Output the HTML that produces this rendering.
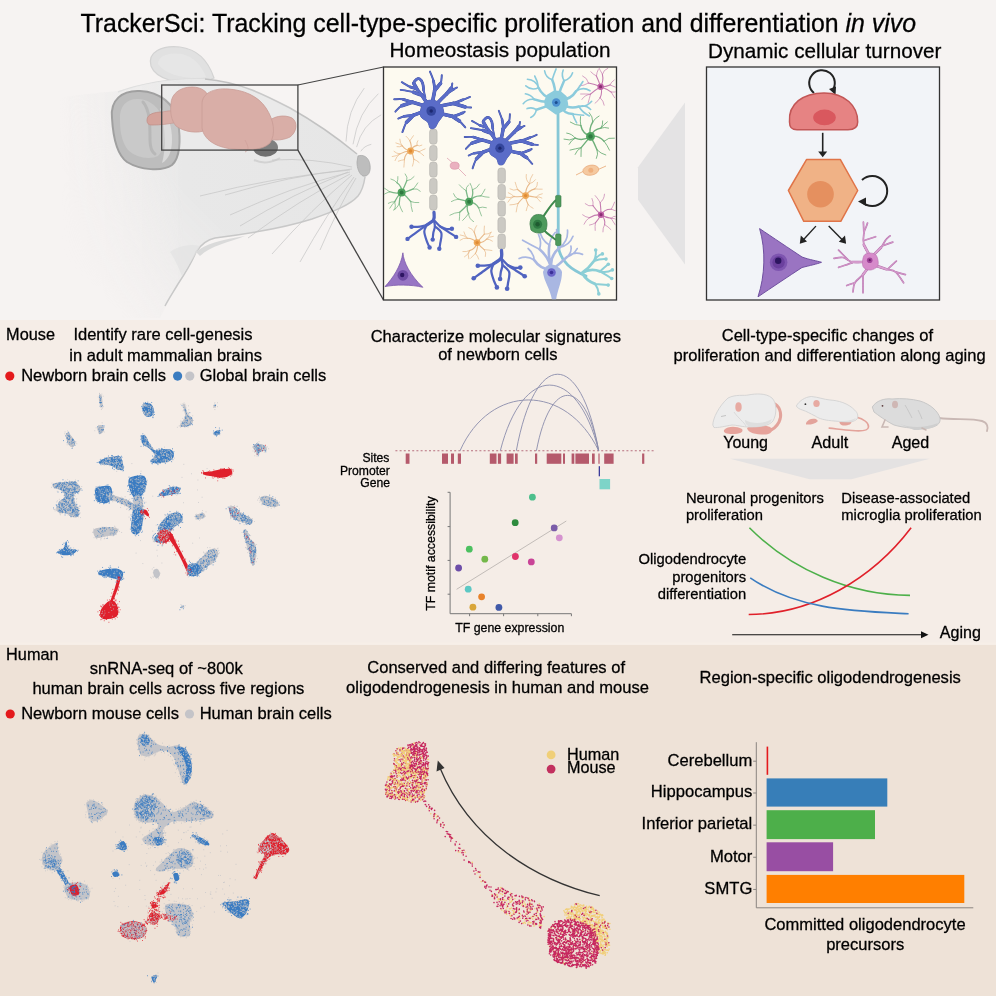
<!DOCTYPE html>
<html><head><meta charset="utf-8"><title>TrackerSci graphical abstract</title>
<style>
html,body{margin:0;padding:0;background:#f6f3f2;}
body{width:996px;height:996px;overflow:hidden;}
svg{display:block;font-family:'Liberation Sans', Arial, Helvetica, sans-serif;}
text{stroke:#000;stroke-width:0.28px;}
</style></head><body>
<svg width="996" height="996" viewBox="0 0 996 996">
<rect x="0" y="0" width="996" height="320" fill="#f6f3f2"/>
<rect x="0" y="320" width="996" height="325" fill="#f5ede7"/>
<rect x="0" y="645" width="996" height="351" fill="#eee2d7"/>
<rect x="0" y="642.5" width="996" height="2" fill="#f7efe8"/>
<defs>
<linearGradient id="hg" x1="0" y1="0" x2="1" y2="0" gradientUnits="objectBoundingBox">
 <stop offset="0" stop-color="#e9e9e9" stop-opacity="0"/>
 <stop offset="0.22" stop-color="#e9e9e9" stop-opacity="0.55"/>
 <stop offset="0.4" stop-color="#e8e8e8" stop-opacity="1"/>
 <stop offset="1" stop-color="#e6e6e6" stop-opacity="1"/>
</linearGradient>
<linearGradient id="mg" gradientUnits="userSpaceOnUse" x1="105" y1="300" x2="200" y2="205">
 <stop offset="0" stop-color="#fff" stop-opacity="0"/>
 <stop offset="0.55" stop-color="#fff" stop-opacity="0.6"/>
 <stop offset="1" stop-color="#fff" stop-opacity="1"/>
</linearGradient>
<mask id="hm" maskUnits="userSpaceOnUse" x="0" y="0" width="400" height="330"><rect x="0" y="0" width="400" height="330" fill="url(#mg)"/></mask>
</defs>
<path d="M151,66 C147,52 162,45 180,47 C196,49 208,60 214,78 L200,84 C180,84 156,80 151,66 Z" fill="#e1e1e1" stroke="#d3d3d3" stroke-width="1.2"/>
<path d="M158,64 C158,55 170,52 182,54 C194,57 202,66 206,77 C190,80 166,76 158,64 Z" fill="#e6e6e6"/>
<g mask="url(#hm)">
<path d="M118,92 C140,84 170,78 205,79" fill="none" stroke="#dcdcdc" stroke-width="1.4"/>
<path d="M60,98 C85,94 105,92 120,91 C140,84 170,78 205,79 C240,82 265,95 290,108 C315,122 340,140 357,154 C362,157 368,160 370,166 C371,171 368,176 365,177 C364,184 362,191 358,196 C350,205 335,211 312,219 C290,226 255,233 215,238 C205,240 200,246 196,252 C192,262 186,272 178,284 C172,294 166,305 160,318 L60,318 Z" fill="url(#hg)"/>
</g>
<path d="M205,79 C240,82 265,95 290,108 C315,122 340,140 357,154" fill="none" stroke="#c2c2c2" stroke-width="1.5"/>
<path d="M365,177 C364,184 362,191 358,196 C350,205 335,211 312,219 C290,226 255,233 215,238 C205,240 200,246 196,252 C192,262 186,272 178,284 C172,294 168,300 165,306" fill="none" stroke="#c8c8c8" stroke-width="1.5"/>
<path d="M196,252 C205,244 220,240 245,236 C230,242 210,246 200,256 Z" fill="#dadada"/>
<path d="M170,252 C180,245 192,244 200,246 C195,256 188,266 182,276 C178,266 174,258 170,252 Z" fill="#e2e2e2" opacity="0.7"/>
<path d="M358,156 C363,154 369,157 370,165 C371,172 368,177 363,176 C359,174 357,168 357,162 Z" fill="#bdbdbd" stroke="#aaa" stroke-width="0.8"/>
<ellipse cx="265.5" cy="147.5" rx="12.5" ry="9.3" fill="#6f6f6f"/>
<path d="M254,160 C262,164 272,163 280,158" fill="none" stroke="#d2d2d2" stroke-width="2"/>
<path d="M112,118 C110,100 122,90 140,91 C160,92 175,104 178,122 C181,140 180,158 172,165 C162,172 140,170 127,162 C116,154 113,136 112,118 Z" fill="#bdbdbd" stroke="#a0a0a0" stroke-width="2"/>
<path d="M120,120 C119,106 127,98 139,99 C152,100 162,110 164,124 C166,138 164,150 158,156 C150,160 136,158 128,150 C122,142 120,132 120,120 Z" fill="#c9c9c9"/>
<path d="M160,108 C168,114 172,126 172,140 C172,152 168,160 162,163 C166,150 166,128 160,108 Z" fill="#d9d9d9"/>
<path d="M143,102 C150,110 150,125 150,140 C150,148 152,152 155,154" fill="none" stroke="#b8b8b8" stroke-width="3" stroke-linecap="round"/>
<path d="M352,167 Q312.0,157.5 272,160" fill="none" stroke="#c4c4c4" stroke-width="0.7"/>
<path d="M352,169 Q288.5,176.0 225,195" fill="none" stroke="#c4c4c4" stroke-width="0.7"/>
<path d="M350,172 Q290.0,187.5 230,215" fill="none" stroke="#c4c4c4" stroke-width="0.7"/>
<path d="M350,174 Q299.0,200.0 248,238" fill="none" stroke="#c4c4c4" stroke-width="0.7"/>
<path d="M352,175 Q312.0,208.5 272,254" fill="none" stroke="#c4c4c4" stroke-width="0.7"/>
<path d="M354,177 Q327.0,213.5 300,262" fill="none" stroke="#c4c4c4" stroke-width="0.7"/>
<path d="M356,178 Q338.0,208.0 320,250" fill="none" stroke="#c4c4c4" stroke-width="0.7"/>
<path d="M350,170 Q275.0,177.0 200,196" fill="none" stroke="#c4c4c4" stroke-width="0.7"/>
<path d="M348,172 Q294.0,193.0 240,226" fill="none" stroke="#c4c4c4" stroke-width="0.7"/>
<path d="M346,141.5 Q347,110 364.3,88.1" fill="none" stroke="#c4c4c4" stroke-width="0.7"/>
<path d="M353,144.3 Q358,112 378.4,93.7" fill="none" stroke="#c4c4c4" stroke-width="0.7"/>
<path d="M356.6,147.1 Q362,125 381.2,114.8" fill="none" stroke="#c4c4c4" stroke-width="0.7"/>
<path d="M360.8,151.3 Q364,146 371.3,144.3" fill="none" stroke="#c4c4c4" stroke-width="0.7"/>
<g fill="#d4a39b" stroke="#c18f88" stroke-width="0.8"><path d="M147,120 C147,114 155,112 162,112 C168,111 172,110 176,112 L178,122 C170,124 160,125 152,125 C148,125 147,123 147,120 Z"/><path d="M171,104 C171,94 180,87 192,87 C202,87 208,92 210,100 C212,112 212,124 206,130 C198,134 184,132 176,126 C171,120 170,112 171,104 Z"/><path d="M266,124 C272,116 284,114 292,118 C298,122 297,132 290,137 C282,141 270,141 264,137 Z"/><path d="M202,104 C202,93 214,88 228,89 C244,90 258,96 266,108 C274,120 276,134 270,143 C262,151 246,150 232,149 C216,147 204,140 202,128 Z"/></g>
<path d="M245,140 C248,146 250,150 245,152" fill="none" stroke="#c6918a" stroke-width="0.6"/>
<rect x="161.7" y="85" width="136.2" height="65.1" fill="#ffffff" fill-opacity="0.12" stroke="#444" stroke-width="1.3"/>
<line x1="297.9" y1="85" x2="383.5" y2="67" stroke="#444" stroke-width="1.1"/>
<line x1="297.9" y1="150.1" x2="383.5" y2="300" stroke="#444" stroke-width="1.3"/>
<rect x="383.5" y="67" width="233" height="233" fill="#fdfaf0" stroke="#333" stroke-width="1.3"/>
<rect x="706.5" y="67" width="233" height="233" fill="#f2f4f8" stroke="#333" stroke-width="1.3"/>
<polygon points="685,102.4 638,167.3 638,199.7 685,264.5" fill="#e4e3e4"/>
<defs><clipPath id="hbox"><rect x="384.2" y="67.7" width="231.6" height="231.6"/></clipPath></defs>
<g clip-path="url(#hbox)">
<g fill="none" stroke="#e8b98a" stroke-linecap="round" stroke-linejoin="round"><path stroke-width="1.1" d="M410.6,151.0 Q404.9,151.0 400.0,153.9 M410.6,151.0 Q405.6,150.1 402.4,146.0 M410.6,151.0 Q412.2,145.7 409.8,140.8 M410.6,151.0 Q412.4,146.5 417.1,145.4 M410.6,151.0 Q415.0,149.4 419.0,151.8 M410.6,151.0 Q413.3,154.7 413.8,159.2 M410.6,151.0 Q404.9,153.5 404.4,159.7"/><path stroke-width="0.7" d="M400.0,153.9 Q396.2,156.3 395.0,160.6 M400.0,153.9 Q396.4,156.3 392.2,156.6 M400.0,153.9 Q396.5,153.7 394.0,151.4 M402.4,146.0 Q399.8,147.3 397.0,146.7 M402.4,146.0 Q399.6,143.6 395.9,142.9 M402.4,146.0 Q399.8,143.1 399.8,139.2 M409.8,140.8 Q408.4,138.2 406.1,136.3 M409.8,140.8 Q411.7,138.3 413.4,135.7 M417.1,145.4 Q416.2,142.8 417.8,140.7 M417.1,145.4 Q419.5,146.7 421.9,145.2 M419.0,151.8 Q421.9,150.1 425.1,148.9 M419.0,151.8 Q421.5,153.7 423.8,155.7 M413.8,159.2 Q416.8,160.2 419.1,162.5 M413.8,159.2 Q413.7,162.7 412.5,166.1 M404.4,159.7 Q404.3,163.4 403.9,167.1 M404.4,159.7 Q401.3,160.0 398.3,161.2"/></g>
<circle cx="410.6" cy="151" r="3.4" fill="#eea858"/>
<circle cx="410.6" cy="151" r="1.7" fill="#e08c35"/>
<g fill="none" stroke="#e8b98a" stroke-linecap="round" stroke-linejoin="round"><path stroke-width="1.1" d="M525.6,195.6 Q519.9,197.4 514.0,196.5 M525.6,195.6 Q521.5,192.7 517.6,189.5 M525.6,195.6 Q525.2,188.9 529.5,183.7 M525.6,195.6 Q528.9,190.5 534.9,188.9 M525.6,195.6 Q530.8,196.3 536.1,197.2 M525.6,195.6 Q525.6,200.5 528.2,204.7 M525.6,195.6 Q521.4,199.1 518.0,203.5"/><path stroke-width="0.7" d="M514.0,196.5 Q509.8,198.0 507.9,202.1 M514.0,196.5 Q510.1,198.4 505.9,197.2 M514.0,196.5 Q511.6,194.0 508.3,192.7 M517.6,189.5 Q513.6,191.3 510.0,188.9 M517.6,189.5 Q516.2,185.9 515.2,182.3 M529.5,183.7 Q525.2,180.1 526.3,174.5 M529.5,183.7 Q529.7,178.6 532.7,174.5 M529.5,183.7 Q533.3,182.9 535.5,179.7 M534.9,188.9 Q537.9,186.4 537.5,182.4 M534.9,188.9 Q538.5,189.3 542.2,189.2 M536.1,197.2 Q538.5,194.1 542.3,193.7 M536.1,197.2 Q539.2,196.2 541.9,198.0 M536.1,197.2 Q538.4,199.2 540.3,201.6 M528.2,204.7 Q530.4,206.9 533.1,208.3 M528.2,204.7 Q526.8,207.6 526.2,210.7 M518.0,203.5 Q516.7,207.6 516.2,211.9 M518.0,203.5 Q514.1,204.8 509.9,204.9"/></g>
<circle cx="525.6" cy="195.6" r="3.4" fill="#eea858"/>
<circle cx="525.6" cy="195.6" r="1.7" fill="#e08c35"/>
<g fill="none" stroke="#e8b98a" stroke-linecap="round" stroke-linejoin="round"><path stroke-width="1.1" d="M477.1,242.6 Q478.4,248.4 475.4,253.5 M477.1,242.6 Q475.7,248.8 469.5,250.6 M477.1,242.6 Q473.1,238.5 467.4,238.3 M477.1,242.6 Q476.3,237.4 474.3,232.5 M477.1,242.6 Q480.5,238.2 484.3,234.2 M477.1,242.6 Q482.8,243.4 486.6,239.2 M477.1,242.6 Q480.3,246.5 484.2,249.6"/><path stroke-width="0.7" d="M475.4,253.5 Q478.0,255.8 478.7,259.1 M475.4,253.5 Q473.0,255.8 470.7,258.1 M469.5,250.6 Q467.1,254.5 468.8,258.8 M469.5,250.6 Q468.5,254.9 464.5,256.9 M469.5,250.6 Q466.4,252.1 462.9,251.6 M467.4,238.3 Q463.3,237.5 460.1,240.2 M467.4,238.3 Q464.5,235.1 460.2,234.9 M467.4,238.3 Q464.8,235.6 463.9,231.9 M474.3,232.5 Q472.8,228.5 468.8,227.6 M474.3,232.5 Q474.3,228.6 476.6,225.6 M484.3,234.2 Q483.8,230.2 484.4,226.1 M484.3,234.2 Q488.3,234.6 491.5,232.2 M486.6,239.2 Q489.7,236.5 490.7,232.6 M486.6,239.2 Q489.3,236.3 493.3,236.3 M486.6,239.2 Q489.9,239.1 492.4,241.1 M484.2,249.6 Q488.0,249.9 491.9,250.5 M484.2,249.6 Q486.8,252.7 485.4,256.5"/></g>
<circle cx="477.1" cy="242.6" r="3.4" fill="#eea858"/>
<circle cx="477.1" cy="242.6" r="1.7" fill="#e08c35"/>
<g fill="none" stroke="#7cb887" stroke-linecap="round" stroke-linejoin="round"><path stroke-width="1.3" d="M401.6,192.5 Q406.9,196.3 410.8,201.6 M401.6,192.5 Q399.1,198.0 399.2,204.1 M401.6,192.5 Q397.0,196.2 394.7,201.7 M401.6,192.5 Q395.4,193.9 389.5,191.7 M401.6,192.5 Q402.2,186.3 397.0,182.7 M401.6,192.5 Q404.4,186.8 406.8,180.8 M401.6,192.5 Q407.8,191.8 413.3,188.9"/><path stroke-width="0.8" d="M410.8,201.6 Q414.7,203.0 418.8,202.6 M410.8,201.6 Q410.9,206.6 412.4,211.5 M399.2,204.1 Q400.4,208.1 402.5,211.8 M399.2,204.1 Q397.3,208.1 393.4,210.2 M394.7,201.7 Q396.1,205.7 394.8,209.7 M394.7,201.7 Q391.9,204.7 389.8,208.2 M394.7,201.7 Q391.2,201.5 388.3,203.3 M389.5,191.7 Q384.8,193.4 380.9,196.5 M389.5,191.7 Q386.8,189.6 383.9,187.9 M397.0,182.7 Q394.6,179.8 390.9,179.0 M397.0,182.7 Q398.2,179.7 397.9,176.6 M406.8,180.8 Q408.0,176.9 405.2,173.9 M406.8,180.8 Q411.3,180.3 414.1,176.6 M413.3,188.9 Q415.7,186.1 417.8,182.9 M413.3,188.9 Q417.5,188.0 420.3,191.2"/></g>
<circle cx="401.6" cy="192.5" r="4" fill="#4da05c"/>
<circle cx="401.6" cy="192.5" r="2.0" fill="#2f7a40"/>
<g fill="none" stroke="#7cb887" stroke-linecap="round" stroke-linejoin="round"><path stroke-width="1.3" d="M469.1,201.8 Q473.3,195.5 480.9,195.8 M469.1,201.8 Q475.5,202.3 478.7,207.8 M469.1,201.8 Q465.6,207.6 468.6,213.6 M469.1,201.8 Q465.3,207.8 459.7,212.2 M469.1,201.8 Q463.7,200.3 458.3,199.2 M469.1,201.8 Q467.2,196.4 466.1,190.7 M469.1,201.8 Q473.9,196.7 472.5,189.9"/><path stroke-width="0.8" d="M480.9,195.8 Q483.4,192.8 485.0,189.2 M480.9,195.8 Q484.9,197.2 489.1,197.3 M478.7,207.8 Q482.5,206.4 486.4,207.7 M478.7,207.8 Q479.9,211.9 481.5,215.9 M468.6,213.6 Q468.8,219.1 473.6,221.6 M468.6,213.6 Q466.0,217.2 462.7,220.4 M459.7,212.2 Q459.7,216.3 459.3,220.3 M459.7,212.2 Q454.5,212.5 449.9,215.2 M458.3,199.2 Q454.6,199.7 451.4,201.5 M458.3,199.2 Q454.6,197.5 453.5,193.7 M466.1,190.7 Q462.2,188.4 459.3,184.8 M466.1,190.7 Q465.7,187.0 468.6,184.8 M472.5,189.9 Q471.8,186.4 470.1,183.3 M472.5,189.9 Q477.2,188.5 479.5,184.1"/></g>
<circle cx="469.1" cy="201.8" r="4" fill="#4da05c"/>
<circle cx="469.1" cy="201.8" r="2.0" fill="#2f7a40"/>
<g fill="none" stroke="#6fb07a" stroke-linecap="round" stroke-linejoin="round"><path stroke-width="1.4" d="M590.5,136.4 Q585.8,142.0 581.2,147.6 M590.5,136.4 Q583.3,141.4 575.2,138.2 M590.5,136.4 Q582.6,133.7 580.8,125.5 M590.5,136.4 Q588.6,128.6 592.8,121.8 M590.5,136.4 Q593.4,129.4 600.9,128.1 M590.5,136.4 Q598.6,135.1 604.1,141.2 M590.5,136.4 Q594.2,143.0 597.1,149.9"/><path stroke-width="0.9" d="M581.2,147.6 Q581.1,152.1 581.0,156.5 M581.2,147.6 Q576.8,149.8 575.1,154.4 M581.2,147.6 Q575.6,148.8 570.0,150.1 M575.2,138.2 Q571.1,140.2 569.1,144.3 M575.2,138.2 Q569.8,141.3 564.0,139.2 M575.2,138.2 Q572.2,133.7 566.7,133.1 M580.8,125.5 Q575.0,125.4 570.3,122.1 M580.8,125.5 Q579.9,121.1 580.5,116.6 M592.8,121.8 Q592.9,116.5 589.2,112.6 M592.8,121.8 Q595.1,118.0 599.1,116.0 M600.9,128.1 Q603.1,124.8 602.7,120.9 M600.9,128.1 Q603.7,124.6 607.3,121.9 M600.9,128.1 Q604.7,126.8 608.6,128.1 M604.1,141.2 Q608.4,136.9 614.4,138.1 M604.1,141.2 Q607.3,145.4 609.5,150.2 M597.1,149.9 Q600.7,153.7 605.8,155.0 M597.1,149.9 Q598.5,154.3 596.4,158.4"/></g>
<circle cx="590.5" cy="136.4" r="4.4" fill="#4da05c"/>
<circle cx="590.5" cy="136.4" r="2.2" fill="#2f7a40"/>
<g fill="none" stroke="#c57db0" stroke-linecap="round" stroke-linejoin="round"><path stroke-width="1.1" d="M600.6,86.7 Q594.8,84.2 588.5,83.0 M600.6,86.7 Q598.9,81.2 596.4,76.0 M600.6,86.7 Q603.9,80.8 602.4,74.3 M600.6,86.7 Q605.5,86.9 610.0,84.9 M600.6,86.7 Q606.3,88.6 611.2,92.1 M600.6,86.7 Q602.8,92.3 600.1,97.7 M600.6,86.7 Q595.1,89.9 590.5,94.2"/><path stroke-width="0.7" d="M588.5,83.0 Q584.2,85.6 579.2,86.1 M588.5,83.0 Q587.4,77.9 582.6,75.9 M596.4,76.0 Q593.2,74.4 590.8,71.8 M596.4,76.0 Q596.7,72.6 598.2,69.6 M602.4,74.3 Q600.4,70.5 598.3,66.8 M602.4,74.3 Q603.5,69.8 607.8,68.3 M610.0,84.9 Q611.3,81.8 614.2,80.0 M610.0,84.9 Q612.7,86.2 615.6,87.2 M611.2,92.1 Q614.7,92.4 618.0,91.3 M611.2,92.1 Q612.9,95.0 614.7,97.8 M600.1,97.7 Q603.6,100.6 604.2,105.2 M600.1,97.7 Q598.3,101.0 595.1,103.2 M590.5,94.2 Q589.4,98.6 588.1,103.0 M590.5,94.2 Q584.9,94.7 581.9,99.4 M590.5,94.2 Q585.6,93.9 580.6,94.0"/></g>
<circle cx="600.6" cy="86.7" r="3.2" fill="#c062a6"/>
<circle cx="600.6" cy="86.7" r="1.6" fill="#8a2f72"/>
<g fill="none" stroke="#c57db0" stroke-linecap="round" stroke-linejoin="round"><path stroke-width="1.1" d="M601.0,214.7 Q605.6,218.6 604.6,224.6 M601.0,214.7 Q598.6,219.1 595.4,222.9 M601.0,214.7 Q594.7,214.4 589.4,217.7 M601.0,214.7 Q596.4,210.7 593.0,205.7 M601.0,214.7 Q600.9,208.6 600.2,202.6 M601.0,214.7 Q604.5,208.9 611.3,209.2 M601.0,214.7 Q605.6,217.5 611.0,218.2"/><path stroke-width="0.7" d="M604.6,224.6 Q608.1,226.6 610.9,229.6 M604.6,224.6 Q602.6,228.0 602.9,231.9 M595.4,222.9 Q594.8,226.6 595.2,230.4 M595.4,222.9 Q592.7,224.6 589.5,225.1 M589.4,217.7 Q585.7,220.1 584.0,224.2 M589.4,217.7 Q585.6,217.3 582.6,214.8 M593.0,205.7 Q588.5,206.9 585.2,203.7 M593.0,205.7 Q593.7,202.0 592.0,198.5 M600.2,202.6 Q598.1,198.8 595.2,195.6 M600.2,202.6 Q604.3,199.4 604.5,194.2 M611.3,209.2 Q613.3,205.9 614.6,202.1 M611.3,209.2 Q614.7,211.5 618.8,210.6 M611.0,218.2 Q613.4,215.6 616.8,216.2 M611.0,218.2 Q614.7,218.0 617.6,220.2 M611.0,218.2 Q613.1,221.5 615.3,224.9"/></g>
<circle cx="601.0" cy="214.7" r="3.2" fill="#c062a6"/>
<circle cx="601.0" cy="214.7" r="1.6" fill="#8a2f72"/>
<path d="M447,158 L454,164 M458,168 L466,176" stroke="#e0a3b3" stroke-width="0.8"/>
<ellipse cx="454.7" cy="165.7" rx="4.5" ry="3.6" fill="#eab0bf" stroke="#d98ea3" stroke-width="0.6"/>
<path d="M576,175 L584,171 M597,170 L606,166" stroke="#edb88c" stroke-width="1"/>
<ellipse cx="590.8" cy="170.2" rx="8" ry="5" fill="#f5c9a0" stroke="#e8a878" stroke-width="0.7" transform="rotate(-10 590.8 170.2)"/>
<circle cx="590.8" cy="170.2" r="2.5" fill="#efb07e"/>
<rect x="429.6" y="129.0" width="7.5" height="15.2" rx="3" fill="#cbc9c3" stroke="#b4b2ac" stroke-width="0.6"/>
<rect x="429.6" y="145.5" width="7.5" height="15.2" rx="3" fill="#cbc9c3" stroke="#b4b2ac" stroke-width="0.6"/>
<rect x="429.6" y="162.0" width="7.5" height="15.2" rx="3" fill="#cbc9c3" stroke="#b4b2ac" stroke-width="0.6"/>
<rect x="429.6" y="178.5" width="7.5" height="15.2" rx="3" fill="#cbc9c3" stroke="#b4b2ac" stroke-width="0.6"/>
<rect x="429.6" y="195.0" width="7.5" height="15.2" rx="3" fill="#cbc9c3" stroke="#b4b2ac" stroke-width="0.6"/>
<g fill="none" stroke="#5063c0" stroke-linecap="round" stroke-linejoin="round"><path stroke-width="2.20" d="M434.0,212.4 C433.9,213.6 434.8,217.6 433.6,219.7 C432.4,221.8 429.4,223.0 426.7,225.0 C424.0,227.0 420.6,229.3 417.4,231.6 C414.2,233.9 409.2,237.7 407.5,238.9"/><path stroke-width="3.20" d="M434.0,212.4 C433.9,213.6 434.8,217.6 433.6,219.7 C432.4,221.8 427.9,224.1 426.7,225.0"/><path stroke-width="2.20" d="M426.7,225.0 C425.6,225.3 422.6,226.3 420.1,226.6 C417.5,226.9 412.9,226.8 411.5,226.8"/><path stroke-width="2.20" d="M426.7,225.0 C426.3,226.1 424.3,229.0 424.3,231.6 C424.3,234.3 425.8,238.2 426.7,240.9 C427.6,243.5 429.1,246.4 429.6,247.5"/><path stroke-width="2.20" d="M433.6,219.7 C433.8,220.8 435.0,224.1 434.9,226.3 C434.9,228.5 433.7,230.7 433.3,232.9 C433.0,235.1 432.8,238.5 432.7,239.6"/><path stroke-width="2.20" d="M434.9,226.3 C436.0,227.4 440.4,230.1 441.3,232.9 C442.2,235.8 440.6,240.9 440.2,243.5 C439.9,246.2 439.5,248.0 439.3,248.8"/><path stroke-width="2.20" d="M433.6,219.7 C434.7,220.8 437.6,224.3 440.0,226.3 C442.3,228.3 445.2,229.8 447.9,231.6 C450.6,233.4 454.8,236.0 456.1,236.9"/><path stroke-width="2.20" d="M440.0,226.3 C441.1,226.8 444.6,228.6 446.6,229.0 C448.6,229.4 451.0,228.7 451.9,228.7"/></g>
<circle cx="407.5" cy="238.9" r="2.2" fill="#5063c0"/><circle cx="411.5" cy="226.8" r="2.2" fill="#5063c0"/><circle cx="429.6" cy="247.5" r="2.2" fill="#5063c0"/><circle cx="432.7" cy="239.6" r="2.2" fill="#5063c0"/><circle cx="439.3" cy="248.8" r="2.2" fill="#5063c0"/><circle cx="456.1" cy="236.9" r="2.2" fill="#5063c0"/><circle cx="451.9" cy="228.7" r="2.2" fill="#5063c0"/>
<g fill="none" stroke="#4152a6" stroke-linecap="round" stroke-linejoin="round"><path stroke-width="1.95" d="M426.5,102.2 C425.7,101.0 423.4,97.3 421.8,95.1 C420.2,93.0 419.1,90.6 417.1,89.3 C415.1,87.9 412.6,88.1 410.1,86.9 C407.5,85.7 403.2,83.0 401.8,82.2"/><path stroke-width="2.78" d="M426.5,102.2 C425.7,101.0 423.4,97.3 421.8,95.1 C420.2,93.0 419.1,90.6 417.1,89.3 C415.1,87.9 411.2,87.3 410.1,86.9"/><path stroke-width="3.60" d="M426.5,102.2 C425.7,101.0 422.6,96.3 421.8,95.1"/><path stroke-width="1.95" d="M417.1,89.3 C416.6,88.3 414.0,85.0 413.8,83.4 C413.7,81.8 415.2,80.4 416.2,79.6 C417.1,78.9 418.6,78.3 419.7,78.9 C420.8,79.6 422.1,81.5 422.7,83.4 C423.4,85.3 423.3,88.1 423.7,90.4 C424.1,92.8 425.1,96.3 425.3,97.5"/><path stroke-width="2.78" d="M417.1,89.3 C416.6,88.3 414.0,85.0 413.8,83.4 C413.7,81.8 415.2,80.4 416.2,79.6 C417.1,78.9 418.6,78.3 419.7,78.9 C420.8,79.6 422.1,81.5 422.7,83.4 C423.4,85.3 423.5,89.3 423.7,90.4"/><path stroke-width="3.60" d="M417.1,89.3 C416.6,88.3 414.4,84.4 413.8,83.4"/><path stroke-width="1.95" d="M421.8,95.1 C420.4,94.7 417.1,93.1 413.6,92.2 C410.1,91.3 402.8,90.2 400.7,89.9"/><path stroke-width="2.78" d="M421.8,95.1 C420.4,94.7 415.0,92.7 413.6,92.2"/><path stroke-width="3.60" d="M421.8,95.1 C420.4,94.7 415.0,92.7 413.6,92.2"/><path stroke-width="1.95" d="M424.2,105.7 C422.2,105.1 415.9,103.3 412.4,102.2 C408.9,101.1 406.0,99.7 403.0,99.3 C400.0,98.8 395.7,99.3 394.2,99.3"/><path stroke-width="2.78" d="M424.2,105.7 C422.2,105.1 415.9,103.3 412.4,102.2 C408.9,101.1 404.6,99.7 403.0,99.3"/><path stroke-width="3.60" d="M424.2,105.7 C422.2,105.1 414.4,102.8 412.4,102.2"/><path stroke-width="1.95" d="M412.4,102.2 C410.6,102.8 404.7,104.1 401.8,105.7 C399.0,107.3 396.4,110.6 395.4,111.6"/><path stroke-width="2.78" d="M412.4,102.2 C410.6,102.8 403.6,105.1 401.8,105.7"/><path stroke-width="3.60" d="M412.4,102.2 C410.6,102.8 403.6,105.1 401.8,105.7"/><path stroke-width="1.95" d="M423.0,111.6 C421.4,112.2 416.7,114.3 413.6,115.1 C410.4,115.9 406.7,115.7 404.2,116.3 C401.6,116.9 399.3,118.2 398.3,118.6"/><path stroke-width="2.78" d="M423.0,111.6 C421.4,112.2 416.7,114.3 413.6,115.1 C410.4,115.9 405.7,116.1 404.2,116.3"/><path stroke-width="3.60" d="M423.0,111.6 C421.4,112.2 415.1,114.5 413.6,115.1"/><path stroke-width="1.95" d="M413.6,115.1 C412.4,116.3 408.4,119.3 406.5,122.2 C404.7,125.0 403.1,130.5 402.4,132.1"/><path stroke-width="2.78" d="M413.6,115.1 C412.4,116.3 407.7,121.0 406.5,122.2"/><path stroke-width="3.60" d="M413.6,115.1 C412.4,116.3 407.7,121.0 406.5,122.2"/><path stroke-width="1.95" d="M432.4,102.2 C432.8,100.2 434.5,94.0 434.7,90.4 C434.9,86.9 434.3,84.2 433.5,81.0 C432.8,77.9 430.6,73.2 430.0,71.6"/><path stroke-width="2.78" d="M432.4,102.2 C432.8,100.2 434.5,94.0 434.7,90.4 C434.9,86.9 433.7,82.6 433.5,81.0"/><path stroke-width="3.60" d="M432.4,102.2 C432.8,100.2 434.3,92.4 434.7,90.4"/><path stroke-width="1.95" d="M434.7,90.4 C435.7,89.3 439.4,85.9 440.6,83.4 C441.8,80.9 441.6,76.5 441.8,75.2"/><path stroke-width="2.78" d="M434.7,90.4 C435.7,89.3 439.6,84.6 440.6,83.4"/><path stroke-width="3.60" d="M434.7,90.4 C435.7,89.3 439.6,84.6 440.6,83.4"/><path stroke-width="1.95" d="M438.2,102.2 C439.6,100.8 443.9,96.1 446.5,94.0 C449.0,91.8 451.8,90.3 453.5,89.3 C455.3,88.2 456.5,87.8 457.0,87.5"/><path stroke-width="2.78" d="M438.2,102.2 C439.6,100.8 443.9,96.1 446.5,94.0 C449.0,91.8 452.3,90.1 453.5,89.3"/><path stroke-width="3.60" d="M438.2,102.2 C439.6,100.8 445.1,95.3 446.5,94.0"/><path stroke-width="1.95" d="M446.5,94.0 C447.3,93.0 450.2,89.9 451.2,88.1 C452.1,86.3 452.1,84.2 452.3,83.4"/><path stroke-width="2.78" d="M446.5,94.0 C447.3,93.0 450.4,89.1 451.2,88.1"/><path stroke-width="3.60" d="M446.5,94.0 C447.3,93.0 450.4,89.1 451.2,88.1"/><path stroke-width="1.95" d="M441.8,105.7 C443.7,105.3 450.0,104.3 453.5,103.4 C457.0,102.4 460.2,100.9 462.9,99.8 C465.7,98.8 468.8,97.4 470.0,96.9"/><path stroke-width="2.78" d="M441.8,105.7 C443.7,105.3 450.0,104.3 453.5,103.4 C457.0,102.4 461.3,100.4 462.9,99.8"/><path stroke-width="3.60" d="M441.8,105.7 C443.7,105.3 451.6,103.8 453.5,103.4"/><path stroke-width="1.95" d="M453.5,103.4 C455.5,104.0 462.3,106.2 465.3,106.9 C468.2,107.6 470.2,107.4 471.1,107.5"/><path stroke-width="2.78" d="M453.5,103.4 C455.5,104.0 463.3,106.3 465.3,106.9"/><path stroke-width="3.60" d="M453.5,103.4 C455.5,104.0 463.3,106.3 465.3,106.9"/><path stroke-width="1.95" d="M441.8,113.9 C443.5,114.3 448.8,116.5 452.3,116.3 C455.9,116.1 460.9,113.5 462.9,112.8 C465.0,112.0 464.4,112.0 464.7,111.8"/><path stroke-width="2.78" d="M441.8,113.9 C443.5,114.3 448.8,116.5 452.3,116.3 C455.9,116.1 461.2,113.3 462.9,112.8"/><path stroke-width="3.60" d="M441.8,113.9 C443.5,114.3 450.6,115.9 452.3,116.3"/><path stroke-width="1.95" d="M452.3,116.3 C453.5,117.1 457.2,119.1 459.4,121.0 C461.5,122.8 464.3,126.4 465.3,127.4"/><path stroke-width="2.78" d="M452.3,116.3 C453.5,117.1 458.2,120.2 459.4,121.0"/><path stroke-width="3.60" d="M452.3,116.3 C453.5,117.1 458.2,120.2 459.4,121.0"/></g>
<path d="M421.8,105.7 C422.8,103.2 424.3,101.9 426.5,101.0 C428.7,100.1 432.2,99.6 434.7,100.4 C437.3,101.2 440.3,103.5 441.8,105.7 C443.2,108.0 444.1,111.2 443.5,113.9 C442.9,116.7 439.7,119.8 438.2,122.2 C436.8,124.5 436.1,127.1 434.7,128.0 C433.4,129.0 431.2,129.0 430.0,128.0 C428.9,127.1 429.2,124.1 427.7,122.2 C426.1,120.2 421.6,119.0 420.6,116.3 C419.6,113.5 420.8,108.3 421.8,105.7Z" fill="#4152a6" stroke="#4152a6" stroke-width="0.7"/>
<g fill="none" stroke="#5a6cc8" stroke-linecap="round" stroke-linejoin="round"><path stroke-width="1.25" d="M426.5,102.2 C425.7,101.0 423.4,97.3 421.8,95.1 C420.2,93.0 419.1,90.6 417.1,89.3 C415.1,87.9 412.6,88.1 410.1,86.9 C407.5,85.7 403.2,83.0 401.8,82.2"/><path stroke-width="2.08" d="M426.5,102.2 C425.7,101.0 423.4,97.3 421.8,95.1 C420.2,93.0 419.1,90.6 417.1,89.3 C415.1,87.9 411.2,87.3 410.1,86.9"/><path stroke-width="2.90" d="M426.5,102.2 C425.7,101.0 422.6,96.3 421.8,95.1"/><path stroke-width="1.25" d="M417.1,89.3 C416.6,88.3 414.0,85.0 413.8,83.4 C413.7,81.8 415.2,80.4 416.2,79.6 C417.1,78.9 418.6,78.3 419.7,78.9 C420.8,79.6 422.1,81.5 422.7,83.4 C423.4,85.3 423.3,88.1 423.7,90.4 C424.1,92.8 425.1,96.3 425.3,97.5"/><path stroke-width="2.08" d="M417.1,89.3 C416.6,88.3 414.0,85.0 413.8,83.4 C413.7,81.8 415.2,80.4 416.2,79.6 C417.1,78.9 418.6,78.3 419.7,78.9 C420.8,79.6 422.1,81.5 422.7,83.4 C423.4,85.3 423.5,89.3 423.7,90.4"/><path stroke-width="2.90" d="M417.1,89.3 C416.6,88.3 414.4,84.4 413.8,83.4"/><path stroke-width="1.25" d="M421.8,95.1 C420.4,94.7 417.1,93.1 413.6,92.2 C410.1,91.3 402.8,90.2 400.7,89.9"/><path stroke-width="2.08" d="M421.8,95.1 C420.4,94.7 415.0,92.7 413.6,92.2"/><path stroke-width="2.90" d="M421.8,95.1 C420.4,94.7 415.0,92.7 413.6,92.2"/><path stroke-width="1.25" d="M424.2,105.7 C422.2,105.1 415.9,103.3 412.4,102.2 C408.9,101.1 406.0,99.7 403.0,99.3 C400.0,98.8 395.7,99.3 394.2,99.3"/><path stroke-width="2.08" d="M424.2,105.7 C422.2,105.1 415.9,103.3 412.4,102.2 C408.9,101.1 404.6,99.7 403.0,99.3"/><path stroke-width="2.90" d="M424.2,105.7 C422.2,105.1 414.4,102.8 412.4,102.2"/><path stroke-width="1.25" d="M412.4,102.2 C410.6,102.8 404.7,104.1 401.8,105.7 C399.0,107.3 396.4,110.6 395.4,111.6"/><path stroke-width="2.08" d="M412.4,102.2 C410.6,102.8 403.6,105.1 401.8,105.7"/><path stroke-width="2.90" d="M412.4,102.2 C410.6,102.8 403.6,105.1 401.8,105.7"/><path stroke-width="1.25" d="M423.0,111.6 C421.4,112.2 416.7,114.3 413.6,115.1 C410.4,115.9 406.7,115.7 404.2,116.3 C401.6,116.9 399.3,118.2 398.3,118.6"/><path stroke-width="2.08" d="M423.0,111.6 C421.4,112.2 416.7,114.3 413.6,115.1 C410.4,115.9 405.7,116.1 404.2,116.3"/><path stroke-width="2.90" d="M423.0,111.6 C421.4,112.2 415.1,114.5 413.6,115.1"/><path stroke-width="1.25" d="M413.6,115.1 C412.4,116.3 408.4,119.3 406.5,122.2 C404.7,125.0 403.1,130.5 402.4,132.1"/><path stroke-width="2.08" d="M413.6,115.1 C412.4,116.3 407.7,121.0 406.5,122.2"/><path stroke-width="2.90" d="M413.6,115.1 C412.4,116.3 407.7,121.0 406.5,122.2"/><path stroke-width="1.25" d="M432.4,102.2 C432.8,100.2 434.5,94.0 434.7,90.4 C434.9,86.9 434.3,84.2 433.5,81.0 C432.8,77.9 430.6,73.2 430.0,71.6"/><path stroke-width="2.08" d="M432.4,102.2 C432.8,100.2 434.5,94.0 434.7,90.4 C434.9,86.9 433.7,82.6 433.5,81.0"/><path stroke-width="2.90" d="M432.4,102.2 C432.8,100.2 434.3,92.4 434.7,90.4"/><path stroke-width="1.25" d="M434.7,90.4 C435.7,89.3 439.4,85.9 440.6,83.4 C441.8,80.9 441.6,76.5 441.8,75.2"/><path stroke-width="2.08" d="M434.7,90.4 C435.7,89.3 439.6,84.6 440.6,83.4"/><path stroke-width="2.90" d="M434.7,90.4 C435.7,89.3 439.6,84.6 440.6,83.4"/><path stroke-width="1.25" d="M438.2,102.2 C439.6,100.8 443.9,96.1 446.5,94.0 C449.0,91.8 451.8,90.3 453.5,89.3 C455.3,88.2 456.5,87.8 457.0,87.5"/><path stroke-width="2.08" d="M438.2,102.2 C439.6,100.8 443.9,96.1 446.5,94.0 C449.0,91.8 452.3,90.1 453.5,89.3"/><path stroke-width="2.90" d="M438.2,102.2 C439.6,100.8 445.1,95.3 446.5,94.0"/><path stroke-width="1.25" d="M446.5,94.0 C447.3,93.0 450.2,89.9 451.2,88.1 C452.1,86.3 452.1,84.2 452.3,83.4"/><path stroke-width="2.08" d="M446.5,94.0 C447.3,93.0 450.4,89.1 451.2,88.1"/><path stroke-width="2.90" d="M446.5,94.0 C447.3,93.0 450.4,89.1 451.2,88.1"/><path stroke-width="1.25" d="M441.8,105.7 C443.7,105.3 450.0,104.3 453.5,103.4 C457.0,102.4 460.2,100.9 462.9,99.8 C465.7,98.8 468.8,97.4 470.0,96.9"/><path stroke-width="2.08" d="M441.8,105.7 C443.7,105.3 450.0,104.3 453.5,103.4 C457.0,102.4 461.3,100.4 462.9,99.8"/><path stroke-width="2.90" d="M441.8,105.7 C443.7,105.3 451.6,103.8 453.5,103.4"/><path stroke-width="1.25" d="M453.5,103.4 C455.5,104.0 462.3,106.2 465.3,106.9 C468.2,107.6 470.2,107.4 471.1,107.5"/><path stroke-width="2.08" d="M453.5,103.4 C455.5,104.0 463.3,106.3 465.3,106.9"/><path stroke-width="2.90" d="M453.5,103.4 C455.5,104.0 463.3,106.3 465.3,106.9"/><path stroke-width="1.25" d="M441.8,113.9 C443.5,114.3 448.8,116.5 452.3,116.3 C455.9,116.1 460.9,113.5 462.9,112.8 C465.0,112.0 464.4,112.0 464.7,111.8"/><path stroke-width="2.08" d="M441.8,113.9 C443.5,114.3 448.8,116.5 452.3,116.3 C455.9,116.1 461.2,113.3 462.9,112.8"/><path stroke-width="2.90" d="M441.8,113.9 C443.5,114.3 450.6,115.9 452.3,116.3"/><path stroke-width="1.25" d="M452.3,116.3 C453.5,117.1 457.2,119.1 459.4,121.0 C461.5,122.8 464.3,126.4 465.3,127.4"/><path stroke-width="2.08" d="M452.3,116.3 C453.5,117.1 458.2,120.2 459.4,121.0"/><path stroke-width="2.90" d="M452.3,116.3 C453.5,117.1 458.2,120.2 459.4,121.0"/></g>
<path d="M421.8,105.7 C422.8,103.2 424.3,101.9 426.5,101.0 C428.7,100.1 432.2,99.6 434.7,100.4 C437.3,101.2 440.3,103.5 441.8,105.7 C443.2,108.0 444.1,111.2 443.5,113.9 C442.9,116.7 439.7,119.8 438.2,122.2 C436.8,124.5 436.1,127.1 434.7,128.0 C433.4,129.0 431.2,129.0 430.0,128.0 C428.9,127.1 429.2,124.1 427.7,122.2 C426.1,120.2 421.6,119.0 420.6,116.3 C419.6,113.5 420.8,108.3 421.8,105.7Z" fill="#5a6cc8"/>
<circle cx="431.2" cy="111.0" r="4.8" fill="#34469c"/>
<circle cx="431.2" cy="111.0" r="1.7" fill="#1c2870"/>
<rect x="497.9" y="168.0" width="7.5" height="15.2" rx="3" fill="#cbc9c3" stroke="#b4b2ac" stroke-width="0.6"/>
<rect x="497.9" y="184.5" width="7.5" height="15.2" rx="3" fill="#cbc9c3" stroke="#b4b2ac" stroke-width="0.6"/>
<rect x="497.9" y="201.0" width="7.5" height="15.2" rx="3" fill="#cbc9c3" stroke="#b4b2ac" stroke-width="0.6"/>
<rect x="497.9" y="217.5" width="7.5" height="15.2" rx="3" fill="#cbc9c3" stroke="#b4b2ac" stroke-width="0.6"/>
<rect x="497.9" y="234.0" width="7.5" height="15.2" rx="3" fill="#cbc9c3" stroke="#b4b2ac" stroke-width="0.6"/>
<g fill="none" stroke="#5063c0" stroke-linecap="round" stroke-linejoin="round"><path stroke-width="2.31" d="M501.5,250.5 C501.4,251.8 502.4,255.9 501.1,258.2 C499.8,260.4 496.7,261.6 493.8,263.7 C491.0,265.8 487.5,268.2 484.1,270.7 C480.7,273.1 475.4,277.1 473.7,278.3"/><path stroke-width="3.36" d="M501.5,250.5 C501.4,251.8 502.4,255.9 501.1,258.2 C499.8,260.4 495.1,262.8 493.8,263.7"/><path stroke-width="2.31" d="M493.8,263.7 C492.7,264.0 489.6,265.1 486.9,265.4 C484.2,265.7 479.4,265.6 477.8,265.7"/><path stroke-width="2.31" d="M493.8,263.7 C493.4,264.9 491.3,267.9 491.3,270.7 C491.3,273.5 492.9,277.6 493.8,280.4 C494.8,283.2 496.4,286.2 496.9,287.4"/><path stroke-width="2.31" d="M501.1,258.2 C501.3,259.3 502.5,262.8 502.5,265.1 C502.4,267.4 501.2,269.7 500.8,272.1 C500.4,274.4 500.2,277.9 500.1,279.0"/><path stroke-width="2.31" d="M502.5,265.1 C503.6,266.3 508.2,269.1 509.2,272.1 C510.1,275.1 508.4,280.4 508.0,283.2 C507.7,286.0 507.2,287.8 507.1,288.8"/><path stroke-width="2.31" d="M501.1,258.2 C502.2,259.3 505.3,263.0 507.8,265.1 C510.3,267.2 513.3,268.8 516.1,270.7 C518.9,272.5 523.3,275.3 524.7,276.2"/><path stroke-width="2.31" d="M507.8,265.1 C508.9,265.6 512.6,267.5 514.7,267.9 C516.8,268.3 519.4,267.7 520.3,267.6"/></g>
<circle cx="473.7" cy="278.3" r="2.3" fill="#5063c0"/><circle cx="477.8" cy="265.7" r="2.3" fill="#5063c0"/><circle cx="496.9" cy="287.4" r="2.3" fill="#5063c0"/><circle cx="500.1" cy="279.0" r="2.3" fill="#5063c0"/><circle cx="507.1" cy="288.8" r="2.3" fill="#5063c0"/><circle cx="524.7" cy="276.2" r="2.3" fill="#5063c0"/><circle cx="520.3" cy="267.6" r="2.3" fill="#5063c0"/>
<g fill="none" stroke="#4152a6" stroke-linecap="round" stroke-linejoin="round"><path stroke-width="1.89" d="M495.4,139.8 C494.7,138.7 492.5,135.2 491.0,133.1 C489.5,131.1 488.4,128.9 486.5,127.6 C484.6,126.3 482.2,126.4 479.8,125.3 C477.4,124.2 473.3,121.6 472.0,120.9"/><path stroke-width="2.67" d="M495.4,139.8 C494.7,138.7 492.5,135.2 491.0,133.1 C489.5,131.1 488.4,128.9 486.5,127.6 C484.6,126.3 480.9,125.7 479.8,125.3"/><path stroke-width="3.46" d="M495.4,139.8 C494.7,138.7 491.7,134.3 491.0,133.1"/><path stroke-width="1.89" d="M486.5,127.6 C486.0,126.6 483.5,123.5 483.4,122.0 C483.2,120.5 484.7,119.1 485.6,118.4 C486.5,117.7 487.9,117.1 489.0,117.7 C490.0,118.3 491.2,120.2 491.9,122.0 C492.5,123.8 492.3,126.4 492.8,128.7 C493.2,130.9 494.1,134.3 494.3,135.4"/><path stroke-width="2.67" d="M486.5,127.6 C486.0,126.6 483.5,123.5 483.4,122.0 C483.2,120.5 484.7,119.1 485.6,118.4 C486.5,117.7 487.9,117.1 489.0,117.7 C490.0,118.3 491.2,120.2 491.9,122.0 C492.5,123.8 492.6,127.6 492.8,128.7"/><path stroke-width="3.46" d="M486.5,127.6 C486.0,126.6 483.9,122.9 483.4,122.0"/><path stroke-width="1.89" d="M491.0,133.1 C489.7,132.7 486.5,131.2 483.2,130.3 C479.8,129.5 472.9,128.5 470.9,128.1"/><path stroke-width="2.67" d="M491.0,133.1 C489.7,132.7 484.5,130.8 483.2,130.3"/><path stroke-width="3.46" d="M491.0,133.1 C489.7,132.7 484.5,130.8 483.2,130.3"/><path stroke-width="1.89" d="M493.2,143.2 C491.3,142.6 485.4,140.9 482.0,139.8 C478.7,138.8 476.0,137.5 473.1,137.0 C470.2,136.6 466.1,137.0 464.7,137.0"/><path stroke-width="2.67" d="M493.2,143.2 C491.3,142.6 485.4,140.9 482.0,139.8 C478.7,138.8 474.6,137.5 473.1,137.0"/><path stroke-width="3.46" d="M493.2,143.2 C491.3,142.6 483.9,140.4 482.0,139.8"/><path stroke-width="1.89" d="M482.0,139.8 C480.4,140.4 474.7,141.7 472.0,143.2 C469.3,144.7 466.9,147.8 465.9,148.8"/><path stroke-width="2.67" d="M482.0,139.8 C480.4,140.4 473.7,142.6 472.0,143.2"/><path stroke-width="3.46" d="M482.0,139.8 C480.4,140.4 473.7,142.6 472.0,143.2"/><path stroke-width="1.89" d="M492.1,148.8 C490.6,149.3 486.1,151.4 483.2,152.1 C480.2,152.8 476.7,152.7 474.2,153.2 C471.8,153.8 469.6,155.1 468.7,155.5"/><path stroke-width="2.67" d="M492.1,148.8 C490.6,149.3 486.1,151.4 483.2,152.1 C480.2,152.8 475.7,153.0 474.2,153.2"/><path stroke-width="3.46" d="M492.1,148.8 C490.6,149.3 484.6,151.5 483.2,152.1"/><path stroke-width="1.89" d="M483.2,152.1 C482.0,153.2 478.2,156.1 476.5,158.8 C474.7,161.5 473.2,166.7 472.6,168.3"/><path stroke-width="2.67" d="M483.2,152.1 C482.0,153.2 477.6,157.7 476.5,158.8"/><path stroke-width="3.46" d="M483.2,152.1 C482.0,153.2 477.6,157.7 476.5,158.8"/><path stroke-width="1.89" d="M501.0,139.8 C501.4,138.0 503.1,132.0 503.2,128.7 C503.4,125.3 502.9,122.7 502.1,119.7 C501.4,116.8 499.3,112.3 498.8,110.8"/><path stroke-width="2.67" d="M501.0,139.8 C501.4,138.0 503.1,132.0 503.2,128.7 C503.4,125.3 502.3,121.2 502.1,119.7"/><path stroke-width="3.46" d="M501.0,139.8 C501.4,138.0 502.9,130.5 503.2,128.7"/><path stroke-width="1.89" d="M503.2,128.7 C504.2,127.6 507.7,124.4 508.8,122.0 C509.9,119.6 509.8,115.5 509.9,114.2"/><path stroke-width="2.67" d="M503.2,128.7 C504.2,127.6 507.9,123.1 508.8,122.0"/><path stroke-width="3.46" d="M503.2,128.7 C504.2,127.6 507.9,123.1 508.8,122.0"/><path stroke-width="1.89" d="M506.6,139.8 C507.9,138.5 512.0,134.1 514.4,132.0 C516.8,130.0 519.4,128.6 521.1,127.6 C522.8,126.5 523.9,126.2 524.5,125.9"/><path stroke-width="2.67" d="M506.6,139.8 C507.9,138.5 512.0,134.1 514.4,132.0 C516.8,130.0 520.0,128.3 521.1,127.6"/><path stroke-width="3.46" d="M506.6,139.8 C507.9,138.5 513.1,133.3 514.4,132.0"/><path stroke-width="1.89" d="M514.4,132.0 C515.2,131.1 517.9,128.1 518.9,126.4 C519.8,124.8 519.8,122.7 520.0,122.0"/><path stroke-width="2.67" d="M514.4,132.0 C515.2,131.1 518.1,127.4 518.9,126.4"/><path stroke-width="3.46" d="M514.4,132.0 C515.2,131.1 518.1,127.4 518.9,126.4"/><path stroke-width="1.89" d="M509.9,143.2 C511.8,142.8 517.8,141.9 521.1,140.9 C524.5,140.0 527.4,138.6 530.0,137.6 C532.6,136.6 535.6,135.3 536.7,134.8"/><path stroke-width="2.67" d="M509.9,143.2 C511.8,142.8 517.8,141.9 521.1,140.9 C524.5,140.0 528.5,138.2 530.0,137.6"/><path stroke-width="3.46" d="M509.9,143.2 C511.8,142.8 519.2,141.3 521.1,140.9"/><path stroke-width="1.89" d="M521.1,140.9 C523.0,141.5 529.5,143.6 532.3,144.3 C535.1,144.9 536.9,144.8 537.8,144.9"/><path stroke-width="2.67" d="M521.1,140.9 C523.0,141.5 530.4,143.7 532.3,144.3"/><path stroke-width="3.46" d="M521.1,140.9 C523.0,141.5 530.4,143.7 532.3,144.3"/><path stroke-width="1.89" d="M509.9,151.0 C511.6,151.4 516.6,153.4 520.0,153.2 C523.3,153.0 528.1,150.6 530.0,149.9 C532.0,149.2 531.4,149.1 531.7,149.0"/><path stroke-width="2.67" d="M509.9,151.0 C511.6,151.4 516.6,153.4 520.0,153.2 C523.3,153.0 528.4,150.4 530.0,149.9"/><path stroke-width="3.46" d="M509.9,151.0 C511.6,151.4 518.3,152.8 520.0,153.2"/><path stroke-width="1.89" d="M520.0,153.2 C521.1,154.0 524.6,155.9 526.7,157.7 C528.7,159.5 531.3,162.8 532.3,163.8"/><path stroke-width="2.67" d="M520.0,153.2 C521.1,154.0 525.6,156.9 526.7,157.7"/><path stroke-width="3.46" d="M520.0,153.2 C521.1,154.0 525.6,156.9 526.7,157.7"/></g>
<path d="M491.0,143.2 C491.9,140.8 493.4,139.6 495.4,138.7 C497.5,137.9 500.8,137.4 503.2,138.2 C505.7,138.9 508.5,141.0 509.9,143.2 C511.3,145.3 512.2,148.4 511.6,151.0 C511.1,153.6 508.0,156.6 506.6,158.8 C505.2,161.0 504.5,163.5 503.2,164.4 C501.9,165.3 499.9,165.3 498.8,164.4 C497.7,163.5 498.0,160.7 496.6,158.8 C495.1,156.9 490.8,155.8 489.9,153.2 C488.9,150.6 490.0,145.6 491.0,143.2Z" fill="#4152a6" stroke="#4152a6" stroke-width="0.7"/>
<g fill="none" stroke="#5a6cc8" stroke-linecap="round" stroke-linejoin="round"><path stroke-width="1.19" d="M495.4,139.8 C494.7,138.7 492.5,135.2 491.0,133.1 C489.5,131.1 488.4,128.9 486.5,127.6 C484.6,126.3 482.2,126.4 479.8,125.3 C477.4,124.2 473.3,121.6 472.0,120.9"/><path stroke-width="1.97" d="M495.4,139.8 C494.7,138.7 492.5,135.2 491.0,133.1 C489.5,131.1 488.4,128.9 486.5,127.6 C484.6,126.3 480.9,125.7 479.8,125.3"/><path stroke-width="2.75" d="M495.4,139.8 C494.7,138.7 491.7,134.3 491.0,133.1"/><path stroke-width="1.19" d="M486.5,127.6 C486.0,126.6 483.5,123.5 483.4,122.0 C483.2,120.5 484.7,119.1 485.6,118.4 C486.5,117.7 487.9,117.1 489.0,117.7 C490.0,118.3 491.2,120.2 491.9,122.0 C492.5,123.8 492.3,126.4 492.8,128.7 C493.2,130.9 494.1,134.3 494.3,135.4"/><path stroke-width="1.97" d="M486.5,127.6 C486.0,126.6 483.5,123.5 483.4,122.0 C483.2,120.5 484.7,119.1 485.6,118.4 C486.5,117.7 487.9,117.1 489.0,117.7 C490.0,118.3 491.2,120.2 491.9,122.0 C492.5,123.8 492.6,127.6 492.8,128.7"/><path stroke-width="2.75" d="M486.5,127.6 C486.0,126.6 483.9,122.9 483.4,122.0"/><path stroke-width="1.19" d="M491.0,133.1 C489.7,132.7 486.5,131.2 483.2,130.3 C479.8,129.5 472.9,128.5 470.9,128.1"/><path stroke-width="1.97" d="M491.0,133.1 C489.7,132.7 484.5,130.8 483.2,130.3"/><path stroke-width="2.75" d="M491.0,133.1 C489.7,132.7 484.5,130.8 483.2,130.3"/><path stroke-width="1.19" d="M493.2,143.2 C491.3,142.6 485.4,140.9 482.0,139.8 C478.7,138.8 476.0,137.5 473.1,137.0 C470.2,136.6 466.1,137.0 464.7,137.0"/><path stroke-width="1.97" d="M493.2,143.2 C491.3,142.6 485.4,140.9 482.0,139.8 C478.7,138.8 474.6,137.5 473.1,137.0"/><path stroke-width="2.75" d="M493.2,143.2 C491.3,142.6 483.9,140.4 482.0,139.8"/><path stroke-width="1.19" d="M482.0,139.8 C480.4,140.4 474.7,141.7 472.0,143.2 C469.3,144.7 466.9,147.8 465.9,148.8"/><path stroke-width="1.97" d="M482.0,139.8 C480.4,140.4 473.7,142.6 472.0,143.2"/><path stroke-width="2.75" d="M482.0,139.8 C480.4,140.4 473.7,142.6 472.0,143.2"/><path stroke-width="1.19" d="M492.1,148.8 C490.6,149.3 486.1,151.4 483.2,152.1 C480.2,152.8 476.7,152.7 474.2,153.2 C471.8,153.8 469.6,155.1 468.7,155.5"/><path stroke-width="1.97" d="M492.1,148.8 C490.6,149.3 486.1,151.4 483.2,152.1 C480.2,152.8 475.7,153.0 474.2,153.2"/><path stroke-width="2.75" d="M492.1,148.8 C490.6,149.3 484.6,151.5 483.2,152.1"/><path stroke-width="1.19" d="M483.2,152.1 C482.0,153.2 478.2,156.1 476.5,158.8 C474.7,161.5 473.2,166.7 472.6,168.3"/><path stroke-width="1.97" d="M483.2,152.1 C482.0,153.2 477.6,157.7 476.5,158.8"/><path stroke-width="2.75" d="M483.2,152.1 C482.0,153.2 477.6,157.7 476.5,158.8"/><path stroke-width="1.19" d="M501.0,139.8 C501.4,138.0 503.1,132.0 503.2,128.7 C503.4,125.3 502.9,122.7 502.1,119.7 C501.4,116.8 499.3,112.3 498.8,110.8"/><path stroke-width="1.97" d="M501.0,139.8 C501.4,138.0 503.1,132.0 503.2,128.7 C503.4,125.3 502.3,121.2 502.1,119.7"/><path stroke-width="2.75" d="M501.0,139.8 C501.4,138.0 502.9,130.5 503.2,128.7"/><path stroke-width="1.19" d="M503.2,128.7 C504.2,127.6 507.7,124.4 508.8,122.0 C509.9,119.6 509.8,115.5 509.9,114.2"/><path stroke-width="1.97" d="M503.2,128.7 C504.2,127.6 507.9,123.1 508.8,122.0"/><path stroke-width="2.75" d="M503.2,128.7 C504.2,127.6 507.9,123.1 508.8,122.0"/><path stroke-width="1.19" d="M506.6,139.8 C507.9,138.5 512.0,134.1 514.4,132.0 C516.8,130.0 519.4,128.6 521.1,127.6 C522.8,126.5 523.9,126.2 524.5,125.9"/><path stroke-width="1.97" d="M506.6,139.8 C507.9,138.5 512.0,134.1 514.4,132.0 C516.8,130.0 520.0,128.3 521.1,127.6"/><path stroke-width="2.75" d="M506.6,139.8 C507.9,138.5 513.1,133.3 514.4,132.0"/><path stroke-width="1.19" d="M514.4,132.0 C515.2,131.1 517.9,128.1 518.9,126.4 C519.8,124.8 519.8,122.7 520.0,122.0"/><path stroke-width="1.97" d="M514.4,132.0 C515.2,131.1 518.1,127.4 518.9,126.4"/><path stroke-width="2.75" d="M514.4,132.0 C515.2,131.1 518.1,127.4 518.9,126.4"/><path stroke-width="1.19" d="M509.9,143.2 C511.8,142.8 517.8,141.9 521.1,140.9 C524.5,140.0 527.4,138.6 530.0,137.6 C532.6,136.6 535.6,135.3 536.7,134.8"/><path stroke-width="1.97" d="M509.9,143.2 C511.8,142.8 517.8,141.9 521.1,140.9 C524.5,140.0 528.5,138.2 530.0,137.6"/><path stroke-width="2.75" d="M509.9,143.2 C511.8,142.8 519.2,141.3 521.1,140.9"/><path stroke-width="1.19" d="M521.1,140.9 C523.0,141.5 529.5,143.6 532.3,144.3 C535.1,144.9 536.9,144.8 537.8,144.9"/><path stroke-width="1.97" d="M521.1,140.9 C523.0,141.5 530.4,143.7 532.3,144.3"/><path stroke-width="2.75" d="M521.1,140.9 C523.0,141.5 530.4,143.7 532.3,144.3"/><path stroke-width="1.19" d="M509.9,151.0 C511.6,151.4 516.6,153.4 520.0,153.2 C523.3,153.0 528.1,150.6 530.0,149.9 C532.0,149.2 531.4,149.1 531.7,149.0"/><path stroke-width="1.97" d="M509.9,151.0 C511.6,151.4 516.6,153.4 520.0,153.2 C523.3,153.0 528.4,150.4 530.0,149.9"/><path stroke-width="2.75" d="M509.9,151.0 C511.6,151.4 518.3,152.8 520.0,153.2"/><path stroke-width="1.19" d="M520.0,153.2 C521.1,154.0 524.6,155.9 526.7,157.7 C528.7,159.5 531.3,162.8 532.3,163.8"/><path stroke-width="1.97" d="M520.0,153.2 C521.1,154.0 525.6,156.9 526.7,157.7"/><path stroke-width="2.75" d="M520.0,153.2 C521.1,154.0 525.6,156.9 526.7,157.7"/></g>
<path d="M491.0,143.2 C491.9,140.8 493.4,139.6 495.4,138.7 C497.5,137.9 500.8,137.4 503.2,138.2 C505.7,138.9 508.5,141.0 509.9,143.2 C511.3,145.3 512.2,148.4 511.6,151.0 C511.1,153.6 508.0,156.6 506.6,158.8 C505.2,161.0 504.5,163.5 503.2,164.4 C501.9,165.3 499.9,165.3 498.8,164.4 C497.7,163.5 498.0,160.7 496.6,158.8 C495.1,156.9 490.8,155.8 489.9,153.2 C488.9,150.6 490.0,145.6 491.0,143.2Z" fill="#5a6cc8"/>
<circle cx="499.9" cy="148.2" r="4.6" fill="#34469c"/>
<circle cx="499.9" cy="148.2" r="1.6" fill="#1c2870"/>
<path d="M558,112 L558.3,246 C560,262 572,270 586,276" fill="none" stroke="#86c7d6" stroke-width="2.8" stroke-linecap="round"/>
<g fill="none" stroke="#8ccfd6" stroke-linecap="round" stroke-linejoin="round"><path stroke-width="2.8" d="M582.0,273.0 Q589.0,268.0 594.0,261.0 M582.0,273.0 Q590.6,267.8 599.9,271.4 M582.0,273.0 Q586.5,280.8 595.0,283.9"/><path stroke-width="2.0" d="M594.0,261.0 Q596.4,255.8 595.7,250.1 M594.0,261.0 Q596.8,255.8 602.4,253.9 M594.0,261.0 Q599.8,258.7 606.0,259.1 M599.9,271.4 Q603.9,267.6 608.3,264.2 M599.9,271.4 Q606.5,273.3 612.4,269.9 M599.9,271.4 Q605.9,274.7 611.7,278.5 M595.0,283.9 Q601.6,284.4 608.2,285.1 M595.0,283.9 Q598.4,288.4 598.8,293.9"/></g>
<circle cx="595.7" cy="250.1" r="1.8" fill="#8ccfd6"/>
<circle cx="602.4" cy="253.9" r="1.8" fill="#8ccfd6"/>
<circle cx="606.0" cy="259.1" r="1.8" fill="#8ccfd6"/>
<circle cx="608.3" cy="264.2" r="1.8" fill="#8ccfd6"/>
<circle cx="612.4" cy="269.9" r="1.8" fill="#8ccfd6"/>
<circle cx="611.7" cy="278.5" r="1.8" fill="#8ccfd6"/>
<circle cx="608.2" cy="285.1" r="1.8" fill="#8ccfd6"/>
<circle cx="598.8" cy="293.9" r="1.8" fill="#8ccfd6"/>
<g fill="none" stroke="#8bcbdc" stroke-linecap="round" stroke-linejoin="round"><path stroke-width="2.5" d="M552.3,99.2 Q542.8,96.5 538.5,87.7 M551.1,101.8 Q542.5,102.4 534.3,99.4 M551.4,104.2 Q544.1,107.6 536.4,109.7 M555.3,97.5 Q555.7,88.3 552.2,79.8 M557.9,97.7 Q560.3,89.0 564.1,80.8 M560.6,100.0 Q570.9,99.7 576.2,91.0 M561.2,103.4 Q569.3,109.4 578.9,106.5 M560.4,105.4 Q563.7,113.8 572.7,114.0"/><path stroke-width="1.6" d="M538.5,87.7 Q531.5,91.1 525.8,85.9 M538.5,87.7 Q535.8,79.7 527.4,79.2 M538.5,87.7 Q537.8,81.4 534.7,76.0 M534.3,99.4 Q527.5,98.4 523.2,103.7 M534.3,99.4 Q531.0,94.9 525.4,93.8 M536.4,109.7 Q535.6,115.1 530.7,117.5 M536.4,109.7 Q532.1,106.7 527.1,108.6 M552.2,79.8 Q545.7,77.7 544.6,70.9 M552.2,79.8 Q553.9,74.2 556.1,68.9 M564.1,80.8 Q561.1,75.6 563.2,70.0 M564.1,80.8 Q570.5,79.1 572.6,72.8 M576.2,91.0 Q579.9,86.5 582.9,81.5 M576.2,91.0 Q583.0,86.3 590.0,90.7 M578.9,106.5 Q586.7,107.2 591.7,101.3 M578.9,106.5 Q585.7,104.4 590.7,109.5 M578.9,106.5 Q582.7,112.9 589.4,115.9 M572.7,114.0 Q578.2,114.7 583.7,115.2 M572.7,114.0 Q574.2,118.7 576.7,122.9"/></g>
<path d="M545.7,101.0 548.1,95.7 554.4,92.0 559.8,92.5 565.4,97.2 566.7,104.3 564.9,108.6 556.2,113.1 546.2,106.1Z" fill="#8bcbdc" stroke="#8bcbdc" stroke-width="3" stroke-linejoin="round"/>
<circle cx="556.2" cy="102.5" r="8.5" fill="#8bcbdc"/>
<circle cx="556.2" cy="102.5" r="4.2" fill="#4b8fd0"/>
<circle cx="556.2" cy="102.5" r="1.5" fill="#1d4f90"/>
<g fill="none" stroke="#a9b7e2" stroke-linecap="round" stroke-linejoin="round"><path stroke-width="2.6" d="M551.5,270.0 Q540.3,269.4 534.2,260.0 M551.5,270.0 Q549.2,257.5 539.5,249.2 M551.5,270.0 Q547.8,257.8 549.3,245.1 M551.5,270.0 Q548.9,256.3 559.7,247.4 M551.5,270.0 Q559.6,264.1 566.8,257.1"/><path stroke-width="1.7" d="M534.2,260.0 Q527.0,255.1 519.1,258.5 M534.2,260.0 Q533.6,252.9 528.1,248.5 M539.5,249.2 Q531.0,244.9 522.6,240.2 M539.5,249.2 Q542.0,241.7 538.5,234.5 M549.3,245.1 Q540.6,239.2 539.3,228.8 M549.3,245.1 Q550.5,237.9 555.2,232.5 M559.7,247.4 Q557.2,238.7 556.6,229.6 M559.7,247.4 Q568.5,240.9 567.5,230.0 M559.7,247.4 Q569.4,245.5 573.0,236.3 M566.8,257.1 Q572.2,252.8 570.9,246.0 M566.8,257.1 Q573.7,254.9 577.2,248.6 M566.8,257.1 Q573.8,251.1 582.5,254.4"/></g>
<path d="M543,272 C544,282 550,288 552,300 L556,300 C558,288 562,282 562,272 C560,264 546,264 543,272 Z" fill="#a9b7e2"/>
<circle cx="551.5" cy="272.5" r="8" fill="#a9b7e2"/>
<circle cx="551.5" cy="272.5" r="4.3" fill="#6a64c8"/>
<circle cx="551.5" cy="272.5" r="1.8" fill="#3a2f98"/>
<path d="M537.8,224.3 C545,215 550,205 556,200 M537.8,224.3 C545,232 550,236 556,240" fill="none" stroke="#3f8a4e" stroke-width="2"/>
<rect x="555.6" y="195.4" width="5.4" height="11.7" rx="1.2" fill="#4e9a5c" stroke="#3a7a48" stroke-width="0.6"/>
<rect x="555.6" y="234" width="5.4" height="11.5" rx="1.2" fill="#4e9a5c" stroke="#3a7a48" stroke-width="0.6"/>
<path d="M530,224 C530,216 536,213 542,215 C547,217 548,224 546,230 C543,234 535,234 531,230 Z" fill="#4e9a5c" stroke="#3d7f4b" stroke-width="0.8"/>
<circle cx="537.6" cy="224.3" r="4.5" fill="#2f7a42"/>
<circle cx="537.6" cy="224.3" r="2.2" fill="#1f5a30"/>
<path d="M402.9,252.8 C403.5,262 410,275 422.8,287.3 C412,284.5 395,284.5 385,286.6 C393,278 401,266 402.9,252.8 Z" fill="#9775c4" stroke="#7b58ab" stroke-width="0.8"/>
<circle cx="402.9" cy="275.3" r="5.4" fill="#6e4ba3"/>
<circle cx="402.2" cy="275" r="2.2" fill="#2d1562"/>
</g>
<path d="M814,93 A12.8,12.8 0 1 1 832,91" fill="none" stroke="#222" stroke-width="2"/>
<path d="M829,89 L835.5,95 L836,86.5 Z" fill="#222"/>
<path d="M789.5,122 C788,104 803,92.9 824,92.9 C845,93 858,106 857.7,122 C857.7,128 854,129.8 848,129.8 L797,129.8 C791,129.8 789.5,127 789.5,122 Z" fill="#e68383" stroke="#c25656" stroke-width="1.5"/>
<ellipse cx="824.5" cy="117.4" rx="11.3" ry="7.8" fill="#d9585e"/>
<line x1="822.7" y1="132.8" x2="822.7" y2="152.5" stroke="#222" stroke-width="1.6"/>
<path d="M818.2,151.5 L827.2,151.5 L822.7,157.3 Z" fill="#222"/>
<path d="M806.5,159.6 L840.4,159.6 L857.7,190.5 L840.8,221.3 L803.8,221.3 L788.4,190.5 Z" fill="#f0b286" stroke="#e07448" stroke-width="1.5" stroke-linejoin="round"/>
<circle cx="820.5" cy="194.2" r="13.3" fill="#e5905f"/>
<path d="M862,180 A15,15 0 1 1 862,202" fill="none" stroke="#222" stroke-width="2"/>
<path d="M858,201.5 L866,197.5 L866,206 Z" fill="#222"/>
<line x1="815.9" y1="226.1" x2="802.5" y2="240.8" stroke="#222" stroke-width="1.4"/>
<path d="M799.8,243.8 L800.8,235.5 L807,241.5 Z" fill="#222"/>
<line x1="828.7" y1="226.1" x2="843.2" y2="240.8" stroke="#222" stroke-width="1.4"/>
<path d="M846.1,243.8 L838.8,241.8 L845,235.5 Z" fill="#222"/>
<path d="M759.6,228.6 C772,237 790,249 802,257 C810,260 817,260.8 821.5,262.3 C817,264 810,265.5 802,267.5 C789,276 771,288 758,296.8 C765,276 766,250 759.6,228.6 Z" fill="#9a74c2" stroke="#6f4f9f" stroke-width="1"/>
<circle cx="778.6" cy="262.3" r="8.8" fill="#7e55b0"/>
<circle cx="778.6" cy="262.3" r="6.2" fill="#6b409e"/>
<circle cx="778.2" cy="260.8" r="3.2" fill="#2d1560"/>
<g fill="none" stroke="#b872ae" stroke-linecap="round" stroke-linejoin="round"><path stroke-width="1.7" d="M869.3,254.8 C868.4,253.1 864.8,248.4 863.9,244.8 C863.0,241.2 863.4,236.2 863.9,233.1 C864.3,229.9 866.0,227.5 866.6,225.8 C867.2,224.2 867.3,223.6 867.5,223.1"/><path stroke-width="2.7" d="M869.3,254.8 C868.4,253.1 864.8,246.5 863.9,244.8"/><path stroke-width="1.7" d="M863.9,233.1 C863.8,231.3 863.5,224.0 863.4,222.2"/><path stroke-width="1.7" d="M864.8,240.3 C866.6,239.7 873.8,237.3 875.6,236.7"/><path stroke-width="1.7" d="M873.8,254.8 C875.0,253.6 879.1,249.9 881.0,247.5 C883.0,245.1 884.0,242.3 885.5,240.3 C887.0,238.3 889.3,236.5 890.1,235.8"/><path stroke-width="2.7" d="M873.8,254.8 C875.0,253.6 879.8,248.7 881.0,247.5"/><path stroke-width="1.7" d="M882.8,245.7 C884.5,245.1 891.1,242.7 892.8,242.1"/><path stroke-width="1.7" d="M875.6,265.6 C877.4,266.2 883.1,268.2 886.4,269.2 C889.8,270.3 892.6,269.7 895.5,271.9 C898.3,274.2 902.3,281.0 903.6,282.8"/><path stroke-width="2.7" d="M875.6,265.6 C877.4,266.2 884.6,268.6 886.4,269.2"/><path stroke-width="1.7" d="M888.3,268.5 C889.6,267.3 895.0,262.3 896.4,261.1"/><path stroke-width="1.7" d="M895.5,271.9 C897.1,272.4 903.8,274.2 905.4,274.6"/><path stroke-width="1.7" d="M868.4,267.4 C867.5,268.6 865.2,272.1 863.0,274.6 C860.7,277.2 856.5,279.9 854.8,282.8 C853.2,285.6 853.3,290.3 853.0,291.8"/><path stroke-width="2.7" d="M868.4,267.4 C867.5,268.6 863.9,273.4 863.0,274.6"/><path stroke-width="1.7" d="M863.0,274.6 C863.0,277.6 863.0,289.7 863.0,292.7"/><path stroke-width="1.7" d="M854.8,282.8 C853.5,283.2 848.0,285.0 846.7,285.5"/><path stroke-width="1.7" d="M863.0,262.0 C861.1,262.0 855.4,262.7 852.1,262.0 C848.8,261.2 846.1,258.1 843.1,257.5 C840.1,256.9 835.5,258.2 834.0,258.4"/><path stroke-width="2.7" d="M863.0,262.0 C861.1,262.0 853.9,262.0 852.1,262.0"/><path stroke-width="1.7" d="M847.6,259.3 C846.1,257.8 840.1,251.7 838.6,250.2"/><path stroke-width="1.7" d="M852.1,262.9 C849.8,263.6 840.8,266.7 838.6,267.4"/></g>
<g fill="none" stroke="#d9a2d1" stroke-linecap="round" stroke-linejoin="round"><path stroke-width="0.8" d="M869.3,254.8 C868.4,253.1 864.8,248.4 863.9,244.8 C863.0,241.2 863.4,236.2 863.9,233.1 C864.3,229.9 866.0,227.5 866.6,225.8 C867.2,224.2 867.3,223.6 867.5,223.1"/><path stroke-width="1.7" d="M869.3,254.8 C868.4,253.1 864.8,246.5 863.9,244.8"/><path stroke-width="0.8" d="M863.9,233.1 C863.8,231.3 863.5,224.0 863.4,222.2"/><path stroke-width="0.8" d="M864.8,240.3 C866.6,239.7 873.8,237.3 875.6,236.7"/><path stroke-width="0.8" d="M873.8,254.8 C875.0,253.6 879.1,249.9 881.0,247.5 C883.0,245.1 884.0,242.3 885.5,240.3 C887.0,238.3 889.3,236.5 890.1,235.8"/><path stroke-width="1.7" d="M873.8,254.8 C875.0,253.6 879.8,248.7 881.0,247.5"/><path stroke-width="0.8" d="M882.8,245.7 C884.5,245.1 891.1,242.7 892.8,242.1"/><path stroke-width="0.8" d="M875.6,265.6 C877.4,266.2 883.1,268.2 886.4,269.2 C889.8,270.3 892.6,269.7 895.5,271.9 C898.3,274.2 902.3,281.0 903.6,282.8"/><path stroke-width="1.7" d="M875.6,265.6 C877.4,266.2 884.6,268.6 886.4,269.2"/><path stroke-width="0.8" d="M888.3,268.5 C889.6,267.3 895.0,262.3 896.4,261.1"/><path stroke-width="0.8" d="M895.5,271.9 C897.1,272.4 903.8,274.2 905.4,274.6"/><path stroke-width="0.8" d="M868.4,267.4 C867.5,268.6 865.2,272.1 863.0,274.6 C860.7,277.2 856.5,279.9 854.8,282.8 C853.2,285.6 853.3,290.3 853.0,291.8"/><path stroke-width="1.7" d="M868.4,267.4 C867.5,268.6 863.9,273.4 863.0,274.6"/><path stroke-width="0.8" d="M863.0,274.6 C863.0,277.6 863.0,289.7 863.0,292.7"/><path stroke-width="0.8" d="M854.8,282.8 C853.5,283.2 848.0,285.0 846.7,285.5"/><path stroke-width="0.8" d="M863.0,262.0 C861.1,262.0 855.4,262.7 852.1,262.0 C848.8,261.2 846.1,258.1 843.1,257.5 C840.1,256.9 835.5,258.2 834.0,258.4"/><path stroke-width="1.7" d="M863.0,262.0 C861.1,262.0 853.9,262.0 852.1,262.0"/><path stroke-width="0.8" d="M847.6,259.3 C846.1,257.8 840.1,251.7 838.6,250.2"/><path stroke-width="0.8" d="M852.1,262.9 C849.8,263.6 840.8,266.7 838.6,267.4"/></g>
<path d="M863.9,255.7 C865.1,253.4 868.1,253.0 870.2,253.0 C872.3,253.0 875.2,253.6 876.5,255.7 C877.8,257.8 878.9,263.2 877.9,265.6 C876.8,268.0 872.7,270.0 870.2,270.1 C867.7,270.3 864.0,268.9 863.0,266.5 C861.9,264.1 862.6,257.9 863.9,255.7Z" fill="#d68aca" stroke="#b872ae" stroke-width="0.6"/>
<circle cx="869.7" cy="260.2" r="2.8" fill="#a0449a"/>
<circle cx="869.7" cy="260.2" r="1.1" fill="#6a1f66"/>
<g transform="translate(40,385) scale(0.26104)">
<path d="M228,38C230,35 234,33 236,40C238,47 241,73 240,80C239,87 234,85 232,82C230,79 227,67 226,60C225,53 226,41 228,38Z" fill="#c3c4c9"/>
<path d="M395,75C399,69 413,68 420,70C427,72 433,82 435,90C437,98 436,110 432,115C428,120 416,124 410,122C404,120 398,113 395,105C392,97 391,81 395,75Z" fill="#3b7cc2"/>
<path d="M548,75C548,68 553,72 556,78C559,84 560,102 565,110C570,118 582,121 585,128C588,135 586,145 582,150C578,155 568,159 560,160C552,161 537,162 535,158C533,154 544,142 548,135C552,128 556,128 556,118C556,108 548,82 548,75Z" fill="#c3c4c9"/>
<path d="M666,76C668,75 673,76 674,78C675,80 674,85 672,86C670,87 666,86 665,84C664,82 664,77 666,76Z" fill="#c3c4c9"/>
<path d="M220,160C222,154 236,152 240,155C244,158 247,170 245,175C243,180 232,190 228,188C224,186 218,166 220,160Z" fill="#c3c4c9"/>
<path d="M100,185C102,182 109,184 115,190C121,196 133,212 135,220C137,228 129,236 125,238C121,240 114,235 110,230C106,225 104,218 102,210C100,202 98,188 100,185Z" fill="#c3c4c9"/>
<path d="M668,180C671,177 687,170 690,172C693,174 688,187 685,190C682,193 673,194 670,192C667,190 665,183 668,180Z" fill="#3b7cc2"/>
<path d="M390,195C392,190 400,190 405,195C410,200 414,216 420,225C426,234 432,247 440,250C448,253 459,245 470,245C481,245 498,245 505,250C512,255 514,268 512,275C510,282 502,288 495,292C488,296 479,297 470,298C461,299 448,301 440,300C432,299 425,295 425,290C425,285 442,276 440,268C438,260 423,247 415,240C407,233 396,232 392,225C388,218 388,200 390,195Z" fill="#3b7cc2"/>
<path d="M815,235C817,230 827,226 835,225C843,224 856,228 862,232C868,236 871,246 868,250C865,254 851,252 845,255C839,258 833,268 830,268C827,268 828,260 825,255C822,250 813,240 815,235Z" fill="#c3c4c9"/>
<path d="M230,290C235,286 248,281 260,278C272,275 291,271 300,272C309,273 309,274 312,282C315,290 322,315 320,322C318,329 308,327 300,325C292,323 284,313 275,310C266,307 253,307 245,305C237,303 230,302 228,300C226,298 225,294 230,290Z" fill="#3b7cc2"/>
<path d="M625,335C630,332 648,332 660,330C672,328 688,323 700,322C712,321 724,319 730,322C736,325 738,335 735,340C732,345 722,350 715,352C708,354 699,355 690,355C681,355 670,352 660,350C650,348 638,348 632,345C626,342 620,338 625,335Z" fill="#e0202c"/>
<path d="M50,378C57,374 81,373 95,372C109,371 125,366 135,370C145,374 152,388 155,395C158,402 154,406 150,410C146,414 132,413 130,420C128,427 132,440 135,450C138,460 148,471 150,480C152,489 150,501 145,505C140,509 128,508 120,505C112,502 108,492 100,490C92,488 81,492 75,490C69,488 62,482 62,475C62,468 70,452 75,445C80,438 93,437 95,430C97,423 92,411 85,405C78,399 61,400 55,395C49,390 43,382 50,378Z" fill="#c3c4c9"/>
<path d="M215,395C224,390 258,382 268,388C278,394 277,419 275,430C273,441 264,450 255,452C246,454 225,450 218,445C211,440 212,428 212,420C212,412 206,400 215,395Z" fill="#3b7cc2"/>
<path d="M265,420C270,418 287,424 300,428C313,432 332,438 345,445C358,452 371,462 375,470C379,478 376,490 370,490C364,490 352,477 340,470C328,463 312,455 300,450C288,445 274,445 268,440C262,435 260,422 265,420Z" fill="#c3c4c9"/>
<path d="M345,355C354,349 384,345 395,348C406,351 408,365 408,375C408,385 403,400 398,410C393,420 384,430 378,435C372,440 370,441 365,438C360,435 354,424 350,415C346,406 341,395 340,385C339,375 336,361 345,355Z" fill="#3b7cc2"/>
<path d="M360,430C365,423 384,423 390,430C396,437 396,462 395,470C394,478 390,480 385,480C380,480 366,478 362,470C358,462 355,437 360,430Z" fill="#c3c4c9"/>
<path d="M360,478C367,471 386,470 392,475C398,480 396,496 395,510C394,524 390,550 385,560C380,570 371,572 365,572C359,572 352,570 350,560C348,550 350,529 352,515C354,501 353,485 360,478Z" fill="#3b7cc2"/>
<path d="M385,480C388,477 400,475 405,478C410,481 417,493 418,497C419,501 413,503 410,502C407,501 402,491 398,490C394,489 390,498 388,496C386,494 382,483 385,480Z" fill="#e0202c"/>
<path d="M455,420C457,416 471,405 480,400C489,395 501,391 510,390C519,389 532,391 535,395C538,399 536,411 530,415C524,419 510,418 500,420C490,422 478,425 470,425C462,425 453,424 455,420Z" fill="#3b7cc2"/>
<path d="M845,430C849,427 860,423 870,425C880,427 898,434 905,440C912,446 917,455 915,460C913,465 904,468 895,468C886,468 868,464 860,460C852,456 850,450 848,445C846,440 841,433 845,430Z" fill="#c3c4c9"/>
<path d="M725,470C728,465 738,462 745,465C752,468 761,483 770,490C779,497 792,500 800,505C808,510 814,515 815,520C816,525 812,534 805,535C798,536 785,528 775,525C765,522 753,520 745,515C737,510 731,502 728,495C725,488 722,475 725,470Z" fill="#c3c4c9"/>
<path d="M455,540C461,529 479,509 490,500C501,491 512,489 520,488C528,487 536,490 540,495C544,500 548,512 545,520C542,528 528,533 520,540C512,547 505,552 500,560C495,568 495,582 490,590C485,598 478,603 470,605C462,607 445,603 440,600C435,597 436,591 438,585C440,579 452,572 455,565C458,558 449,551 455,540Z" fill="#3b7cc2"/>
<path d="M458,560C464,554 482,552 490,555C498,558 505,568 505,575C505,582 496,595 490,600C484,605 476,605 470,603C464,601 457,597 455,590C453,583 452,566 458,560Z" fill="#e0202c"/>
<path d="M492,562C493,558 496,558 502,566C508,574 518,596 526,612C534,628 544,645 552,662C560,679 574,702 576,712C578,722 572,728 567,722C562,716 553,692 545,676C537,660 528,642 520,628C512,614 502,603 497,592C492,581 491,566 492,562Z" fill="#e0202c"/>
<path d="M595,500C598,496 619,489 625,490C631,491 635,501 632,505C629,509 611,516 605,515C599,514 592,504 595,500Z" fill="#c3c4c9"/>
<path d="M205,555C209,548 228,547 240,545C252,543 270,543 280,545C290,547 299,550 300,555C301,560 293,571 285,575C277,579 262,578 250,580C238,582 222,589 215,585C208,581 201,562 205,555Z" fill="#c3c4c9"/>
<path d="M780,555C782,552 791,554 795,560C799,566 800,582 805,590C810,598 821,600 825,610C829,620 829,637 828,650C827,663 823,685 820,690C817,695 811,688 808,680C805,672 803,652 800,640C797,628 793,620 790,610C787,600 785,589 783,580C781,571 778,558 780,555Z" fill="#c3c4c9"/>
<path d="M65,640C65,636 84,632 90,625C96,618 97,600 100,600C103,600 103,620 110,625C117,630 138,628 140,632C142,636 133,645 125,648C117,651 100,653 90,652C80,651 65,644 65,640Z" fill="#3b7cc2"/>
<path d="M565,700C568,694 581,697 590,690C599,683 610,670 620,660C630,650 641,635 650,630C659,625 670,627 675,630C680,633 684,642 682,650C680,658 673,672 665,680C657,688 642,694 635,700C628,706 626,710 620,715C614,720 608,728 600,730C592,732 576,733 570,728C564,723 562,706 565,700Z" fill="#c3c4c9"/>
<path d="M568,690C573,683 592,682 600,685C608,688 615,702 615,710C615,718 608,727 600,730C592,733 575,735 570,728C565,721 563,697 568,690Z" fill="#3b7cc2"/>
<path d="M435,710C437,706 446,702 450,705C454,708 460,719 460,725C460,731 452,739 448,740C444,741 438,735 436,730C434,725 433,714 435,710Z" fill="#c3c4c9"/>
<path d="M225,715C230,711 248,707 260,705C272,703 290,702 300,705C310,708 316,713 318,720C320,727 316,741 312,745C308,749 304,747 295,745C286,743 271,738 260,735C249,732 236,731 230,728C224,725 220,719 225,715Z" fill="#3b7cc2"/>
<path d="M298,740C302,731 308,733 308,739C308,745 304,762 300,775C296,788 289,806 285,815C281,824 278,830 276,832C274,834 269,835 270,828C271,821 277,807 282,792C287,777 294,749 298,740Z" fill="#e0202c"/>
<path d="M240,850C247,842 262,828 270,825C278,822 285,829 290,835C295,841 299,852 300,860C301,868 300,879 295,885C290,891 279,893 270,895C261,897 247,898 240,895C233,892 230,882 230,875C230,868 233,858 240,850Z" fill="#e0202c"/>
<path d="M542,846C543,845 549,845 550,846C551,847 551,853 550,854C549,855 543,855 542,854C541,853 541,847 542,846Z" fill="#c3c4c9"/>
<path d="M234 47h0M240 79h0M233 67h0M229 48h0M230 68h0M231 59h0M231 66h0M232 47h0M232 51h0M236 67h0M231 57h0M232 67h0M233 53h0M228 42h0M230 81h0M233 69h0M229 67h0M229 48h0M236 82h0M413 79h0M404 69h0M413 66h0M425 83h0M426 79h0M396 98h0M393 90h0M395 91h0M435 117h0M398 69h0M426 89h0M395 100h0M413 117h0M418 78h0M389 82h0M439 113h0M434 104h0M402 104h0M432 123h0M395 75h0M434 102h0M400 83h0M403 98h0M418 74h0M433 125h0M438 104h0M424 110h0M430 90h0M398 71h0M428 67h0M399 78h0M405 67h0M433 113h0M413 74h0M557 126h0M556 138h0M568 122h0M559 122h0M558 99h0M556 93h0M569 154h0M565 134h0M564 117h0M582 135h0M568 121h0M575 133h0M563 136h0M558 128h0M542 156h0M555 123h0M579 128h0M552 156h0M544 157h0M560 144h0M559 155h0M553 159h0M564 136h0M581 125h0M575 123h0M581 148h0M562 111h0M566 148h0M548 148h0M561 108h0M573 127h0M559 103h0M564 141h0M560 145h0M559 134h0M579 128h0M543 158h0M560 159h0M577 142h0M556 95h0M560 127h0M553 150h0M550 146h0M567 155h0M559 97h0M565 156h0M553 143h0M546 143h0M566 119h0M575 152h0M574 106h0M573 150h0M545 148h0M584 152h0M551 86h0M552 96h0M544 79h0M576 147h0M672 78h0M670 78h0M673 77h0M230 184h0M221 160h0M241 173h0M240 156h0M236 171h0M226 171h0M243 171h0M234 180h0M225 169h0M234 173h0M242 172h0M228 164h0M234 163h0M228 186h0M239 172h0M238 163h0M245 156h0M245 161h0M228 177h0M113 198h0M125 207h0M126 209h0M107 194h0M122 222h0M114 220h0M125 213h0M109 209h0M112 206h0M106 193h0M115 200h0M128 211h0M126 214h0M105 204h0M103 187h0M122 216h0M113 227h0M107 208h0M112 196h0M126 208h0M112 208h0M113 206h0M109 196h0M109 193h0M114 192h0M105 215h0M110 194h0M124 222h0M119 226h0M123 210h0M104 201h0M129 220h0M114 203h0M131 222h0M123 243h0M90 213h0M104 221h0M134 217h0M98 195h0M126 234h0M103 204h0M132 226h0M110 181h0M111 186h0M108 184h0M134 231h0M698 173h0M676 196h0M687 165h0M685 189h0M675 180h0M670 191h0M680 186h0M688 188h0M665 176h0M675 188h0M684 188h0M678 193h0M673 163h0M666 188h0M689 185h0M664 184h0M391 204h0M461 299h0M401 230h0M420 227h0M500 277h0M497 285h0M446 252h0M430 240h0M448 300h0M423 230h0M480 301h0M498 247h0M430 302h0M500 286h0M464 294h0M425 294h0M397 220h0M396 206h0M421 234h0M392 196h0M460 291h0M456 244h0M429 300h0M387 196h0M441 295h0M513 255h0M509 271h0M504 293h0M424 291h0M502 278h0M508 275h0M458 249h0M438 282h0M510 259h0M451 302h0M448 247h0M466 243h0M426 288h0M394 187h0M404 233h0M397 233h0M493 248h0M509 286h0M468 244h0M421 227h0M434 293h0M511 263h0M434 292h0M388 196h0M397 224h0M508 244h0M386 208h0M409 209h0M431 272h0M388 202h0M388 194h0M452 305h0M387 235h0M855 242h0M860 239h0M859 235h0M830 235h0M839 252h0M848 238h0M836 258h0M863 251h0M833 250h0M835 226h0M830 233h0M844 252h0M839 231h0M837 241h0M839 259h0M853 251h0M825 238h0M821 235h0M834 240h0M834 242h0M837 228h0M841 242h0M839 246h0M829 246h0M837 244h0M841 252h0M833 256h0M846 231h0M834 248h0M856 233h0M838 253h0M837 260h0M836 227h0M840 233h0M845 236h0M858 241h0M837 252h0M836 242h0M848 243h0M824 233h0M841 234h0M827 253h0M830 249h0M844 255h0M836 232h0M833 229h0M848 249h0M830 241h0M838 265h0M833 265h0M838 260h0M865 256h0M859 250h0M830 225h0M823 245h0M836 271h0M818 228h0M824 228h0M863 252h0M312 273h0M310 307h0M289 280h0M231 286h0M274 270h0M255 279h0M293 316h0M305 317h0M250 280h0M300 272h0M313 321h0M278 320h0M279 316h0M278 270h0M318 329h0M230 297h0M313 324h0M255 283h0M225 296h0M316 311h0M248 287h0M313 318h0M321 314h0M229 300h0M315 323h0M284 324h0M311 305h0M298 322h0M313 304h0M309 317h0M219 297h0M314 277h0M320 327h0M315 321h0M229 295h0M262 272h0M249 282h0M233 299h0M239 303h0M293 318h0M299 271h0M233 305h0M315 291h0M112 461h0M72 397h0M109 464h0M81 456h0M72 391h0M129 419h0M127 413h0M135 497h0M73 389h0M77 483h0M83 381h0M129 482h0M133 399h0M112 492h0M99 414h0M108 455h0M128 451h0M73 376h0M80 392h0M116 462h0M77 400h0M126 412h0M100 428h0M82 476h0M116 419h0M88 374h0M87 455h0M51 381h0M90 404h0M109 407h0M81 402h0M123 495h0M149 481h0M95 376h0M136 401h0M130 399h0M124 423h0M60 390h0M132 380h0M116 458h0M138 479h0M119 420h0M83 395h0M102 417h0M144 411h0M137 396h0M86 380h0M113 435h0M115 398h0M112 371h0M75 382h0M123 413h0M94 480h0M87 410h0M116 412h0M81 399h0M77 451h0M114 471h0M127 484h0M126 448h0M122 413h0M101 434h0M114 443h0M118 475h0M120 503h0M127 461h0M106 481h0M119 473h0M97 481h0M138 489h0M104 432h0M143 490h0M123 451h0M73 375h0M101 383h0M132 406h0M90 402h0M122 380h0M121 453h0M128 476h0M134 382h0M133 458h0M110 412h0M111 397h0M146 497h0M142 470h0M109 421h0M130 454h0M94 423h0M126 477h0M92 412h0M88 455h0M104 374h0M99 486h0M98 451h0M94 457h0M65 384h0M134 370h0M124 390h0M97 446h0M84 387h0M121 441h0M75 447h0M126 435h0M125 489h0M115 464h0M141 387h0M88 488h0M94 378h0M65 389h0M69 466h0M142 385h0M109 448h0M62 392h0M128 374h0M90 404h0M87 383h0M87 439h0M77 488h0M144 477h0M84 460h0M73 381h0M97 490h0M114 402h0M115 430h0M140 381h0M136 386h0M122 464h0M121 470h0M94 390h0M80 375h0M135 416h0M130 399h0M99 474h0M122 489h0M70 483h0M127 392h0M143 478h0M131 436h0M137 408h0M130 381h0M93 406h0M99 443h0M117 469h0M81 453h0M145 480h0M89 444h0M133 470h0M90 469h0M121 373h0M131 499h0M107 400h0M108 420h0M113 404h0M128 504h0M78 481h0M125 471h0M84 458h0M99 411h0M150 389h0M89 464h0M66 388h0M109 379h0M74 458h0M96 490h0M145 410h0M105 397h0M130 402h0M123 383h0M104 415h0M76 480h0M128 478h0M92 376h0M118 503h0M100 487h0M145 502h0M139 410h0M93 404h0M112 377h0M108 398h0M95 392h0M90 406h0M149 389h0M92 381h0M55 394h0M86 383h0M123 374h0M73 469h0M122 398h0M101 451h0M92 436h0M145 470h0M125 415h0M118 428h0M133 484h0M87 378h0M119 426h0M121 383h0M59 378h0M74 466h0M74 469h0M84 472h0M73 451h0M90 399h0M150 402h0M102 374h0M126 442h0M107 450h0M130 462h0M140 408h0M130 378h0M137 487h0M99 398h0M114 380h0M94 478h0M131 491h0M126 423h0M92 456h0M95 372h0M146 497h0M145 392h0M149 392h0M125 411h0M92 434h0M68 380h0M134 475h0M144 501h0M137 494h0M76 379h0M96 445h0M54 380h0M126 489h0M133 409h0M105 458h0M85 453h0M138 500h0M94 439h0M89 404h0M139 477h0M88 384h0M131 382h0M125 449h0M83 483h0M85 387h0M102 435h0M91 391h0M135 473h0M90 439h0M73 454h0M95 388h0M108 409h0M117 379h0M108 434h0M110 385h0M109 451h0M115 373h0M134 464h0M118 493h0M102 396h0M65 467h0M128 460h0M127 421h0M118 472h0M93 410h0M67 385h0M126 445h0M77 386h0M115 499h0M83 394h0M75 461h0M125 453h0M126 425h0M130 409h0M101 415h0M125 483h0M80 487h0M114 467h0M132 396h0M89 477h0M100 423h0M130 481h0M100 402h0M70 384h0M105 427h0M76 470h0M110 402h0M101 447h0M124 416h0M112 382h0M79 398h0M99 405h0M90 399h0M94 456h0M126 430h0M108 474h0M101 446h0M97 390h0M124 388h0M123 371h0M139 385h0M101 490h0M92 445h0M144 494h0M115 420h0M98 461h0M107 403h0M110 430h0M70 458h0M99 399h0M115 477h0M82 463h0M72 479h0M136 380h0M107 425h0M132 373h0M138 504h0M94 467h0M124 440h0M135 372h0M116 380h0M121 445h0M143 491h0M99 381h0M104 390h0M79 377h0M138 468h0M104 477h0M114 479h0M119 421h0M84 441h0M124 480h0M73 378h0M90 476h0M105 433h0M77 471h0M83 475h0M88 378h0M74 482h0M81 400h0M149 409h0M80 396h0M148 387h0M127 484h0M126 477h0M131 486h0M101 431h0M86 461h0M140 495h0M134 480h0M141 499h0M117 397h0M86 487h0M93 474h0M117 481h0M106 409h0M138 384h0M89 469h0M103 456h0M134 403h0M114 434h0M129 376h0M100 487h0M113 460h0M105 375h0M128 437h0M95 402h0M62 394h0M112 407h0M99 429h0M112 437h0M108 478h0M87 482h0M99 484h0M85 459h0M118 436h0M66 388h0M109 425h0M124 422h0M130 422h0M69 382h0M132 392h0M94 393h0M104 491h0M124 439h0M98 481h0M125 480h0M125 378h0M141 484h0M119 373h0M86 383h0M152 402h0M134 393h0M86 391h0M85 486h0M100 421h0M94 446h0M130 412h0M123 403h0M131 401h0M102 418h0M119 381h0M116 469h0M136 476h0M126 399h0M85 466h0M144 483h0M76 478h0M101 461h0M147 408h0M113 400h0M101 395h0M123 422h0M98 412h0M140 498h0M95 440h0M104 375h0M111 465h0M124 486h0M121 403h0M137 411h0M85 483h0M136 380h0M109 436h0M115 456h0M95 418h0M110 481h0M101 469h0M79 474h0M125 443h0M98 475h0M62 390h0M149 481h0M82 412h0M102 372h0M88 363h0M96 438h0M52 387h0M63 461h0M143 386h0M69 410h0M64 377h0M147 483h0M141 459h0M96 498h0M153 464h0M141 410h0M141 457h0M157 397h0M150 494h0M161 403h0M146 367h0M145 415h0M131 449h0M77 373h0M135 373h0M95 430h0M62 459h0M142 397h0M139 374h0M52 471h0M84 403h0M260 448h0M214 414h0M215 391h0M211 423h0M272 423h0M239 394h0M254 392h0M278 425h0M217 421h0M238 389h0M248 394h0M280 423h0M208 443h0M220 392h0M266 448h0M274 436h0M208 419h0M246 451h0M275 425h0M229 453h0M276 414h0M265 390h0M233 449h0M265 453h0M244 455h0M225 395h0M221 405h0M261 383h0M272 399h0M231 396h0M279 410h0M246 393h0M257 439h0M222 435h0M218 431h0M225 390h0M269 426h0M244 451h0M231 395h0M229 388h0M251 451h0M257 383h0M247 452h0M235 446h0M212 402h0M221 448h0M219 401h0M215 430h0M253 388h0M263 443h0M268 437h0M243 451h0M269 436h0M251 441h0M332 461h0M297 439h0M358 468h0M357 479h0M310 445h0M316 437h0M345 467h0M314 437h0M363 485h0M307 444h0M348 456h0M276 431h0M370 488h0M338 455h0M330 440h0M324 447h0M347 464h0M340 454h0M315 454h0M307 434h0M278 439h0M299 447h0M272 435h0M316 447h0M272 435h0M313 439h0M338 453h0M353 455h0M341 452h0M368 464h0M371 468h0M346 473h0M359 465h0M369 480h0M272 441h0M363 461h0M319 437h0M313 453h0M343 457h0M335 449h0M300 446h0M330 457h0M327 451h0M272 437h0M278 425h0M347 458h0M358 459h0M275 440h0M347 453h0M268 430h0M290 431h0M342 467h0M296 436h0M342 451h0M339 445h0M272 431h0M349 455h0M375 484h0M293 442h0M283 425h0M313 452h0M297 449h0M344 477h0M370 499h0M345 385h0M357 409h0M345 357h0M383 347h0M356 435h0M388 428h0M349 401h0M337 408h0M406 374h0M362 431h0M338 385h0M374 423h0M402 406h0M365 438h0M385 432h0M374 347h0M351 411h0M367 442h0M383 412h0M341 353h0M408 372h0M398 411h0M403 359h0M346 404h0M396 410h0M404 395h0M340 401h0M351 414h0M345 410h0M357 415h0M341 382h0M346 419h0M371 424h0M344 360h0M362 435h0M347 357h0M390 350h0M392 360h0M402 401h0M400 407h0M359 419h0M359 425h0M403 367h0M335 387h0M361 438h0M365 352h0M394 421h0M375 440h0M409 372h0M347 386h0M349 396h0M406 371h0M397 367h0M407 381h0M372 432h0M373 432h0M342 384h0M359 390h0M372 438h0M400 395h0M356 410h0M344 379h0M351 417h0M398 350h0M386 340h0M366 442h0M381 453h0M384 466h0M388 463h0M372 461h0M394 463h0M365 461h0M373 469h0M372 433h0M387 477h0M379 430h0M390 475h0M372 465h0M363 462h0M376 431h0M374 437h0M372 433h0M387 433h0M380 446h0M378 435h0M378 472h0M367 462h0M367 465h0M388 437h0M367 464h0M369 440h0M365 460h0M381 461h0M368 461h0M389 433h0M373 474h0M388 450h0M387 469h0M391 441h0M375 475h0M366 467h0M392 455h0M374 473h0M382 469h0M373 434h0M362 435h0M394 465h0M376 457h0M378 469h0M363 470h0M378 460h0M377 462h0M384 478h0M357 463h0M401 452h0M359 471h0M380 489h0M366 464h0M388 471h0M387 431h0M381 478h0M397 478h0M357 444h0M397 433h0M374 426h0M373 423h0M385 480h0M371 561h0M392 515h0M395 512h0M395 479h0M355 487h0M370 572h0M347 474h0M390 539h0M375 479h0M377 479h0M379 555h0M349 544h0M360 480h0M360 488h0M395 478h0M348 511h0M381 471h0M353 552h0M353 526h0M398 499h0M376 558h0M392 499h0M365 576h0M359 567h0M358 515h0M392 560h0M389 552h0M366 471h0M397 498h0M390 565h0M354 541h0M390 513h0M357 527h0M379 566h0M352 562h0M397 491h0M350 545h0M347 517h0M395 486h0M389 541h0M383 551h0M373 566h0M349 498h0M395 482h0M362 472h0M351 533h0M352 504h0M391 482h0M358 525h0M356 543h0M399 504h0M371 573h0M378 576h0M346 552h0M367 568h0M536 398h0M517 393h0M480 404h0M522 409h0M525 400h0M512 414h0M485 409h0M480 422h0M536 396h0M462 421h0M483 400h0M495 385h0M519 398h0M477 403h0M500 412h0M456 426h0M474 428h0M498 390h0M474 401h0M482 408h0M509 391h0M525 414h0M533 416h0M479 420h0M528 417h0M538 415h0M518 417h0M507 421h0M524 390h0M534 398h0M452 427h0M537 395h0M485 401h0M460 415h0M537 399h0M901 446h0M866 459h0M867 442h0M909 452h0M879 437h0M860 447h0M894 461h0M859 446h0M898 445h0M860 441h0M876 451h0M880 457h0M852 431h0M884 464h0M861 449h0M869 453h0M848 438h0M852 432h0M908 452h0M872 462h0M848 441h0M864 430h0M882 449h0M853 432h0M899 453h0M900 464h0M873 443h0M889 435h0M901 460h0M874 461h0M896 461h0M885 451h0M878 433h0M884 455h0M895 443h0M876 444h0M863 451h0M894 447h0M886 440h0M874 445h0M860 458h0M849 439h0M857 430h0M893 443h0M903 451h0M855 440h0M889 442h0M887 434h0M877 449h0M895 458h0M848 433h0M858 452h0M877 461h0M901 439h0M846 438h0M852 455h0M869 428h0M918 460h0M857 457h0M892 428h0M880 422h0M771 505h0M786 510h0M811 521h0M727 484h0M809 517h0M749 490h0M761 482h0M807 520h0M780 496h0M772 512h0M755 477h0M795 515h0M739 485h0M736 485h0M804 534h0M744 514h0M745 509h0M737 489h0M727 481h0M749 500h0M736 500h0M793 518h0M782 508h0M777 506h0M730 493h0M769 512h0M773 516h0M748 495h0M731 484h0M775 505h0M789 525h0M794 523h0M746 470h0M774 519h0M747 474h0M739 482h0M808 515h0M752 487h0M785 516h0M797 531h0M777 526h0M802 517h0M811 521h0M778 519h0M756 508h0M797 504h0M729 480h0M751 480h0M753 510h0M799 529h0M786 500h0M758 492h0M790 527h0M802 533h0M748 479h0M806 528h0M761 497h0M732 489h0M761 499h0M772 520h0M743 484h0M744 501h0M753 514h0M752 514h0M811 525h0M778 508h0M779 519h0M776 522h0M733 481h0M738 493h0M785 505h0M778 494h0M788 510h0M755 478h0M788 518h0M737 497h0M783 519h0M789 511h0M767 499h0M800 530h0M738 478h0M751 514h0M763 503h0M767 495h0M771 511h0M794 519h0M781 513h0M789 512h0M786 509h0M745 491h0M757 500h0M762 520h0M726 475h0M790 511h0M767 492h0M801 507h0M774 518h0M800 524h0M756 499h0M738 492h0M754 502h0M757 517h0M782 518h0M727 476h0M732 475h0M790 523h0M784 501h0M729 488h0M729 472h0M736 489h0M753 480h0M743 502h0M788 512h0M790 504h0M782 517h0M808 530h0M745 498h0M740 503h0M753 474h0M776 500h0M778 508h0M774 500h0M756 499h0M775 518h0M770 499h0M736 501h0M777 494h0M803 525h0M747 509h0M768 510h0M785 504h0M782 500h0M798 518h0M773 499h0M739 498h0M785 502h0M810 526h0M742 483h0M740 507h0M753 485h0M751 479h0M778 524h0M749 499h0M812 518h0M725 471h0M803 517h0M789 532h0M780 490h0M764 482h0M796 531h0M731 501h0M791 533h0M721 468h0M766 531h0M743 514h0M713 474h0M798 513h0M749 517h0M809 518h0M729 489h0M449 577h0M462 600h0M528 513h0M452 568h0M512 555h0M471 563h0M530 503h0M495 578h0M527 496h0M521 532h0M482 498h0M516 490h0M446 587h0M466 600h0M473 593h0M476 599h0M433 579h0M501 551h0M491 496h0M546 495h0M457 546h0M531 539h0M451 535h0M477 601h0M433 589h0M462 542h0M441 595h0M545 503h0M498 495h0M499 566h0M452 569h0M489 570h0M435 576h0M535 497h0M534 527h0M498 485h0M450 577h0M532 500h0M442 569h0M473 519h0M452 614h0M544 527h0M547 526h0M516 535h0M468 614h0M500 559h0M449 577h0M538 546h0M466 530h0M453 549h0M480 599h0M464 538h0M451 558h0M432 584h0M489 494h0M544 508h0M524 484h0M448 592h0M438 572h0M528 535h0M619 497h0M598 504h0M623 497h0M605 505h0M615 496h0M600 502h0M614 502h0M626 502h0M606 513h0M621 490h0M624 509h0M618 497h0M605 511h0M230 553h0M255 552h0M276 557h0M293 558h0M241 563h0M273 566h0M215 582h0M278 547h0M227 564h0M247 559h0M251 559h0M280 568h0M248 548h0M287 571h0M287 557h0M224 561h0M233 568h0M282 575h0M280 553h0M231 550h0M246 551h0M249 547h0M269 571h0M237 562h0M242 548h0M264 548h0M222 557h0M269 555h0M233 551h0M236 579h0M246 546h0M285 565h0M241 574h0M239 547h0M239 557h0M257 588h0M287 560h0M221 578h0M266 547h0M820 650h0M820 686h0M813 616h0M825 628h0M819 645h0M822 637h0M809 614h0M792 577h0M809 599h0M809 679h0M825 624h0M811 605h0M806 658h0M800 590h0M812 615h0M809 672h0M783 577h0M821 638h0M817 670h0M810 681h0M810 643h0M812 675h0M789 594h0M808 663h0M796 601h0M812 628h0M806 610h0M807 619h0M804 646h0M819 658h0M812 638h0M820 667h0M799 599h0M822 643h0M799 587h0M808 600h0M809 638h0M817 606h0M790 591h0M804 625h0M796 599h0M819 636h0M811 614h0M784 576h0M802 633h0M810 613h0M819 658h0M784 580h0M790 571h0M798 627h0M818 620h0M793 561h0M817 643h0M813 607h0M795 582h0M795 577h0M810 672h0M818 679h0M811 624h0M800 590h0M800 606h0M809 666h0M785 572h0M811 637h0M820 666h0M821 641h0M808 611h0M798 583h0M818 652h0M814 635h0M822 620h0M807 651h0M818 652h0M804 622h0M811 653h0M802 611h0M826 642h0M812 674h0M806 633h0M790 601h0M783 567h0M826 639h0M810 620h0M812 658h0M816 638h0M827 635h0M797 606h0M791 588h0M811 598h0M812 614h0M802 622h0M820 676h0M805 635h0M825 633h0M821 651h0M807 601h0M822 632h0M816 678h0M783 560h0M808 648h0M800 627h0M818 614h0M801 629h0M812 664h0M815 602h0M789 603h0M796 586h0M818 634h0M808 668h0M811 630h0M797 583h0M809 624h0M809 595h0M825 630h0M795 629h0M826 623h0M788 555h0M826 639h0M815 689h0M781 560h0M816 685h0M783 557h0M803 575h0M785 588h0M792 602h0M779 564h0M804 655h0M785 585h0M818 678h0M93 649h0M109 618h0M140 634h0M132 640h0M119 654h0M81 650h0M102 606h0M101 602h0M89 628h0M92 606h0M118 653h0M109 602h0M127 638h0M111 616h0M76 633h0M122 648h0M128 645h0M74 634h0M87 611h0M107 650h0M118 629h0M146 633h0M134 631h0M105 626h0M143 637h0M99 616h0M87 660h0M126 648h0M118 624h0M83 658h0M128 651h0M95 617h0M122 647h0M63 643h0M105 596h0M81 629h0M90 627h0M76 633h0M84 630h0M102 612h0M74 631h0M85 630h0M96 624h0M661 643h0M577 722h0M577 715h0M618 711h0M647 640h0M576 717h0M636 670h0M646 659h0M626 682h0M646 656h0M642 681h0M635 698h0M668 642h0M668 670h0M665 679h0M646 656h0M620 683h0M602 697h0M677 656h0M603 706h0M615 714h0M572 705h0M619 666h0M573 700h0M580 714h0M647 677h0M602 727h0M646 649h0M654 646h0M596 700h0M648 649h0M646 686h0M633 656h0M656 671h0M612 713h0M666 635h0M634 655h0M588 700h0M610 721h0M603 720h0M659 663h0M592 695h0M584 701h0M622 703h0M642 687h0M575 707h0M660 652h0M617 675h0M674 655h0M579 727h0M626 672h0M672 648h0M586 701h0M610 715h0M600 726h0M582 707h0M578 714h0M588 728h0M626 691h0M610 697h0M576 709h0M628 674h0M574 707h0M602 681h0M668 656h0M609 702h0M606 695h0M676 634h0M618 697h0M575 697h0M646 659h0M602 690h0M631 675h0M639 687h0M670 668h0M632 696h0M659 661h0M605 698h0M648 675h0M649 663h0M599 700h0M606 680h0M640 656h0M600 722h0M593 719h0M616 703h0M647 672h0M589 717h0M639 669h0M621 700h0M663 632h0M670 652h0M586 694h0M597 710h0M634 692h0M645 689h0M628 678h0M615 691h0M599 718h0M654 658h0M595 713h0M648 681h0M579 713h0M663 670h0M666 654h0M656 638h0M582 694h0M586 704h0M663 671h0M629 698h0M639 673h0M641 693h0M595 710h0M664 633h0M594 704h0M608 690h0M578 711h0M626 671h0M601 696h0M656 658h0M604 726h0M600 697h0M609 674h0M572 713h0M615 666h0M634 696h0M627 673h0M624 684h0M656 636h0M640 697h0M616 679h0M578 723h0M614 685h0M664 655h0M668 637h0M627 674h0M606 711h0M591 704h0M605 676h0M646 675h0M584 696h0M569 703h0M633 697h0M667 657h0M623 679h0M646 637h0M616 710h0M646 634h0M575 703h0M672 651h0M616 718h0M652 635h0M571 725h0M603 714h0M632 652h0M668 663h0M588 726h0M596 716h0M597 728h0M668 664h0M589 710h0M625 658h0M615 694h0M604 683h0M643 665h0M641 644h0M617 685h0M638 676h0M669 655h0M594 723h0M618 707h0M567 710h0M654 661h0M596 711h0M612 669h0M620 708h0M576 708h0M663 689h0M575 717h0M625 710h0M673 675h0M588 689h0M638 696h0M649 686h0M660 633h0M638 705h0M637 698h0M602 731h0M629 708h0M564 727h0M623 712h0M572 723h0M576 680h0M567 700h0M573 731h0M575 702h0M573 711h0M609 693h0M613 718h0M596 688h0M566 727h0M603 688h0M567 705h0M617 700h0M614 711h0M616 692h0M609 707h0M588 730h0M580 686h0M613 700h0M606 709h0M610 693h0M604 732h0M574 687h0M579 728h0M568 692h0M615 718h0M572 714h0M569 704h0M606 701h0M599 713h0M606 729h0M572 675h0M569 710h0M603 698h0M611 704h0M598 687h0M604 714h0M589 732h0M584 683h0M582 688h0M597 685h0M269 693h0M303 744h0M249 733h0M231 716h0M232 713h0M303 718h0M240 733h0M323 717h0M221 713h0M264 699h0M308 713h0M245 732h0M291 755h0M249 738h0M272 736h0M225 724h0M308 748h0M257 709h0M269 737h0M295 738h0M282 710h0M301 698h0M260 729h0M297 756h0M232 718h0M267 703h0M230 724h0M283 739h0M317 744h0M245 711h0M269 714h0M231 714h0M253 706h0M300 707h0M227 727h0M279 736h0M254 737h0M304 735h0M311 748h0M314 716h0M301 743h0M230 710h0M305 741h0M233 727h0M240 699h0M318 718h0M315 745h0M244 731h0M304 711h0M274 744h0M315 733h0M297 745h0M245 737h0M311 734h0M265 735h0M253 729h0M271 699h0M322 718h0M321 742h0M544 847h0M543 853h0M549 857h0M550 847h0M536 861h0M539 852h0" stroke="#3b7cc2" stroke-width="3.2" stroke-linecap="round" fill="none"/>
<path d="M230 47h0M232 48h0M242 43h0M243 83h0M239 88h0M233 85h0M235 94h0M237 35h0M237 88h0M229 53h0M231 83h0M228 36h0M228 32h0M233 79h0M223 46h0M239 76h0M228 33h0M233 42h0M406 102h0M401 109h0M423 84h0M421 106h0M409 108h0M401 107h0M412 84h0M405 81h0M404 80h0M401 108h0M418 105h0M431 93h0M397 80h0M416 107h0M432 97h0M404 101h0M432 87h0M418 95h0M400 76h0M397 102h0M411 77h0M397 85h0M407 82h0M424 90h0M417 78h0M407 117h0M414 80h0M401 79h0M413 118h0M430 109h0M425 80h0M426 82h0M416 72h0M419 104h0M421 105h0M410 111h0M433 102h0M397 105h0M399 104h0M410 114h0M395 77h0M423 111h0M424 84h0M422 85h0M411 109h0M416 95h0M432 92h0M416 107h0M406 103h0M420 77h0M400 93h0M398 75h0M417 116h0M413 112h0M430 114h0M424 97h0M418 71h0M405 107h0M416 99h0M406 99h0M417 108h0M398 77h0M417 113h0M400 78h0M415 86h0M401 78h0M412 111h0M402 112h0M398 83h0M408 78h0M401 107h0M430 87h0M426 100h0M409 116h0M423 87h0M418 85h0M432 107h0M395 76h0M412 116h0M398 69h0M404 76h0M435 115h0M402 76h0M403 116h0M433 119h0M400 108h0M406 75h0M419 109h0M419 118h0M407 79h0M398 73h0M396 102h0M388 88h0M552 94h0M585 118h0M553 161h0M569 109h0M539 138h0M575 148h0M560 88h0M539 162h0M567 149h0M556 74h0M547 128h0M567 105h0M549 79h0M567 110h0M554 81h0M552 87h0M563 105h0M553 75h0M543 139h0M567 161h0M526 162h0M548 99h0M569 80h0M552 69h0M588 136h0M564 115h0M560 116h0M540 74h0M539 146h0M570 112h0M533 157h0M547 84h0M558 132h0M556 86h0M579 134h0M552 80h0M570 95h0M546 73h0M559 80h0M552 139h0M561 116h0M556 161h0M544 157h0M669 73h0M671 86h0M665 79h0M680 83h0M665 86h0M670 94h0M670 68h0M680 68h0M238 145h0M221 169h0M226 170h0M227 161h0M246 180h0M210 175h0M243 163h0M228 185h0M235 161h0M230 186h0M239 162h0M231 155h0M224 155h0M223 174h0M215 164h0M226 184h0M239 178h0M225 163h0M226 155h0M243 174h0M118 233h0M107 191h0M105 212h0M122 231h0M104 229h0M95 187h0M105 176h0M96 180h0M110 224h0M112 227h0M124 239h0M141 225h0M131 213h0M138 218h0M134 221h0M112 203h0M129 216h0M108 192h0M118 198h0M106 196h0M109 186h0M113 185h0M130 229h0M124 235h0M125 217h0M105 183h0M675 188h0M679 189h0M688 177h0M681 187h0M684 189h0M675 187h0M681 178h0M684 175h0M681 174h0M669 188h0M689 191h0M500 258h0M408 210h0M488 284h0M492 266h0M488 264h0M484 268h0M439 287h0M474 285h0M474 290h0M498 282h0M419 238h0M461 261h0M464 253h0M499 254h0M433 245h0M486 273h0M418 234h0M457 279h0M481 288h0M443 267h0M420 228h0M474 264h0M506 264h0M492 290h0M480 293h0M427 252h0M439 264h0M495 250h0M404 223h0M393 224h0M471 259h0M411 213h0M402 225h0M417 234h0M485 262h0M503 281h0M490 292h0M504 279h0M425 232h0M471 248h0M458 278h0M459 280h0M446 282h0M465 264h0M444 288h0M398 222h0M476 270h0M425 241h0M469 296h0M428 287h0M479 259h0M402 197h0M473 266h0M438 282h0M469 251h0M445 292h0M477 259h0M465 261h0M461 247h0M502 272h0M431 291h0M422 238h0M487 274h0M461 291h0M438 270h0M451 286h0M485 271h0M409 204h0M418 230h0M468 288h0M496 277h0M419 225h0M436 261h0M456 299h0M498 280h0M411 232h0M405 228h0M473 270h0M478 258h0M466 296h0M487 250h0M468 252h0M462 258h0M400 229h0M407 214h0M454 279h0M437 282h0M409 230h0M436 290h0M476 284h0M502 260h0M487 255h0M495 252h0M470 278h0M402 225h0M409 233h0M429 253h0M464 272h0M406 204h0M449 272h0M452 253h0M427 241h0M454 251h0M441 255h0M391 202h0M479 288h0M470 269h0M491 249h0M504 276h0M453 248h0M429 289h0M455 276h0M405 219h0M456 275h0M439 296h0M443 284h0M406 205h0M446 267h0M405 211h0M453 274h0M494 250h0M453 273h0M444 259h0M481 257h0M485 269h0M483 287h0M506 267h0M422 243h0M502 272h0M449 299h0M468 257h0M409 219h0M434 246h0M459 247h0M452 297h0M482 256h0M473 296h0M486 274h0M457 272h0M489 288h0M405 204h0M439 278h0M480 291h0M394 195h0M481 286h0M491 266h0M493 277h0M433 245h0M439 265h0M436 275h0M400 200h0M444 278h0M443 282h0M447 289h0M494 271h0M442 273h0M486 265h0M504 278h0M405 223h0M491 292h0M430 243h0M399 223h0M483 287h0M418 235h0M406 225h0M475 269h0M437 286h0M435 281h0M401 204h0M452 278h0M467 269h0M393 208h0M491 290h0M482 248h0M443 263h0M490 271h0M442 265h0M481 295h0M481 291h0M403 224h0M406 231h0M409 208h0M445 282h0M422 239h0M495 279h0M503 262h0M411 237h0M499 267h0M401 191h0M426 240h0M453 303h0M489 295h0M515 280h0M462 247h0M477 238h0M498 287h0M505 295h0M415 225h0M508 248h0M476 250h0M396 234h0M465 296h0M404 222h0M399 210h0M461 249h0M452 248h0M398 222h0M823 228h0M851 253h0M854 248h0M865 249h0M860 251h0M819 238h0M864 243h0M831 272h0M835 224h0M822 255h0M839 217h0M823 271h0M849 255h0M847 252h0M816 253h0M835 238h0M862 236h0M828 246h0M859 257h0M822 258h0M815 238h0M870 237h0M845 235h0M832 225h0M833 221h0M830 257h0M868 249h0M859 240h0M876 244h0M292 279h0M317 314h0M253 303h0M289 316h0M264 279h0M248 293h0M287 299h0M256 298h0M288 282h0M278 311h0M251 300h0M241 293h0M238 301h0M271 279h0M264 300h0M294 295h0M305 304h0M267 307h0M242 304h0M316 314h0M291 300h0M311 316h0M303 315h0M298 275h0M250 287h0M302 312h0M288 315h0M260 285h0M293 295h0M314 295h0M251 287h0M300 280h0M289 316h0M301 311h0M299 318h0M268 292h0M305 278h0M272 290h0M303 324h0M282 301h0M306 281h0M269 287h0M266 285h0M272 297h0M266 295h0M286 274h0M280 283h0M289 277h0M265 301h0M244 301h0M263 304h0M254 298h0M284 281h0M292 295h0M268 303h0M234 301h0M281 277h0M305 301h0M233 291h0M313 321h0M253 287h0M282 279h0M313 292h0M276 277h0M260 284h0M309 311h0M245 296h0M258 284h0M264 284h0M290 281h0M265 294h0M282 291h0M301 294h0M306 299h0M307 295h0M294 278h0M270 298h0M259 296h0M295 289h0M282 306h0M241 296h0M299 319h0M313 298h0M290 308h0M311 319h0M314 301h0M281 280h0M297 322h0M287 298h0M298 297h0M288 311h0M298 303h0M260 301h0M253 297h0M293 298h0M276 296h0M294 305h0M304 276h0M266 282h0M288 299h0M291 289h0M236 299h0M302 312h0M260 303h0M252 295h0M266 294h0M297 288h0M255 291h0M314 320h0M271 301h0M286 304h0M299 297h0M290 312h0M255 306h0M306 304h0M293 284h0M293 300h0M313 296h0M308 304h0M315 309h0M252 296h0M307 316h0M298 319h0M260 281h0M301 308h0M278 300h0M297 314h0M263 282h0M253 284h0M242 288h0M302 319h0M261 299h0M282 280h0M303 317h0M305 322h0M282 310h0M277 299h0M301 277h0M268 287h0M269 284h0M280 299h0M308 317h0M312 300h0M289 289h0M262 277h0M316 322h0M262 274h0M248 278h0M233 284h0M294 331h0M294 322h0M307 285h0M304 277h0M269 282h0M239 302h0M299 282h0M247 304h0M246 308h0M267 309h0M236 306h0M310 282h0M316 298h0M310 280h0M243 299h0M253 297h0M126 417h0M107 498h0M126 500h0M122 502h0M141 435h0M148 505h0M44 392h0M148 389h0M153 403h0M53 389h0M128 448h0M58 482h0M46 376h0M146 467h0M132 424h0M57 388h0M64 448h0M80 490h0M118 374h0M83 448h0M139 373h0M86 381h0M147 400h0M70 470h0M66 464h0M139 438h0M136 458h0M148 417h0M74 446h0M155 508h0M112 495h0M76 493h0M135 426h0M111 494h0M78 475h0M119 507h0M94 487h0M147 473h0M75 452h0M113 367h0M127 425h0M60 476h0M156 400h0M146 484h0M144 483h0M154 398h0M64 481h0M91 412h0M129 419h0M132 423h0M110 496h0M147 393h0M98 368h0M74 438h0M154 490h0M118 500h0M93 417h0M139 481h0M83 407h0M67 444h0M139 383h0M56 477h0M142 492h0M126 501h0M91 424h0M94 442h0M78 497h0M85 492h0M71 478h0M66 474h0M53 476h0M66 407h0M102 489h0M160 389h0M92 409h0M150 473h0M106 363h0M129 501h0M78 490h0M140 448h0M152 387h0M136 364h0M73 472h0M257 444h0M266 402h0M256 423h0M264 435h0M232 430h0M233 407h0M252 439h0M240 409h0M260 422h0M268 417h0M269 413h0M232 434h0M263 408h0M233 431h0M256 420h0M235 447h0M234 439h0M249 433h0M253 395h0M267 426h0M239 422h0M221 428h0M241 415h0M245 420h0M237 398h0M267 422h0M216 408h0M257 408h0M232 414h0M227 422h0M257 422h0M242 399h0M253 400h0M233 422h0M260 428h0M256 431h0M240 429h0M235 415h0M234 401h0M228 401h0M232 447h0M244 420h0M225 396h0M222 395h0M246 412h0M265 415h0M215 429h0M250 406h0M247 393h0M238 416h0M226 407h0M243 420h0M225 398h0M236 441h0M253 405h0M260 405h0M259 400h0M254 419h0M230 405h0M269 406h0M254 414h0M226 413h0M257 403h0M254 424h0M217 440h0M248 411h0M265 437h0M214 423h0M244 447h0M212 425h0M267 394h0M213 401h0M270 415h0M267 420h0M268 423h0M219 443h0M254 454h0M254 437h0M275 416h0M217 440h0M221 390h0M266 438h0M326 438h0M268 435h0M375 484h0M297 432h0M278 424h0M265 414h0M278 416h0M266 425h0M271 419h0M350 474h0M363 476h0M355 475h0M337 474h0M342 438h0M361 461h0M346 477h0M372 480h0M292 430h0M334 451h0M373 468h0M266 443h0M296 433h0M360 445h0M262 427h0M328 439h0M313 430h0M257 426h0M279 447h0M304 433h0M365 463h0M291 429h0M317 433h0M285 424h0M281 423h0M277 436h0M359 451h0M369 476h0M374 490h0M307 454h0M341 481h0M319 440h0M279 423h0M267 417h0M325 463h0M300 430h0M332 476h0M311 459h0M350 463h0M309 469h0M373 485h0M326 428h0M378 427h0M350 398h0M387 387h0M377 419h0M384 360h0M371 386h0M384 369h0M376 405h0M355 370h0M374 423h0M383 396h0M363 417h0M364 362h0M404 385h0M401 395h0M407 374h0M397 367h0M371 372h0M387 407h0M398 382h0M374 373h0M381 374h0M396 395h0M365 361h0M350 401h0M388 413h0M398 382h0M400 383h0M383 368h0M388 392h0M396 396h0M370 418h0M401 400h0M342 377h0M346 378h0M359 392h0M376 402h0M404 387h0M368 382h0M358 400h0M380 397h0M385 371h0M380 412h0M370 358h0M399 368h0M390 387h0M351 407h0M372 363h0M377 376h0M375 385h0M346 378h0M394 390h0M368 368h0M370 433h0M381 422h0M349 360h0M356 415h0M353 365h0M391 363h0M393 403h0M357 386h0M347 365h0M354 383h0M378 362h0M387 352h0M395 374h0M377 355h0M366 425h0M363 431h0M345 382h0M380 353h0M387 414h0M384 351h0M387 405h0M369 423h0M362 411h0M406 374h0M393 386h0M361 418h0M394 374h0M391 393h0M356 357h0M396 373h0M366 392h0M377 396h0M346 396h0M402 364h0M361 428h0M384 387h0M349 363h0M352 379h0M347 363h0M387 364h0M391 371h0M379 364h0M345 379h0M394 413h0M343 420h0M373 434h0M377 424h0M371 429h0M364 435h0M395 359h0M371 361h0M397 407h0M379 435h0M405 397h0M402 393h0M381 484h0M381 435h0M395 474h0M388 448h0M358 466h0M370 429h0M351 435h0M379 477h0M381 472h0M392 456h0M363 454h0M366 432h0M387 438h0M370 463h0M398 445h0M377 436h0M399 467h0M363 440h0M392 479h0M366 436h0M387 443h0M389 460h0M385 436h0M390 471h0M395 479h0M390 449h0M386 477h0M375 425h0M367 453h0M357 433h0M365 482h0M375 540h0M359 533h0M371 516h0M381 499h0M355 535h0M358 495h0M387 528h0M368 498h0M366 569h0M389 492h0M366 564h0M353 554h0M380 525h0M366 519h0M390 520h0M352 553h0M367 485h0M380 532h0M374 507h0M356 513h0M357 523h0M359 529h0M359 545h0M373 531h0M369 515h0M374 500h0M388 492h0M375 558h0M376 511h0M361 544h0M377 534h0M372 553h0M383 499h0M355 540h0M358 561h0M384 556h0M358 505h0M366 541h0M363 550h0M384 533h0M363 487h0M392 502h0M378 538h0M356 541h0M379 507h0M374 510h0M356 529h0M392 487h0M359 539h0M382 559h0M383 497h0M367 544h0M360 516h0M374 488h0M363 564h0M363 539h0M355 523h0M354 540h0M370 547h0M358 494h0M391 525h0M356 499h0M381 562h0M366 488h0M372 493h0M363 509h0M390 517h0M392 505h0M385 534h0M355 563h0M383 521h0M369 543h0M382 486h0M362 503h0M341 506h0M395 506h0M392 468h0M393 529h0M397 505h0M353 541h0M395 510h0M389 506h0M398 516h0M390 486h0M388 542h0M355 561h0M397 510h0M496 414h0M495 397h0M531 410h0M505 408h0M513 412h0M506 394h0M500 410h0M483 412h0M470 418h0M509 411h0M520 401h0M514 412h0M483 421h0M520 410h0M527 395h0M499 412h0M502 415h0M461 420h0M489 400h0M522 416h0M519 407h0M497 414h0M464 419h0M480 406h0M480 402h0M498 413h0M500 403h0M487 406h0M501 401h0M524 414h0M468 424h0M527 402h0M516 397h0M479 403h0M486 400h0M533 399h0M496 399h0M502 397h0M515 392h0M528 411h0M519 406h0M502 394h0M523 403h0M528 412h0M524 411h0M504 404h0M497 417h0M492 420h0M525 406h0M524 413h0M534 395h0M526 398h0M500 406h0M516 397h0M506 413h0M492 400h0M500 417h0M467 419h0M499 407h0M480 406h0M519 415h0M504 403h0M485 401h0M466 423h0M477 412h0M479 407h0M530 406h0M493 396h0M519 393h0M475 409h0M462 421h0M515 394h0M461 416h0M484 414h0M524 422h0M476 411h0M530 410h0M494 416h0M511 387h0M534 393h0M465 431h0M531 400h0M859 426h0M853 456h0M909 443h0M855 451h0M840 432h0M842 449h0M864 452h0M887 432h0M849 436h0M841 427h0M896 465h0M847 438h0M834 441h0M887 464h0M838 435h0M913 461h0M851 445h0M849 440h0M843 442h0M868 429h0M902 433h0M911 456h0M864 461h0M850 443h0M886 432h0M860 433h0M851 429h0M850 455h0M847 435h0M854 431h0M874 469h0M917 449h0M856 436h0M884 431h0M843 432h0M885 433h0M886 472h0M873 427h0M899 470h0M884 432h0M867 463h0M851 449h0M845 444h0M850 459h0M805 528h0M790 532h0M725 466h0M781 493h0M785 496h0M772 490h0M745 469h0M792 528h0M822 523h0M731 509h0M782 535h0M773 525h0M755 482h0M732 466h0M769 490h0M732 462h0M768 521h0M809 514h0M781 521h0M731 512h0M762 523h0M729 464h0M757 465h0M763 491h0M741 474h0M761 482h0M791 506h0M814 512h0M745 470h0M723 474h0M729 470h0M730 505h0M798 500h0M764 524h0M732 507h0M754 465h0M812 519h0M778 525h0M745 462h0M728 469h0M765 493h0M743 512h0M798 503h0M760 523h0M796 535h0M764 475h0M768 501h0M474 593h0M450 586h0M487 507h0M465 558h0M467 571h0M475 530h0M514 514h0M486 566h0M489 523h0M502 537h0M529 517h0M485 567h0M466 592h0M456 590h0M471 531h0M480 514h0M499 559h0M480 572h0M487 586h0M495 570h0M526 514h0M457 574h0M483 535h0M483 555h0M527 492h0M501 559h0M521 534h0M507 526h0M485 589h0M507 512h0M488 506h0M467 550h0M467 530h0M506 497h0M466 552h0M496 504h0M492 564h0M475 554h0M509 507h0M515 498h0M517 510h0M490 576h0M481 534h0M491 561h0M522 528h0M477 577h0M454 575h0M493 524h0M497 517h0M455 588h0M456 545h0M502 527h0M510 506h0M484 554h0M450 589h0M528 505h0M507 507h0M448 589h0M522 503h0M475 578h0M535 504h0M469 600h0M483 566h0M524 498h0M461 543h0M473 547h0M462 571h0M489 524h0M535 497h0M475 572h0M470 596h0M460 552h0M508 496h0M489 549h0M525 503h0M471 536h0M466 589h0M516 506h0M493 564h0M471 565h0M462 603h0M497 506h0M461 603h0M525 506h0M464 571h0M543 521h0M470 545h0M456 582h0M489 571h0M492 563h0M539 518h0M487 590h0M465 542h0M464 588h0M457 560h0M499 549h0M524 508h0M492 545h0M477 558h0M482 570h0M476 596h0M463 597h0M513 504h0M495 557h0M457 567h0M506 545h0M534 514h0M461 598h0M517 526h0M457 540h0M510 540h0M511 547h0M465 548h0M472 597h0M459 558h0M472 556h0M497 511h0M500 499h0M521 496h0M509 524h0M467 604h0M520 521h0M498 511h0M523 503h0M487 554h0M534 510h0M473 588h0M459 551h0M475 523h0M497 553h0M506 494h0M516 509h0M532 521h0M502 525h0M529 492h0M457 596h0M494 500h0M516 521h0M490 581h0M468 580h0M496 547h0M455 580h0M541 512h0M461 540h0M501 546h0M458 541h0M503 504h0M533 503h0M503 510h0M488 519h0M465 573h0M525 524h0M453 579h0M523 525h0M502 497h0M507 522h0M515 534h0M506 507h0M479 586h0M482 511h0M458 564h0M484 560h0M532 510h0M501 537h0M474 574h0M532 508h0M518 519h0M527 526h0M515 508h0M462 557h0M492 558h0M458 545h0M516 537h0M467 530h0M533 522h0M521 535h0M506 512h0M521 496h0M481 542h0M533 502h0M525 495h0M478 593h0M540 511h0M517 491h0M467 561h0M498 502h0M454 601h0M509 532h0M507 509h0M458 539h0M462 559h0M489 502h0M521 489h0M493 553h0M483 564h0M535 495h0M455 557h0M497 557h0M528 530h0M500 513h0M459 592h0M469 569h0M462 542h0M514 525h0M465 567h0M465 584h0M489 527h0M487 588h0M543 516h0M453 586h0M512 542h0M519 530h0M473 529h0M536 502h0M506 538h0M448 583h0M471 531h0M520 526h0M494 519h0M488 553h0M509 526h0M464 535h0M455 590h0M482 529h0M532 503h0M529 511h0M505 531h0M511 529h0M507 517h0M532 529h0M494 559h0M533 506h0M509 545h0M530 516h0M484 587h0M459 578h0M475 566h0M502 543h0M528 529h0M496 569h0M458 554h0M477 525h0M500 522h0M502 538h0M526 501h0M490 558h0M473 590h0M492 543h0M480 586h0M504 529h0M532 497h0M537 524h0M507 494h0M478 574h0M512 532h0M441 591h0M479 513h0M539 506h0M510 516h0M510 498h0M456 590h0M512 501h0M473 553h0M521 517h0M514 496h0M497 512h0M452 571h0M441 590h0M517 501h0M486 537h0M478 514h0M488 520h0M516 542h0M459 570h0M519 495h0M529 528h0M501 497h0M481 519h0M452 588h0M518 524h0M478 576h0M518 497h0M469 548h0M519 534h0M526 524h0M441 598h0M510 511h0M504 521h0M516 490h0M495 560h0M519 489h0M473 536h0M470 523h0M483 546h0M491 563h0M517 537h0M534 504h0M509 534h0M450 575h0M474 530h0M469 541h0M511 530h0M449 595h0M476 567h0M452 592h0M452 572h0M529 513h0M486 580h0M478 557h0M537 527h0M461 557h0M522 532h0M491 520h0M526 506h0M467 573h0M496 553h0M463 581h0M454 580h0M470 545h0M476 523h0M512 520h0M462 596h0M485 581h0M488 561h0M511 505h0M496 524h0M499 562h0M464 580h0M469 576h0M462 588h0M476 542h0M463 600h0M439 594h0M516 489h0M468 604h0M525 536h0M489 507h0M464 521h0M438 588h0M445 537h0M527 531h0M493 583h0M541 526h0M433 593h0M479 501h0M435 598h0M507 546h0M439 596h0M479 599h0M475 518h0M438 601h0M446 582h0M453 562h0M434 600h0M441 598h0M468 618h0M482 605h0M471 613h0M531 534h0M507 554h0M491 496h0M460 609h0M440 595h0M504 557h0M461 599h0M610 500h0M611 518h0M622 504h0M596 497h0M621 494h0M636 486h0M612 497h0M598 515h0M600 512h0M623 481h0M621 510h0M613 512h0M615 514h0M597 511h0M629 504h0M620 509h0M627 495h0M600 495h0M634 503h0M630 505h0M592 504h0M631 500h0M267 573h0M217 587h0M205 552h0M299 555h0M291 551h0M226 558h0M207 585h0M215 557h0M248 579h0M292 565h0M282 548h0M304 561h0M254 547h0M246 589h0M294 561h0M290 562h0M268 551h0M218 589h0M214 556h0M216 583h0M268 576h0M274 565h0M238 544h0M254 588h0M234 588h0M272 572h0M292 554h0M279 548h0M284 575h0M285 574h0M223 581h0M299 552h0M290 545h0M272 577h0M285 567h0M251 576h0M215 585h0M248 587h0M280 578h0M286 541h0M259 583h0M280 576h0M292 566h0M219 552h0M233 593h0M257 574h0M258 578h0M292 573h0M295 553h0M243 545h0M281 546h0M227 576h0M249 545h0M313 565h0M201 564h0M290 554h0M255 545h0M204 565h0M823 678h0M833 665h0M815 690h0M813 682h0M783 587h0M816 687h0M779 580h0M815 606h0M830 611h0M788 555h0M786 600h0M828 645h0M796 642h0M808 678h0M815 679h0M794 625h0M803 656h0M795 626h0M817 664h0M806 681h0M796 629h0M829 677h0M802 588h0M797 618h0M781 573h0M821 655h0M794 624h0M814 688h0M788 623h0M789 622h0M792 628h0M830 655h0M774 565h0M818 690h0M800 588h0M787 584h0M828 631h0M822 665h0M798 569h0M819 684h0M816 686h0M821 620h0M809 602h0M792 597h0M807 577h0M789 562h0M800 573h0M105 630h0M112 633h0M125 632h0M123 647h0M93 634h0M95 616h0M117 629h0M120 639h0M117 631h0M102 639h0M72 637h0M102 626h0M128 631h0M82 648h0M111 626h0M132 635h0M75 634h0M74 635h0M110 637h0M106 620h0M89 632h0M105 618h0M101 624h0M118 639h0M126 644h0M92 634h0M120 645h0M100 614h0M110 626h0M124 634h0M89 628h0M99 622h0M93 618h0M116 640h0M129 624h0M76 644h0M112 625h0M81 636h0M642 702h0M647 686h0M584 727h0M632 645h0M572 699h0M639 693h0M683 647h0M596 689h0M565 706h0M588 724h0M611 733h0M589 687h0M633 657h0M624 708h0M628 643h0M680 645h0M593 727h0M577 691h0M682 638h0M666 628h0M670 628h0M681 656h0M667 677h0M627 714h0M652 639h0M685 634h0M677 642h0M678 658h0M635 707h0M602 677h0M566 725h0M665 675h0M661 634h0M688 643h0M682 633h0M561 705h0M682 625h0M612 711h0M581 731h0M563 706h0M683 646h0M678 655h0M658 631h0M655 687h0M634 645h0M662 674h0M674 629h0M642 623h0M673 645h0M565 693h0M637 640h0M566 703h0M639 701h0M585 685h0M567 700h0M663 637h0M652 631h0M680 627h0M606 725h0M610 663h0M626 640h0M611 677h0M599 732h0M651 623h0M574 691h0M668 626h0M667 680h0M670 630h0M622 708h0M631 697h0M598 725h0M607 714h0M596 709h0M581 695h0M598 719h0M571 707h0M570 700h0M601 724h0M609 708h0M607 718h0M577 689h0M577 722h0M585 710h0M600 695h0M571 721h0M593 716h0M581 719h0M593 710h0M585 718h0M589 724h0M572 724h0M594 705h0M600 700h0M570 709h0M608 700h0M591 688h0M582 718h0M584 694h0M572 715h0M587 720h0M581 725h0M579 695h0M610 715h0M612 706h0M591 700h0M586 691h0M572 709h0M570 720h0M599 728h0M568 735h0M589 724h0M580 688h0M453 726h0M455 719h0M452 724h0M452 709h0M460 721h0M436 699h0M434 719h0M437 720h0M442 730h0M450 710h0M434 737h0M455 727h0M430 705h0M439 733h0M424 737h0M439 729h0M455 715h0M439 714h0M427 740h0M447 737h0M433 733h0M435 719h0M454 713h0M449 710h0M453 742h0M454 731h0M445 740h0M453 736h0M233 718h0M304 720h0M308 731h0M287 723h0M308 727h0M314 733h0M295 714h0M297 743h0M242 716h0M292 735h0M305 723h0M302 742h0M295 709h0M293 739h0M252 729h0M283 722h0M229 718h0M283 721h0M269 736h0M274 708h0M284 732h0M269 729h0M285 716h0M239 723h0M264 734h0M259 723h0M311 721h0M255 731h0M248 716h0M320 736h0M300 748h0M264 871h0M267 835h0M275 864h0M267 843h0M275 834h0M277 886h0M282 858h0M297 861h0M239 867h0M287 844h0M280 845h0M271 852h0M244 884h0M246 881h0M240 874h0M278 842h0M268 831h0M248 865h0M249 874h0M297 847h0M235 876h0M238 890h0M240 846h0M552 851h0M556 845h0M544 852h0M543 848h0M540 841h0M611 586h0M368 644h0M356 516h0M605 364h0M367 580h0M375 561h0M467 682h0M550 667h0M484 594h0M606 681h0M477 496h0M458 554h0M603 402h0M432 426h0M448 633h0M385 596h0M585 606h0M387 330h0M377 373h0M432 560h0M580 340h0M607 450h0M378 553h0M499 404h0M476 409h0M544 354h0M550 451h0M352 301h0M412 365h0M551 304h0M465 425h0M513 649h0M531 486h0M406 449h0M546 692h0M614 507h0M640 320h0M621 430h0M394 684h0M450 655h0" stroke="#c3c4c9" stroke-width="3.2" stroke-linecap="round" fill="none"/>
<path d="M825 253h0M838 249h0M857 243h0M852 252h0M843 247h0M832 265h0M864 231h0M835 232h0M625 336h0M679 354h0M706 321h0M661 338h0M666 325h0M736 338h0M687 352h0M691 323h0M677 331h0M723 347h0M627 338h0M723 317h0M691 322h0M732 322h0M733 325h0M650 329h0M671 352h0M690 333h0M668 352h0M724 343h0M624 328h0M687 354h0M649 342h0M645 332h0M633 341h0M656 340h0M628 343h0M730 349h0M734 344h0M709 329h0M715 350h0M735 344h0M637 342h0M708 358h0M682 357h0M681 367h0M654 334h0M740 330h0M716 346h0M627 331h0M663 357h0M697 320h0M704 324h0M739 325h0M660 352h0M634 356h0M627 337h0M702 321h0M716 349h0M632 337h0M707 320h0M633 339h0M651 346h0M619 335h0M687 352h0M619 338h0M701 358h0M726 320h0M728 326h0M407 486h0M399 495h0M395 489h0M400 491h0M405 496h0M408 491h0M388 481h0M399 489h0M404 512h0M387 488h0M410 485h0M414 502h0M416 502h0M407 492h0M404 488h0M407 481h0M400 485h0M419 507h0M395 497h0M390 486h0M411 473h0M412 498h0M415 480h0M401 490h0M471 425h0M463 422h0M474 409h0M507 416h0M525 400h0M474 407h0M527 399h0M514 406h0M503 408h0M463 418h0M492 397h0M514 406h0M517 412h0M498 406h0M504 423h0M474 429h0M469 403h0M731 493h0M746 487h0M728 480h0M744 470h0M757 492h0M747 504h0M761 490h0M738 502h0M727 474h0M463 567h0M451 569h0M480 599h0M454 573h0M480 567h0M449 601h0M455 567h0M458 588h0M492 564h0M500 596h0M462 601h0M452 585h0M462 596h0M466 564h0M461 607h0M478 599h0M473 606h0M474 587h0M463 560h0M454 582h0M487 558h0M458 595h0M505 555h0M480 604h0M475 550h0M500 569h0M480 599h0M493 589h0M465 590h0M507 574h0M493 598h0M481 599h0M480 597h0M503 575h0M446 600h0M490 592h0M483 607h0M467 569h0M456 581h0M461 557h0M495 600h0M470 609h0M497 573h0M485 603h0M460 605h0M464 591h0M490 569h0M480 602h0M475 597h0M460 582h0M568 721h0M508 577h0M530 598h0M576 708h0M545 637h0M497 553h0M546 669h0M495 576h0M511 599h0M528 628h0M563 697h0M539 647h0M513 599h0M496 572h0M500 569h0M510 580h0M520 651h0M564 728h0M573 710h0M559 720h0M503 599h0M499 564h0M534 618h0M546 657h0M519 606h0M569 709h0M580 716h0M577 706h0M515 607h0M566 723h0M515 641h0M490 571h0M532 621h0M515 608h0M511 585h0M558 667h0M532 610h0M550 675h0M518 624h0M508 573h0M566 706h0M507 616h0M502 587h0M517 591h0M495 573h0M499 571h0M523 637h0M521 598h0M509 599h0M541 644h0M489 562h0M518 597h0M575 707h0M500 586h0M492 568h0M563 704h0M792 580h0M816 603h0M790 586h0M795 583h0M808 643h0M785 571h0M808 637h0M821 667h0M804 632h0M802 590h0M815 680h0M804 625h0M267 823h0M302 760h0M299 733h0M299 781h0M297 759h0M293 767h0M273 823h0M304 753h0M299 739h0M275 825h0M295 751h0M281 831h0M284 818h0M302 772h0M300 787h0M277 836h0M303 775h0M277 832h0M275 833h0M299 784h0M279 783h0M291 823h0M275 797h0M272 830h0M276 827h0M286 820h0M300 758h0M302 740h0M283 817h0M296 800h0M274 821h0M283 791h0M277 826h0M278 837h0M272 810h0M283 816h0M295 749h0M303 870h0M304 830h0M280 891h0M297 867h0M284 890h0M270 892h0M258 835h0M300 851h0M298 871h0M241 842h0M287 834h0M292 885h0M284 833h0M291 827h0M222 869h0M298 839h0M291 885h0M245 866h0M237 898h0M254 898h0M272 893h0M277 831h0M285 830h0M263 836h0M292 841h0M285 834h0M307 861h0M274 885h0M233 880h0M298 878h0M296 890h0M232 847h0M228 864h0M240 886h0M264 835h0M237 851h0M242 843h0M233 899h0M291 874h0M228 881h0M277 897h0M247 894h0M264 909h0M267 834h0M256 895h0M260 888h0M270 831h0M242 854h0M244 891h0M289 841h0M297 856h0M232 887h0M288 826h0M257 849h0M258 824h0M246 903h0M228 881h0M235 891h0M236 848h0M254 898h0M288 896h0M303 852h0M293 875h0M234 887h0M296 878h0M281 836h0" stroke="#e0202c" stroke-width="3.2" stroke-linecap="round" fill="none"/>
</g>
<g transform="translate(30,725) scale(0.27108)">
<path d="M400,40C405,32 418,30 430,35C442,40 457,62 470,70C483,78 498,79 510,80C522,81 534,73 545,75C556,77 568,82 575,90C582,98 587,107 590,120C593,133 597,155 595,170C593,185 585,202 580,210C575,218 569,218 565,215C561,212 558,199 555,190C552,181 549,172 545,160C541,148 538,131 530,120C522,109 510,98 500,95C490,92 480,97 470,100C460,103 450,113 440,115C430,117 417,116 410,110C403,104 400,92 398,80C396,68 395,48 400,40Z" fill="#c3c4c9"/>
<path d="M545,80C549,78 566,83 574,90C582,97 588,111 592,124C596,137 598,155 596,170C594,185 587,205 582,212C577,219 569,221 568,214C567,207 576,186 576,172C576,158 574,140 570,128C566,116 556,108 552,100C548,92 541,82 545,80Z" fill="#3b7cc2"/>
<path d="M410,42C413,37 425,35 430,38C435,41 442,54 442,60C442,66 433,73 428,75C423,77 415,76 412,70C409,64 407,47 410,42Z" fill="#3b7cc2"/>
<path d="M210,285C215,279 228,275 240,280C252,285 280,305 285,315C290,325 278,333 270,340C262,347 248,354 240,355C232,356 225,352 220,345C215,338 214,325 212,315C210,305 205,291 210,285Z" fill="#c3c4c9"/>
<path d="M385,290C390,276 408,262 420,258C432,254 448,260 460,265C472,270 480,281 490,290C500,299 508,317 520,320C532,323 547,316 560,310C573,304 587,287 600,285C613,283 628,293 640,300C652,307 670,318 675,325C680,332 678,341 670,345C662,349 645,348 630,350C615,352 597,354 580,355C563,356 542,352 530,355C518,358 512,364 505,370C498,376 492,380 490,390C488,400 498,421 495,430C492,439 481,443 470,445C459,447 439,444 430,440C421,436 413,427 415,420C417,413 431,407 440,400C449,393 466,387 470,380C474,373 473,363 465,360C457,357 432,363 420,360C408,357 396,352 390,340C384,328 380,304 385,290Z" fill="#c3c4c9"/>
<path d="M388,292C393,279 409,264 420,260C431,256 448,259 455,266C462,273 466,288 465,300C464,312 458,331 450,340C442,349 430,355 420,355C410,355 397,348 392,338C387,328 383,305 388,292Z" fill="#c3c4c9"/>
<path d="M598,287C602,284 618,286 630,292C642,298 663,314 668,322C673,330 666,339 660,340C654,341 639,335 630,330C621,325 610,317 605,310C600,303 594,290 598,287Z" fill="#c3c4c9"/>
<path d="M455,420C457,415 473,413 480,415C487,417 497,427 495,432C493,437 477,447 470,445C463,443 453,425 455,420Z" fill="#3b7cc2"/>
<path d="M325,440C328,436 340,426 345,428C350,430 359,449 358,455C357,461 346,462 340,462C334,462 328,459 325,455C322,451 322,444 325,440Z" fill="#3b7cc2"/>
<path d="M600,405C605,405 630,414 640,420C650,426 662,436 662,440C662,444 649,445 640,442C631,439 617,426 610,420C603,414 595,405 600,405Z" fill="#3b7cc2"/>
<path d="M465,530C470,521 497,498 510,485C523,472 533,459 545,455C557,451 571,456 580,460C589,464 597,470 600,480C603,490 605,512 598,520C591,528 573,528 560,530C547,532 533,528 520,530C507,532 489,540 480,540C471,540 460,539 465,530Z" fill="#c3c4c9"/>
<path d="M545,470C552,464 571,462 580,465C589,468 596,482 598,490C600,498 596,509 590,515C584,521 568,528 560,525C552,522 542,509 540,500C538,491 538,476 545,470Z" fill="#c3c4c9"/>
<path d="M50,470C56,461 72,451 80,445C88,439 96,431 100,435C104,439 102,459 105,470C108,481 121,490 120,500C119,510 107,524 100,530C93,536 88,536 80,535C72,534 61,531 55,525C49,519 46,509 45,500C44,491 44,479 50,470Z" fill="#c3c4c9"/>
<path d="M48,495C51,489 71,488 80,490C89,492 98,498 100,505C102,512 102,527 95,530C88,533 68,531 60,525C52,519 45,501 48,495Z" fill="#c3c4c9"/>
<path d="M100,525C102,522 106,521 112,528C118,535 129,553 135,565C141,577 149,593 150,600C151,607 145,609 140,605C135,601 128,585 122,575C116,565 106,553 102,545C98,537 98,528 100,525Z" fill="#3b7cc2"/>
<path d="M130,590C137,584 158,580 170,580C182,580 197,584 205,590C213,596 218,607 220,615C222,623 222,635 215,640C208,645 192,645 180,645C168,645 153,645 145,640C137,635 132,623 130,615C128,607 123,596 130,590Z" fill="#c3c4c9"/>
<path d="M148,595C152,590 166,586 172,590C178,594 183,613 182,620C181,627 170,630 165,630C160,630 153,624 150,618C147,612 144,600 148,595Z" fill="#e0202c"/>
<path d="M850,440C858,429 878,404 890,400C902,396 909,406 920,415C931,424 951,445 955,455C959,465 953,471 945,475C937,479 916,476 905,478C894,480 888,483 880,490C872,497 868,508 860,520C852,532 840,558 835,565C830,572 828,569 830,560C832,551 844,523 850,510C856,497 866,488 865,480C864,472 848,472 845,465C842,458 842,451 850,440Z" fill="#e0202c"/>
<path d="M850,440C856,434 873,425 880,428C887,431 892,452 890,460C888,468 872,474 865,475C858,476 848,471 845,465C842,459 844,446 850,440Z" fill="#c3c4c9"/>
<path d="M715,655C722,652 745,652 760,650C775,648 798,638 805,645C812,652 805,679 800,690C795,701 784,711 775,712C766,713 754,702 745,695C736,688 725,677 720,670C715,663 708,658 715,655Z" fill="#3b7cc2"/>
<path d="M305,545C307,542 316,538 320,540C324,542 332,552 330,555C328,558 314,562 310,560C306,558 303,548 305,545Z" fill="#3b7cc2"/>
<path d="M530,550C532,546 542,545 545,548C548,551 552,566 550,570C548,574 538,578 535,575C532,572 528,554 530,550Z" fill="#3b7cc2"/>
<path d="M515,580C517,580 511,593 508,600C505,607 502,617 496,622C490,627 473,629 470,628C467,627 472,619 476,614C480,609 488,606 494,600C500,594 513,580 515,580Z" fill="#e0202c"/>
<path d="M448,658C450,654 459,652 462,654C465,656 469,666 467,670C465,674 455,678 452,676C449,674 446,662 448,658Z" fill="#e0202c"/>
<path d="M440,700C443,695 454,691 460,692C466,693 476,699 478,705C480,711 474,725 470,730C466,735 456,738 452,736C448,734 446,726 444,720C442,714 437,705 440,700Z" fill="#e0202c"/>
<path d="M495,698C499,696 512,698 520,700C528,702 537,705 540,708C543,711 541,717 536,718C531,719 519,717 512,716C505,715 499,715 496,712C493,709 491,700 495,698Z" fill="#e0202c"/>
<path d="M335,740C341,733 358,727 370,725C382,723 400,726 410,730C420,734 428,742 430,750C432,758 428,773 420,780C412,787 397,789 385,790C373,791 358,789 350,785C342,781 338,772 335,765C332,758 329,747 335,740Z" fill="#e0202c"/>
<path d="M500,665C508,656 545,659 560,660C575,661 583,663 590,670C597,677 600,690 600,700C600,710 592,718 590,730C588,742 593,762 590,770C587,778 578,779 570,780C562,781 551,782 545,775C539,768 541,750 535,740C529,730 516,728 510,715C504,702 492,674 500,665Z" fill="#c3c4c9"/>
<path d="M448,930C449,925 459,923 462,922C465,921 468,922 468,926C468,930 464,942 462,946C460,950 458,953 456,950C454,947 447,935 448,930Z" fill="#3b7cc2"/>
<path d="M548 151h0M447 81h0M575 191h0M449 67h0M423 75h0M436 104h0M507 98h0M424 45h0M429 37h0M587 124h0M399 70h0M547 125h0M583 151h0M535 127h0M507 80h0M587 149h0M564 206h0M557 101h0M544 139h0M436 71h0M455 71h0M402 89h0M549 108h0M425 49h0M423 86h0M507 94h0M535 82h0M546 154h0M544 86h0M566 148h0M568 163h0M578 133h0M580 129h0M539 144h0M464 71h0M588 141h0M546 101h0M581 155h0M433 43h0M563 124h0M555 181h0M535 103h0M401 62h0M567 194h0M563 134h0M425 95h0M410 46h0M572 172h0M407 50h0M448 104h0M537 88h0M445 78h0M431 94h0M555 149h0M449 57h0M538 142h0M450 59h0M565 104h0M567 114h0M584 168h0M518 105h0M578 204h0M451 100h0M488 92h0M584 190h0M563 191h0M546 151h0M430 90h0M538 138h0M565 127h0M534 105h0M400 52h0M564 150h0M545 144h0M570 89h0M538 83h0M435 72h0M417 100h0M571 95h0M557 174h0M539 87h0M574 202h0M588 135h0M481 91h0M408 103h0M586 156h0M555 154h0M441 93h0M556 135h0M404 49h0M514 84h0M566 176h0M585 182h0M420 70h0M565 103h0M421 43h0M572 191h0M586 126h0M549 104h0M427 79h0M408 100h0M593 169h0M587 122h0M550 79h0M404 77h0M583 177h0M574 109h0M590 115h0M493 97h0M404 113h0M429 42h0M596 172h0M570 179h0M595 125h0M547 79h0M563 99h0M591 194h0M549 77h0M565 91h0M569 216h0M556 112h0M556 99h0M576 203h0M572 90h0M571 129h0M584 111h0M553 98h0M591 169h0M592 195h0M557 100h0M590 182h0M589 199h0M577 139h0M579 132h0M563 103h0M534 82h0M550 85h0M554 103h0M594 108h0M565 113h0M595 184h0M593 145h0M566 163h0M566 188h0M576 92h0M574 86h0M551 88h0M578 108h0M564 212h0M561 109h0M586 120h0M569 134h0M562 86h0M562 200h0M571 126h0M581 116h0M573 83h0M573 213h0M578 104h0M586 121h0M570 210h0M567 125h0M579 101h0M550 73h0M573 192h0M550 84h0M569 218h0M595 157h0M416 73h0M430 68h0M421 76h0M411 42h0M429 39h0M448 76h0M416 36h0M422 64h0M428 69h0M438 38h0M421 33h0M444 51h0M422 75h0M433 51h0M421 38h0M407 64h0M428 70h0M420 74h0M421 45h0M432 38h0M415 38h0M423 40h0M440 58h0M408 63h0M427 39h0M423 27h0M235 308h0M239 330h0M251 324h0M255 335h0M249 341h0M268 321h0M250 345h0M233 298h0M236 282h0M218 328h0M227 328h0M220 312h0M228 338h0M230 298h0M233 293h0M225 311h0M231 338h0M243 306h0M241 306h0M244 303h0M231 345h0M238 299h0M215 300h0M261 328h0M260 338h0M264 323h0M273 308h0M258 326h0M237 292h0M272 322h0M246 326h0M279 312h0M227 306h0M234 308h0M216 296h0M255 309h0M240 330h0M262 311h0M212 296h0M221 339h0M254 291h0M277 318h0M255 344h0M229 359h0M226 356h0M248 355h0M218 342h0M265 287h0M433 286h0M645 346h0M480 349h0M459 334h0M455 327h0M404 285h0M485 325h0M587 353h0M399 313h0M439 428h0M448 412h0M468 328h0M420 285h0M516 348h0M577 355h0M549 335h0M446 407h0M573 313h0M452 348h0M551 328h0M553 335h0M600 292h0M591 294h0M415 333h0M497 346h0M457 291h0M597 343h0M467 351h0M550 337h0M503 334h0M464 296h0M414 298h0M474 399h0M445 426h0M455 439h0M639 345h0M456 354h0M472 363h0M583 306h0M465 273h0M415 265h0M409 326h0M496 300h0M402 342h0M418 330h0M491 349h0M475 397h0M456 425h0M564 318h0M479 402h0M471 301h0M614 325h0M510 349h0M656 335h0M534 352h0M519 327h0M449 349h0M448 320h0M472 324h0M486 434h0M446 412h0M465 354h0M452 433h0M661 342h0M427 263h0M452 278h0M486 392h0M428 291h0M496 341h0M513 313h0M548 325h0M397 307h0M598 350h0M430 306h0M457 351h0M459 348h0M497 302h0M441 422h0M426 272h0M443 424h0M435 417h0M460 306h0M491 314h0M473 418h0M410 343h0M631 345h0M398 330h0M401 299h0M561 327h0M432 295h0M393 291h0M462 268h0M437 329h0M601 329h0M448 402h0M555 321h0M470 396h0M410 294h0M444 312h0M427 312h0M460 418h0M522 330h0M475 320h0M469 390h0M562 334h0M451 417h0M628 304h0M562 330h0M494 341h0M477 381h0M535 354h0M641 331h0M619 293h0M457 308h0M464 289h0M425 426h0M435 280h0M467 279h0M611 346h0M477 288h0M480 305h0M649 330h0M662 323h0M486 414h0M559 342h0M553 327h0M425 323h0M443 424h0M546 318h0M407 293h0M430 267h0M460 283h0M598 351h0M464 304h0M600 292h0M667 326h0M595 325h0M451 328h0M430 262h0M460 426h0M475 314h0M512 365h0M455 356h0M426 350h0M600 306h0M499 314h0M608 288h0M410 353h0M462 294h0M521 332h0M433 325h0M406 304h0M482 397h0M664 320h0M512 316h0M399 287h0M472 283h0M423 305h0M445 438h0M395 290h0M475 308h0M565 336h0M532 341h0M399 284h0M576 327h0M440 408h0M418 263h0M432 305h0M629 324h0M612 331h0M464 416h0M522 332h0M635 320h0M459 338h0M481 375h0M638 314h0M628 348h0M585 313h0M479 418h0M475 399h0M476 427h0M400 298h0M624 323h0M431 270h0M442 282h0M617 330h0M515 319h0M578 347h0M483 329h0M429 288h0M453 282h0M583 319h0M411 288h0M405 345h0M491 399h0M486 442h0M509 367h0M452 255h0M434 413h0M427 437h0M480 431h0M466 386h0M532 351h0M627 355h0M456 254h0M454 367h0M614 352h0M531 358h0M596 358h0M635 347h0M519 311h0M395 272h0M642 353h0M430 266h0M446 294h0M427 326h0M425 279h0M459 300h0M413 281h0M427 352h0M408 331h0M444 267h0M418 346h0M410 323h0M438 345h0M392 310h0M429 303h0M410 331h0M425 344h0M449 306h0M428 319h0M437 321h0M452 280h0M402 299h0M406 284h0M436 277h0M434 314h0M416 285h0M442 272h0M462 293h0M407 305h0M457 280h0M417 294h0M410 323h0M392 298h0M410 331h0M413 277h0M431 334h0M433 302h0M391 290h0M438 265h0M423 299h0M421 289h0M428 326h0M419 314h0M444 329h0M424 322h0M406 326h0M420 296h0M434 340h0M448 339h0M425 318h0M422 327h0M413 329h0M419 300h0M427 315h0M425 338h0M411 289h0M457 312h0M427 276h0M405 327h0M435 341h0M413 336h0M410 338h0M461 299h0M435 320h0M424 323h0M418 340h0M418 285h0M428 281h0M445 290h0M410 309h0M394 329h0M415 297h0M446 336h0M440 275h0M398 289h0M390 309h0M444 275h0M413 291h0M396 336h0M419 320h0M414 320h0M449 280h0M418 342h0M396 327h0M410 274h0M415 269h0M397 293h0M440 269h0M437 334h0M456 311h0M406 325h0M405 324h0M408 289h0M429 345h0M434 340h0M403 301h0M447 301h0M441 295h0M400 302h0M426 339h0M397 284h0M402 325h0M431 283h0M401 333h0M426 341h0M432 347h0M444 310h0M434 319h0M434 309h0M449 324h0M425 305h0M396 320h0M452 323h0M430 262h0M422 333h0M412 278h0M439 269h0M430 320h0M449 295h0M433 278h0M430 329h0M425 317h0M437 339h0M421 312h0M438 268h0M442 264h0M433 297h0M446 273h0M405 345h0M434 294h0M433 299h0M447 330h0M424 271h0M437 293h0M438 295h0M405 285h0M437 308h0M447 325h0M391 312h0M415 270h0M395 296h0M408 342h0M406 295h0M428 283h0M389 298h0M456 307h0M390 291h0M393 310h0M414 317h0M402 294h0M430 348h0M451 336h0M426 264h0M424 285h0M410 330h0M447 325h0M420 328h0M408 318h0M429 297h0M458 294h0M461 294h0M399 322h0M453 286h0M451 300h0M429 282h0M396 306h0M434 281h0M460 311h0M455 296h0M455 313h0M447 279h0M441 270h0M417 271h0M409 302h0M446 276h0M442 274h0M412 323h0M428 298h0M408 330h0M458 317h0M435 292h0M413 294h0M430 349h0M432 274h0M448 310h0M392 311h0M410 294h0M409 326h0M411 307h0M431 306h0M457 290h0M458 302h0M445 333h0M463 303h0M425 300h0M422 265h0M413 341h0M452 279h0M460 292h0M392 326h0M439 328h0M430 337h0M435 266h0M448 298h0M447 286h0M416 280h0M442 302h0M393 303h0M423 285h0M392 292h0M407 302h0M415 343h0M434 316h0M416 317h0M395 339h0M393 334h0M433 313h0M414 302h0M425 324h0M422 303h0M394 292h0M446 266h0M419 340h0M433 274h0M446 315h0M401 310h0M430 310h0M400 342h0M451 325h0M416 290h0M431 275h0M426 290h0M452 297h0M411 334h0M450 301h0M392 300h0M448 320h0M439 276h0M400 341h0M410 296h0M414 319h0M431 264h0M392 318h0M424 279h0M428 339h0M456 278h0M418 295h0M407 281h0M428 284h0M445 302h0M454 272h0M439 324h0M437 344h0M449 307h0M397 333h0M414 293h0M430 320h0M424 316h0M443 304h0M396 305h0M436 285h0M408 277h0M442 330h0M441 297h0M400 289h0M435 320h0M415 290h0M410 347h0M438 286h0M405 298h0M398 329h0M431 324h0M443 329h0M410 281h0M434 282h0M438 297h0M395 311h0M412 307h0M398 290h0M432 327h0M420 267h0M423 291h0M421 276h0M446 287h0M433 345h0M450 305h0M439 270h0M418 306h0M437 327h0M434 340h0M448 322h0M447 269h0M396 323h0M453 267h0M407 341h0M417 273h0M431 263h0M415 283h0M398 304h0M430 327h0M417 338h0M411 321h0M453 279h0M408 326h0M433 346h0M414 309h0M434 342h0M424 305h0M420 288h0M447 283h0M390 309h0M462 300h0M442 336h0M393 323h0M438 287h0M450 280h0M416 329h0M440 277h0M453 301h0M401 338h0M442 336h0M423 268h0M455 290h0M407 262h0M460 274h0M459 271h0M412 274h0M418 355h0M428 348h0M456 316h0M414 263h0M432 354h0M426 261h0M385 311h0M453 281h0M466 304h0M379 310h0M389 311h0M450 262h0M451 256h0M475 291h0M453 331h0M425 258h0M426 363h0M422 264h0M466 303h0M453 335h0M388 329h0M391 320h0M467 283h0M458 331h0M619 296h0M642 332h0M616 307h0M652 324h0M633 296h0M635 298h0M637 302h0M659 319h0M632 312h0M647 307h0M645 317h0M642 322h0M632 294h0M653 323h0M647 306h0M661 327h0M634 300h0M629 325h0M621 314h0M633 313h0M630 321h0M634 305h0M639 316h0M641 332h0M651 320h0M629 293h0M626 305h0M657 325h0M654 334h0M631 308h0M643 309h0M639 312h0M620 319h0M617 301h0M600 290h0M627 306h0M609 302h0M638 303h0M650 336h0M637 331h0M609 306h0M616 312h0M658 320h0M618 301h0M617 318h0M636 329h0M629 327h0M657 337h0M643 329h0M623 307h0M656 338h0M613 299h0M643 329h0M612 307h0M644 325h0M641 314h0M634 317h0M634 315h0M643 317h0M636 297h0M616 305h0M651 326h0M635 306h0M660 335h0M604 302h0M626 319h0M656 325h0M605 296h0M631 311h0M647 311h0M649 320h0M663 322h0M639 336h0M669 340h0M668 319h0M610 310h0M615 322h0M662 324h0M613 289h0M644 337h0M628 282h0M673 331h0M664 330h0M663 341h0M653 315h0M652 306h0M502 424h0M461 414h0M461 452h0M484 441h0M497 422h0M484 438h0M466 428h0M477 416h0M488 426h0M479 419h0M475 414h0M466 437h0M491 434h0M454 427h0M470 437h0M498 434h0M488 421h0M473 436h0M478 409h0M492 415h0M498 424h0M479 434h0M475 414h0M480 417h0M329 449h0M346 465h0M350 452h0M337 457h0M317 442h0M323 455h0M351 460h0M327 442h0M339 460h0M348 466h0M327 443h0M343 456h0M347 435h0M352 443h0M320 449h0M348 455h0M329 431h0M338 454h0M354 438h0M335 451h0M334 425h0M347 444h0M319 456h0M325 455h0M350 457h0M337 429h0M354 454h0M324 441h0M639 434h0M612 421h0M627 435h0M656 428h0M628 428h0M624 438h0M655 431h0M638 422h0M606 410h0M642 435h0M658 441h0M653 434h0M613 398h0M617 406h0M601 413h0M620 417h0M646 445h0M593 416h0M620 433h0M659 443h0M611 416h0M620 429h0M598 410h0M605 411h0M611 413h0M598 408h0M601 397h0M602 404h0M648 436h0M586 499h0M552 467h0M507 511h0M520 523h0M529 481h0M541 470h0M543 482h0M515 503h0M540 497h0M560 464h0M518 527h0M554 517h0M577 478h0M575 476h0M517 480h0M523 482h0M515 496h0M577 467h0M479 537h0M550 505h0M521 506h0M495 534h0M576 489h0M563 472h0M593 519h0M555 502h0M490 536h0M524 477h0M501 528h0M549 511h0M526 509h0M560 523h0M517 490h0M556 463h0M520 507h0M583 476h0M502 493h0M534 526h0M512 529h0M535 512h0M582 484h0M560 458h0M504 512h0M588 507h0M506 521h0M526 524h0M536 470h0M498 519h0M593 493h0M546 502h0M528 503h0M575 500h0M491 507h0M523 477h0M571 526h0M554 504h0M575 519h0M573 474h0M576 511h0M545 496h0M510 492h0M529 471h0M557 522h0M501 528h0M495 536h0M598 509h0M582 463h0M571 461h0M535 542h0M601 460h0M583 505h0M547 486h0M552 508h0M570 470h0M545 506h0M574 484h0M568 518h0M584 511h0M582 511h0M551 491h0M594 501h0M584 477h0M585 472h0M558 516h0M558 493h0M592 500h0M581 494h0M576 497h0M557 501h0M573 502h0M591 483h0M550 501h0M558 476h0M566 497h0M585 492h0M571 499h0M578 510h0M592 507h0M557 515h0M579 471h0M579 516h0M590 503h0M579 508h0M568 519h0M548 495h0M559 483h0M581 494h0M589 490h0M560 474h0M589 508h0M577 500h0M593 497h0M560 494h0M552 470h0M574 489h0M572 485h0M575 488h0M592 485h0M558 506h0M587 509h0M556 504h0M565 477h0M560 504h0M551 499h0M551 476h0M579 507h0M554 497h0M585 476h0M557 499h0M569 485h0M550 504h0M594 494h0M560 491h0M586 498h0M572 468h0M587 496h0M567 490h0M568 471h0M560 524h0M574 479h0M550 476h0M582 505h0M595 486h0M594 489h0M561 469h0M580 494h0M555 484h0M543 490h0M579 515h0M569 478h0M556 490h0M564 493h0M545 499h0M560 510h0M580 503h0M550 483h0M571 505h0M578 467h0M576 504h0M585 512h0M560 524h0M578 466h0M562 473h0M583 476h0M558 519h0M550 499h0M557 500h0M559 495h0M568 521h0M561 479h0M583 470h0M557 493h0M573 489h0M570 489h0M547 498h0M561 494h0M552 482h0M547 488h0M552 513h0M566 468h0M572 513h0M563 496h0M568 474h0M595 494h0M586 482h0M559 514h0M575 501h0M584 496h0M573 508h0M569 500h0M559 507h0M582 509h0M544 478h0M574 527h0M590 478h0M590 480h0M589 478h0M597 486h0M586 509h0M590 485h0M543 483h0M589 515h0M548 504h0M558 476h0M591 475h0M550 507h0M595 511h0M581 472h0M541 500h0M580 531h0M88 511h0M87 532h0M60 464h0M109 503h0M84 534h0M58 522h0M62 471h0M52 475h0M99 504h0M80 466h0M92 502h0M112 499h0M91 486h0M102 454h0M93 486h0M67 509h0M70 526h0M58 497h0M80 482h0M98 440h0M98 467h0M81 493h0M78 524h0M57 480h0M78 499h0M71 482h0M84 521h0M59 509h0M104 509h0M92 454h0M85 509h0M88 512h0M70 455h0M88 503h0M87 466h0M75 457h0M57 486h0M105 512h0M49 490h0M70 479h0M96 514h0M104 511h0M75 530h0M55 508h0M61 453h0M101 438h0M94 530h0M106 501h0M87 524h0M75 526h0M82 516h0M90 511h0M75 514h0M69 518h0M94 505h0M71 495h0M92 520h0M92 509h0M93 501h0M96 507h0M95 501h0M80 507h0M85 521h0M84 504h0M90 514h0M54 499h0M91 523h0M57 502h0M73 524h0M66 522h0M85 497h0M90 512h0M57 501h0M59 521h0M56 497h0M96 525h0M58 518h0M69 523h0M74 505h0M59 507h0M80 502h0M61 523h0M93 524h0M84 524h0M60 511h0M89 526h0M69 507h0M82 522h0M51 499h0M72 493h0M74 511h0M84 501h0M74 523h0M61 519h0M76 504h0M58 494h0M86 520h0M90 515h0M68 501h0M64 525h0M62 521h0M67 524h0M83 523h0M70 503h0M78 510h0M74 499h0M80 501h0M95 516h0M78 506h0M71 503h0M60 519h0M90 518h0M71 523h0M91 517h0M68 493h0M80 494h0M56 511h0M64 507h0M65 495h0M75 504h0M81 514h0M87 504h0M61 517h0M86 495h0M83 516h0M85 509h0M99 509h0M80 507h0M82 487h0M70 525h0M97 510h0M93 512h0M76 490h0M87 499h0M66 484h0M90 498h0M62 499h0M56 500h0M89 491h0M103 499h0M102 523h0M54 528h0M57 528h0M93 497h0M51 505h0M94 505h0M55 489h0M59 506h0M111 521h0M136 573h0M114 565h0M112 511h0M133 606h0M147 584h0M98 529h0M144 606h0M123 540h0M129 586h0M107 525h0M105 525h0M133 602h0M117 534h0M137 599h0M100 537h0M132 588h0M97 524h0M109 517h0M118 574h0M108 530h0M139 599h0M143 602h0M132 585h0M138 613h0M91 539h0M144 564h0M103 546h0M97 531h0M119 565h0M137 611h0M99 537h0M194 619h0M197 605h0M185 586h0M200 617h0M146 622h0M169 596h0M208 597h0M215 624h0M208 638h0M151 600h0M131 613h0M183 608h0M172 634h0M188 585h0M143 597h0M212 623h0M163 596h0M157 618h0M163 606h0M132 590h0M185 618h0M155 631h0M147 590h0M183 620h0M164 641h0M158 638h0M182 633h0M168 587h0M207 607h0M163 599h0M152 623h0M207 637h0M208 616h0M164 593h0M156 636h0M159 628h0M183 607h0M188 592h0M184 632h0M155 588h0M147 587h0M138 607h0M123 613h0M210 594h0M188 641h0M185 583h0M186 654h0M171 645h0M147 588h0M142 634h0M158 601h0M172 624h0M156 601h0M164 607h0M152 614h0M163 627h0M167 598h0M166 617h0M164 612h0M173 595h0M179 614h0M178 609h0M167 627h0M160 616h0M165 608h0M159 600h0M153 605h0M164 617h0M161 606h0M161 624h0M162 615h0M161 600h0M157 604h0M156 613h0M164 615h0M156 604h0M164 616h0M171 623h0M165 596h0M172 605h0M156 596h0M145 598h0M151 592h0M175 611h0M195 624h0M160 597h0M156 614h0M152 623h0M735 655h0M767 635h0M803 696h0M730 679h0M746 654h0M718 656h0M804 697h0M779 713h0M794 654h0M726 683h0M792 645h0M808 659h0M720 676h0M799 651h0M737 690h0M713 663h0M720 674h0M777 647h0M780 655h0M741 645h0M735 665h0M717 656h0M810 640h0M774 712h0M763 707h0M719 652h0M714 667h0M712 662h0M799 671h0M704 663h0M796 691h0M740 693h0M730 644h0M779 635h0M790 697h0M780 707h0M806 684h0M812 679h0M801 663h0M808 651h0M731 690h0M803 698h0M721 684h0M755 701h0M744 703h0M709 658h0M760 651h0M747 690h0M718 665h0M796 667h0M713 658h0M711 671h0M731 650h0M743 684h0M782 709h0M749 691h0M797 667h0M736 646h0M787 699h0M762 698h0M798 674h0M753 697h0M727 659h0M302 542h0M314 556h0M328 550h0M313 544h0M319 535h0M326 552h0M304 549h0M323 539h0M339 553h0M325 545h0M315 558h0M314 538h0M307 547h0M311 534h0M323 536h0M319 556h0M323 558h0M311 545h0M316 547h0M301 559h0M549 565h0M525 547h0M543 573h0M534 549h0M532 554h0M532 580h0M535 578h0M524 567h0M529 543h0M535 582h0M532 555h0M541 583h0M543 567h0M519 565h0M531 531h0M533 541h0M538 549h0M538 567h0M550 556h0M540 574h0M544 549h0M530 551h0M553 547h0M337 740h0M424 754h0M344 742h0M375 736h0M369 771h0M410 774h0M375 734h0M400 756h0M356 763h0M404 778h0M421 755h0M383 766h0M405 746h0M386 740h0M343 761h0M404 779h0M392 746h0M340 755h0M383 771h0M385 738h0M349 745h0M383 768h0M360 735h0M374 749h0M405 744h0M371 731h0M410 730h0M372 769h0M399 782h0M357 782h0M362 754h0M393 729h0M412 739h0M368 777h0M371 768h0M350 738h0M372 747h0M341 750h0M353 737h0M424 749h0M413 779h0M390 776h0M414 774h0M396 780h0M405 779h0M390 743h0M367 776h0M395 734h0M376 744h0M341 740h0M376 741h0M395 786h0M343 775h0M355 776h0M390 734h0M383 784h0M394 754h0M344 742h0M385 763h0M394 755h0M410 745h0M393 780h0M367 780h0M375 749h0M409 781h0M387 757h0M352 755h0M391 768h0M415 765h0M395 770h0M383 753h0M354 778h0M384 748h0M363 764h0M398 783h0M412 737h0M391 728h0M407 749h0M377 756h0M411 780h0M405 741h0M367 728h0M398 741h0M404 756h0M354 737h0M357 750h0M387 768h0M362 738h0M357 774h0M351 745h0M397 781h0M345 736h0M389 757h0M378 767h0M420 767h0M360 746h0M364 733h0M428 757h0M382 779h0M386 789h0M343 747h0M350 740h0M395 754h0M408 740h0M336 740h0M361 732h0M423 763h0M343 742h0M381 721h0M382 725h0M573 732h0M586 677h0M589 745h0M552 702h0M573 771h0M521 687h0M581 735h0M550 739h0M537 716h0M549 666h0M552 674h0M589 704h0M543 746h0M557 700h0M588 743h0M586 715h0M514 665h0M559 717h0M519 695h0M563 732h0M594 701h0M578 730h0M568 729h0M506 676h0M575 753h0M502 669h0M525 664h0M543 702h0M541 678h0M579 701h0M581 682h0M563 757h0M533 699h0M531 716h0M558 699h0M590 694h0M563 667h0M532 702h0M573 669h0M572 726h0M584 757h0M585 711h0M554 711h0M580 720h0M557 705h0M556 717h0M598 704h0M547 774h0M573 699h0M586 741h0M549 773h0M554 670h0M525 683h0M517 676h0M559 709h0M555 665h0M579 724h0M534 709h0M573 762h0M591 675h0M525 674h0M539 739h0M547 666h0M571 732h0M556 686h0M565 735h0M561 727h0M552 725h0M522 670h0M525 725h0M566 693h0M565 714h0M515 673h0M576 688h0M568 716h0M552 766h0M550 662h0M539 727h0M547 662h0M540 703h0M588 672h0M556 700h0M543 673h0M568 751h0M540 742h0M558 755h0M558 699h0M554 757h0M570 716h0M511 699h0M530 685h0M536 737h0M560 722h0M574 677h0M572 671h0M590 693h0M519 695h0M511 672h0M547 699h0M573 719h0M570 708h0M530 711h0M585 687h0M579 684h0M586 688h0M576 746h0M552 719h0M523 680h0M549 687h0M556 689h0M574 726h0M530 702h0M514 684h0M532 689h0M574 708h0M578 703h0M578 729h0M577 695h0M566 702h0M539 673h0M569 777h0M568 754h0M566 681h0M569 718h0M550 742h0M528 687h0M550 761h0M509 671h0M590 685h0M572 666h0M590 715h0M542 766h0M546 752h0M536 698h0M593 684h0M535 742h0M588 774h0M524 735h0M583 667h0M572 775h0M568 667h0M528 737h0M599 746h0M583 723h0M504 690h0M602 709h0M511 722h0M565 777h0M601 695h0M513 724h0M583 777h0M451 929h0M448 947h0M452 936h0M458 925h0M461 946h0M466 930h0M466 932h0M454 942h0M452 937h0M433 925h0M472 926h0M458 951h0M462 944h0" stroke="#3b7cc2" stroke-width="3.4" stroke-linecap="round" fill="none"/>
<path d="M498 94h0M569 211h0M544 143h0M545 78h0M410 103h0M414 103h0M470 89h0M406 101h0M394 67h0M586 179h0M410 45h0M585 120h0M530 144h0M540 163h0M551 178h0M458 114h0M559 195h0M457 63h0M563 202h0M518 116h0M556 95h0M417 109h0M536 176h0M589 105h0M570 214h0M464 106h0M537 134h0M405 40h0M577 81h0M409 43h0M397 72h0M548 190h0M477 92h0M452 109h0M576 96h0M408 85h0M539 135h0M598 178h0M594 179h0M414 94h0M584 106h0M572 218h0M575 215h0M427 39h0M563 206h0M590 126h0M570 219h0M460 58h0M397 91h0M409 40h0M513 75h0M406 38h0M405 34h0M554 80h0M569 213h0M407 108h0M510 111h0M417 42h0M587 121h0M401 58h0M424 40h0M549 86h0M590 185h0M394 56h0M592 148h0M558 210h0M496 103h0M533 148h0M421 47h0M437 41h0M489 67h0M584 118h0M519 116h0M549 78h0M587 201h0M594 183h0M546 142h0M475 77h0M396 54h0M593 183h0M461 111h0M430 116h0M446 52h0M579 97h0M410 98h0M569 210h0M425 118h0M530 80h0M485 101h0M579 102h0M586 182h0M567 218h0M462 108h0M560 189h0M410 86h0M393 54h0M401 59h0M399 71h0M496 96h0M409 93h0M575 80h0M554 199h0M599 143h0M567 218h0M552 160h0M503 83h0M577 205h0M566 209h0M572 218h0M494 78h0M439 118h0M539 151h0M525 130h0M469 100h0M556 211h0M514 84h0M558 193h0M436 42h0M423 129h0M588 187h0M591 119h0M543 160h0M565 193h0M572 96h0M411 113h0M585 134h0M578 154h0M573 192h0M588 134h0M586 195h0M561 93h0M556 84h0M582 106h0M583 143h0M575 182h0M586 193h0M580 128h0M579 128h0M588 173h0M579 183h0M591 129h0M590 123h0M559 106h0M579 207h0M592 156h0M586 122h0M560 91h0M579 157h0M574 111h0M569 90h0M578 110h0M566 108h0M582 172h0M573 94h0M587 144h0M588 171h0M585 183h0M579 190h0M590 157h0M553 94h0M588 187h0M577 161h0M566 109h0M584 143h0M567 102h0M582 119h0M584 198h0M575 102h0M575 191h0M578 221h0M574 147h0M593 146h0M594 188h0M573 181h0M428 72h0M412 64h0M419 70h0M431 70h0M421 66h0M416 54h0M431 54h0M431 68h0M427 41h0M424 53h0M418 54h0M416 66h0M417 66h0M418 64h0M425 44h0M426 73h0M414 64h0M415 50h0M419 59h0M432 60h0M438 61h0M432 56h0M435 48h0M411 50h0M433 60h0M433 54h0M427 60h0M425 67h0M419 55h0M422 41h0M433 46h0M424 74h0M436 77h0M422 68h0M418 52h0M213 280h0M286 315h0M220 333h0M275 315h0M224 284h0M284 316h0M259 306h0M267 347h0M221 279h0M260 296h0M225 352h0M227 354h0M257 346h0M222 278h0M233 355h0M285 314h0M218 289h0M228 348h0M262 343h0M217 339h0M230 347h0M240 349h0M227 345h0M218 289h0M268 308h0M230 361h0M284 319h0M228 277h0M221 351h0M281 329h0M252 283h0M212 298h0M221 286h0M278 313h0M261 353h0M234 276h0M272 333h0M221 275h0M209 288h0M214 299h0M213 286h0M226 353h0M205 331h0M232 348h0M212 287h0M281 332h0M236 284h0M229 320h0M263 343h0M234 349h0M258 346h0M206 340h0M265 338h0M246 352h0M227 349h0M252 347h0M231 348h0M218 345h0M249 358h0M202 294h0M268 293h0M207 321h0M218 339h0M220 314h0M268 312h0M447 444h0M480 274h0M488 413h0M407 267h0M671 333h0M676 319h0M505 367h0M649 312h0M420 262h0M479 435h0M503 299h0M393 351h0M481 443h0M550 325h0M501 440h0M397 345h0M486 402h0M492 377h0M574 298h0M472 453h0M444 261h0M424 436h0M499 307h0M539 311h0M419 255h0M413 441h0M562 313h0M631 299h0M662 342h0M634 357h0M386 328h0M603 283h0M529 362h0M399 280h0M642 304h0M452 447h0M541 358h0M643 349h0M630 365h0M464 265h0M592 354h0M663 344h0M465 262h0M396 290h0M492 428h0M452 361h0M445 453h0M400 277h0M496 366h0M491 381h0M390 274h0M388 342h0M389 326h0M610 290h0M422 420h0M555 305h0M454 383h0M615 352h0M398 275h0M558 309h0M435 444h0M550 355h0M425 360h0M507 371h0M550 317h0M430 438h0M416 263h0M440 395h0M388 341h0M566 311h0M425 262h0M529 346h0M490 428h0M425 363h0M532 363h0M414 421h0M489 380h0M405 345h0M559 362h0M487 433h0M643 301h0M480 394h0M527 317h0M609 291h0M627 294h0M452 259h0M488 395h0M541 353h0M536 355h0M433 430h0M434 412h0M666 318h0M504 368h0M514 357h0M518 325h0M611 356h0M451 440h0M488 434h0M500 306h0M514 314h0M670 319h0M498 431h0M415 361h0M564 306h0M677 330h0M567 305h0M640 294h0M407 344h0M456 267h0M501 397h0M657 305h0M434 433h0M476 432h0M530 345h0M496 391h0M606 293h0M441 389h0M491 374h0M436 263h0M457 257h0M502 365h0M525 319h0M491 429h0M401 285h0M568 357h0M648 345h0M491 388h0M600 297h0M406 269h0M534 363h0M483 435h0M430 437h0M451 352h0M403 271h0M572 359h0M403 359h0M485 393h0M613 355h0M460 350h0M616 347h0M424 257h0M494 382h0M427 414h0M385 339h0M607 284h0M422 413h0M492 432h0M396 278h0M445 268h0M671 323h0M389 333h0M465 382h0M405 351h0M492 397h0M533 350h0M549 310h0M606 352h0M422 426h0M403 343h0M676 330h0M463 361h0M410 355h0M404 346h0M462 281h0M457 315h0M410 352h0M421 257h0M459 321h0M465 295h0M436 338h0M457 301h0M404 346h0M465 294h0M437 347h0M448 344h0M428 343h0M423 267h0M452 348h0M414 263h0M392 329h0M463 310h0M394 312h0M389 283h0M389 315h0M456 267h0M401 353h0M431 261h0M384 330h0M397 344h0M409 342h0M405 344h0M385 306h0M409 357h0M422 269h0M451 336h0M450 270h0M396 338h0M435 352h0M414 359h0M462 327h0M436 343h0M398 302h0M450 262h0M455 290h0M456 315h0M432 338h0M465 268h0M382 317h0M466 300h0M460 291h0M406 262h0M415 261h0M436 349h0M392 347h0M402 351h0M386 316h0M455 323h0M418 268h0M416 352h0M656 329h0M656 340h0M613 278h0M635 332h0M628 320h0M630 289h0M628 333h0M602 300h0M638 295h0M664 336h0M603 297h0M636 324h0M599 291h0M648 340h0M615 288h0M649 309h0M624 327h0M644 338h0M648 303h0M633 293h0M648 302h0M646 336h0M597 303h0M641 294h0M649 341h0M621 294h0M598 294h0M605 307h0M665 339h0M603 285h0M610 312h0M669 330h0M606 316h0M594 284h0M656 333h0M601 296h0M471 419h0M478 420h0M465 433h0M472 438h0M465 435h0M460 424h0M478 418h0M466 429h0M493 432h0M461 428h0M470 419h0M477 418h0M471 437h0M486 422h0M460 431h0M464 438h0M456 417h0M482 415h0M483 438h0M487 427h0M325 449h0M336 453h0M337 455h0M328 439h0M326 447h0M332 445h0M332 449h0M327 450h0M350 453h0M346 456h0M357 453h0M343 444h0M341 447h0M330 441h0M331 453h0M332 431h0M359 461h0M345 462h0M643 423h0M617 415h0M640 421h0M614 411h0M613 414h0M622 416h0M637 422h0M636 432h0M618 422h0M609 415h0M624 424h0M610 419h0M642 426h0M627 429h0M608 414h0M633 427h0M648 430h0M619 424h0M642 435h0M634 436h0M621 415h0M605 411h0M616 412h0M623 416h0M639 441h0M615 411h0M610 404h0M608 421h0M644 416h0M603 408h0M526 534h0M581 529h0M487 518h0M479 539h0M593 511h0M608 491h0M487 502h0M527 527h0M481 520h0M583 464h0M514 488h0M593 514h0M582 520h0M576 517h0M485 502h0M593 519h0M470 534h0M510 471h0M479 525h0M499 534h0M467 531h0M543 464h0M555 465h0M582 466h0M596 480h0M468 528h0M605 522h0M531 470h0M467 531h0M512 537h0M566 538h0M558 457h0M592 471h0M602 495h0M576 469h0M497 496h0M503 489h0M574 461h0M604 484h0M528 464h0M468 531h0M519 523h0M617 490h0M508 538h0M515 474h0M556 460h0M482 516h0M566 528h0M525 476h0M528 472h0M559 526h0M584 531h0M534 525h0M532 459h0M594 475h0M588 523h0M584 520h0M596 475h0M486 496h0M529 460h0M588 480h0M542 461h0M585 474h0M490 540h0M568 462h0M485 538h0M556 530h0M517 536h0M529 531h0M517 523h0M564 530h0M535 462h0M502 525h0M479 540h0M506 487h0M606 491h0M553 526h0M472 536h0M595 509h0M544 536h0M596 474h0M526 533h0M600 505h0M491 538h0M482 523h0M507 487h0M544 527h0M590 464h0M593 493h0M551 507h0M591 516h0M573 467h0M569 516h0M542 477h0M558 478h0M578 516h0M594 487h0M594 506h0M548 472h0M594 482h0M588 481h0M549 503h0M601 493h0M562 519h0M590 514h0M554 480h0M542 504h0M601 464h0M576 461h0M575 466h0M595 478h0M567 525h0M542 501h0M591 513h0M585 508h0M598 494h0M569 455h0M584 523h0M578 530h0M597 506h0M605 511h0M572 523h0M552 522h0M543 492h0M541 475h0M584 502h0M592 518h0M553 512h0M581 477h0M575 516h0M550 463h0M72 448h0M87 530h0M86 443h0M64 459h0M72 528h0M96 442h0M99 529h0M74 531h0M58 458h0M47 513h0M46 510h0M110 521h0M79 529h0M82 545h0M55 524h0M104 468h0M102 436h0M56 510h0M104 466h0M99 453h0M49 509h0M49 480h0M104 463h0M105 480h0M105 453h0M111 488h0M117 487h0M80 526h0M78 445h0M62 469h0M65 535h0M44 499h0M92 532h0M105 516h0M78 445h0M51 494h0M68 464h0M55 516h0M72 459h0M111 477h0M112 476h0M97 454h0M39 498h0M95 452h0M92 430h0M59 514h0M107 464h0M112 486h0M113 503h0M53 497h0M103 523h0M115 497h0M69 455h0M56 524h0M89 531h0M44 470h0M77 450h0M60 528h0M79 534h0M94 438h0M56 527h0M50 515h0M68 455h0M35 496h0M51 529h0M82 441h0M73 534h0M108 504h0M106 451h0M57 538h0M77 456h0M78 439h0M99 533h0M107 471h0M62 521h0M54 510h0M102 429h0M86 490h0M77 537h0M62 523h0M72 526h0M49 514h0M74 497h0M58 507h0M46 509h0M66 498h0M64 497h0M44 523h0M96 508h0M63 518h0M93 538h0M109 499h0M99 499h0M42 495h0M84 492h0M102 511h0M95 509h0M61 515h0M93 526h0M49 490h0M95 532h0M101 528h0M134 572h0M133 580h0M100 528h0M116 545h0M126 572h0M116 548h0M104 533h0M112 560h0M135 596h0M110 534h0M115 545h0M136 587h0M101 530h0M110 545h0M113 548h0M131 582h0M123 563h0M133 571h0M133 580h0M125 563h0M133 580h0M135 591h0M121 545h0M116 538h0M104 527h0M141 599h0M127 575h0M138 595h0M142 593h0M112 555h0M124 571h0M121 552h0M103 529h0M138 598h0M122 569h0M130 559h0M116 536h0M105 534h0M135 576h0M121 551h0M130 560h0M123 569h0M95 535h0M140 538h0M134 596h0M107 528h0M125 541h0M125 562h0M102 532h0M111 531h0M135 559h0M146 592h0M105 525h0M128 609h0M221 616h0M170 586h0M177 586h0M222 613h0M210 634h0M211 590h0M208 592h0M134 594h0M137 639h0M219 615h0M188 639h0M199 648h0M207 610h0M162 586h0M206 594h0M198 635h0M192 646h0M149 633h0M202 638h0M170 587h0M216 599h0M157 636h0M138 637h0M213 606h0M213 608h0M158 641h0M229 602h0M217 629h0M129 618h0M129 605h0M193 642h0M189 584h0M211 596h0M130 600h0M206 597h0M132 593h0M201 576h0M177 579h0M180 646h0M210 643h0M132 594h0M173 643h0M204 588h0M184 579h0M216 607h0M193 636h0M220 620h0M215 638h0M190 636h0M216 642h0M125 599h0M174 647h0M152 645h0M128 612h0M221 605h0M157 575h0M146 631h0M130 637h0M215 616h0M143 644h0M191 646h0M178 647h0M141 630h0M191 650h0M212 615h0M194 651h0M123 593h0M176 641h0M177 650h0M178 644h0M859 494h0M904 449h0M872 465h0M911 417h0M915 477h0M949 454h0M840 549h0M833 561h0M857 435h0M865 508h0M876 485h0M897 432h0M913 468h0M925 433h0M931 458h0M857 501h0M929 434h0M888 410h0M895 465h0M886 404h0M862 459h0M862 500h0M846 541h0M884 467h0M899 456h0M876 447h0M838 541h0M869 427h0M943 455h0M879 477h0M886 410h0M867 431h0M861 455h0M912 457h0M908 416h0M850 452h0M852 462h0M852 511h0M909 446h0M874 438h0M874 472h0M946 450h0M870 490h0M884 432h0M888 451h0M849 519h0M894 417h0M921 446h0M912 433h0M924 426h0M910 443h0M909 469h0M936 439h0M916 414h0M885 474h0M883 466h0M869 421h0M847 532h0M912 439h0M939 442h0M903 458h0M869 506h0M932 465h0M847 459h0M895 455h0M864 427h0M877 466h0M943 464h0M873 467h0M925 423h0M843 543h0M844 525h0M859 501h0M875 485h0M920 437h0M864 432h0M886 430h0M876 428h0M906 416h0M864 435h0M859 515h0M885 432h0M857 440h0M857 433h0M853 471h0M876 454h0M882 410h0M926 463h0M903 478h0M865 512h0M892 478h0M929 474h0M880 443h0M880 483h0M861 508h0M919 417h0M870 434h0M898 411h0M934 436h0M920 437h0M864 488h0M891 414h0M929 433h0M934 440h0M871 502h0M882 448h0M893 456h0M926 449h0M884 448h0M874 481h0M930 435h0M883 470h0M889 451h0M876 471h0M939 458h0M890 480h0M897 429h0M930 458h0M921 474h0M873 469h0M910 421h0M857 504h0M915 430h0M865 453h0M842 545h0M873 438h0M902 422h0M832 560h0M858 522h0M932 432h0M857 512h0M907 440h0M901 464h0M879 438h0M929 454h0M884 435h0M945 452h0M920 459h0M884 416h0M896 419h0M842 541h0M930 471h0M895 472h0M936 459h0M878 418h0M911 452h0M889 429h0M855 437h0M916 471h0M892 464h0M900 417h0M911 412h0M875 439h0M902 432h0M916 427h0M854 449h0M903 409h0M904 431h0M877 424h0M879 444h0M922 468h0M892 441h0M909 429h0M883 459h0M903 471h0M895 413h0M932 451h0M886 418h0M846 530h0M867 441h0M940 467h0M873 497h0M904 413h0M934 431h0M942 468h0M895 406h0M888 416h0M938 468h0M878 482h0M911 425h0M908 449h0M852 509h0M915 454h0M861 469h0M865 438h0M922 431h0M866 500h0M906 461h0M872 491h0M916 465h0M875 424h0M863 474h0M857 468h0M950 452h0M849 527h0M905 441h0M902 450h0M870 442h0M876 469h0M856 443h0M908 455h0M931 451h0M914 429h0M868 449h0M863 442h0M884 458h0M848 517h0M945 471h0M906 432h0M870 469h0M890 459h0M874 463h0M880 480h0M857 458h0M899 480h0M895 435h0M891 420h0M863 507h0M913 430h0M943 463h0M849 448h0M897 445h0M892 405h0M914 414h0M845 542h0M905 408h0M910 461h0M907 447h0M931 459h0M869 479h0M910 413h0M950 451h0M900 408h0M928 429h0M922 478h0M861 435h0M867 487h0M887 401h0M844 538h0M942 479h0M838 569h0M846 457h0M887 406h0M843 516h0M888 396h0M862 486h0M891 408h0M956 462h0M944 478h0M845 437h0M884 414h0M934 434h0M850 466h0M861 473h0M851 470h0M886 493h0M852 465h0M854 472h0M846 538h0M825 555h0M854 438h0M861 428h0M878 466h0M883 444h0M887 450h0M880 430h0M886 440h0M858 464h0M863 444h0M876 429h0M852 442h0M893 453h0M872 433h0M865 438h0M849 462h0M848 455h0M885 436h0M879 426h0M876 468h0M877 426h0M849 447h0M880 442h0M867 475h0M836 468h0M850 452h0M879 430h0M762 665h0M793 690h0M731 670h0M802 671h0M772 709h0M770 660h0M758 668h0M792 669h0M798 651h0M733 672h0M773 658h0M780 654h0M756 670h0M797 689h0M717 657h0M785 693h0M777 678h0M797 669h0M764 693h0M797 693h0M719 658h0M743 685h0M791 653h0M726 673h0M789 650h0M736 659h0M780 650h0M796 669h0M772 670h0M721 658h0M762 658h0M760 689h0M723 662h0M767 707h0M764 698h0M790 683h0M745 657h0M761 700h0M789 672h0M749 687h0M750 675h0M759 656h0M752 656h0M745 687h0M722 662h0M762 658h0M752 691h0M751 663h0M755 692h0M735 660h0M778 664h0M734 671h0M761 669h0M797 677h0M793 659h0M781 688h0M783 684h0M778 688h0M788 681h0M802 672h0M744 670h0M786 669h0M769 658h0M790 684h0M722 659h0M718 664h0M795 667h0M786 683h0M793 659h0M792 652h0M757 656h0M779 668h0M737 657h0M759 700h0M778 667h0M732 665h0M786 668h0M762 696h0M798 668h0M737 657h0M767 666h0M732 671h0M764 684h0M751 660h0M744 694h0M776 707h0M726 667h0M725 665h0M786 683h0M755 664h0M786 691h0M800 671h0M757 700h0M782 681h0M802 661h0M796 649h0M755 668h0M764 684h0M797 661h0M795 653h0M739 660h0M786 656h0M799 689h0M799 673h0M774 704h0M726 670h0M770 651h0M789 664h0M719 662h0M747 676h0M763 657h0M789 666h0M787 693h0M778 659h0M752 695h0M791 653h0M794 669h0M778 652h0M751 654h0M783 671h0M762 663h0M772 700h0M775 687h0M736 671h0M777 674h0M763 651h0M763 645h0M710 675h0M799 637h0M719 652h0M761 701h0M785 712h0M799 700h0M800 665h0M769 651h0M792 695h0M733 658h0M481 615h0M504 596h0M478 623h0M501 597h0M493 603h0M498 609h0M498 607h0M499 611h0M507 598h0M476 617h0M509 593h0M489 593h0M491 625h0M487 606h0M466 612h0M484 611h0M506 584h0M458 659h0M461 659h0M458 672h0M453 659h0M459 659h0M464 658h0M459 672h0M460 651h0M454 662h0M445 712h0M450 719h0M467 707h0M456 706h0M454 724h0M460 707h0M442 700h0M452 731h0M444 709h0M456 732h0M445 717h0M467 708h0M461 733h0M462 694h0M449 726h0M466 723h0M466 702h0M457 715h0M457 696h0M458 696h0M460 693h0M449 701h0M457 727h0M459 716h0M443 713h0M464 721h0M449 726h0M460 695h0M468 703h0M444 714h0M459 714h0M462 699h0M475 712h0M447 725h0M473 719h0M448 727h0M457 724h0M474 715h0M446 710h0M461 728h0M455 725h0M467 724h0M444 707h0M468 727h0M452 721h0M458 697h0M460 725h0M471 703h0M456 700h0M473 721h0M445 703h0M458 694h0M447 698h0M450 710h0M448 710h0M447 719h0M461 701h0M442 708h0M445 702h0M459 694h0M455 717h0M462 712h0M447 714h0M465 730h0M463 719h0M451 719h0M467 702h0M444 711h0M448 727h0M445 705h0M457 709h0M453 726h0M457 688h0M473 709h0M445 709h0M444 720h0M447 728h0M456 737h0M472 710h0M440 719h0M446 703h0M466 688h0M444 731h0M469 719h0M462 727h0M446 732h0M457 687h0M465 694h0M497 701h0M529 715h0M527 709h0M497 710h0M506 703h0M503 700h0M531 706h0M509 703h0M523 714h0M519 705h0M508 711h0M535 716h0M506 708h0M518 715h0M513 710h0M518 702h0M511 704h0M507 704h0M502 705h0M524 711h0M531 716h0M529 705h0M498 705h0M505 711h0M519 706h0M519 707h0M510 702h0M510 712h0M539 694h0M503 701h0M499 714h0M506 696h0M523 696h0M526 718h0M502 698h0M507 715h0M496 697h0M355 775h0M368 776h0M341 757h0M403 773h0M366 771h0M408 766h0M403 773h0M371 734h0M407 753h0M406 774h0M347 761h0M371 731h0M379 749h0M364 762h0M358 755h0M354 750h0M385 776h0M364 786h0M398 773h0M427 747h0M386 762h0M377 763h0M400 729h0M371 744h0M382 728h0M373 745h0M346 757h0M381 746h0M387 774h0M424 751h0M420 768h0M419 757h0M403 758h0M351 781h0M394 748h0M342 745h0M391 753h0M386 777h0M350 760h0M373 780h0M422 759h0M420 751h0M363 750h0M408 763h0M416 764h0M394 745h0M373 729h0M359 751h0M371 752h0M410 780h0M400 744h0M369 745h0M342 754h0M381 754h0M365 777h0M350 759h0M361 764h0M365 761h0M337 758h0M356 774h0M356 750h0M365 752h0M403 767h0M348 775h0M397 750h0M414 771h0M381 785h0M352 743h0M413 769h0M408 761h0M378 766h0M338 766h0M406 783h0M426 754h0M380 746h0M405 737h0M339 765h0M372 753h0M394 771h0M349 754h0M350 762h0M352 769h0M357 784h0M369 746h0M354 750h0M363 733h0M377 755h0M420 748h0M418 745h0M397 768h0M412 775h0M352 767h0M362 781h0M354 755h0M370 751h0M365 730h0M371 787h0M394 732h0M378 734h0M384 783h0M389 753h0M363 765h0M380 776h0M389 762h0M390 779h0M364 741h0M423 756h0M384 748h0M381 756h0M359 762h0M352 740h0M401 733h0M371 785h0M382 732h0M364 750h0M422 764h0M399 772h0M411 762h0M340 766h0M426 748h0M390 751h0M355 736h0M388 749h0M421 749h0M402 733h0M391 740h0M343 748h0M401 777h0M361 757h0M420 774h0M367 762h0M396 759h0M395 745h0M382 732h0M385 736h0M346 745h0M392 786h0M409 772h0M381 779h0M395 756h0M371 774h0M337 752h0M359 747h0M350 752h0M388 728h0M413 757h0M368 731h0M370 772h0M397 748h0M397 729h0M344 774h0M423 763h0M336 761h0M386 736h0M412 748h0M367 780h0M375 756h0M355 768h0M357 760h0M382 766h0M392 765h0M365 734h0M401 737h0M384 762h0M360 786h0M409 775h0M364 747h0M360 748h0M381 762h0M422 754h0M407 740h0M421 765h0M389 731h0M396 742h0M415 776h0M410 739h0M409 754h0M379 765h0M398 750h0M392 740h0M403 753h0M391 737h0M406 748h0M391 735h0M406 733h0M396 752h0M366 784h0M384 782h0M379 778h0M407 750h0M392 753h0M411 780h0M398 758h0M417 764h0M378 734h0M403 759h0M339 749h0M356 740h0M361 785h0M392 741h0M413 748h0M428 756h0M411 753h0M344 759h0M402 761h0M367 758h0M351 734h0M420 757h0M379 769h0M409 768h0M340 769h0M376 757h0M408 742h0M344 743h0M424 756h0M364 770h0M399 733h0M387 753h0M401 755h0M358 747h0M346 758h0M425 747h0M379 744h0M418 750h0M344 772h0M420 753h0M379 758h0M372 746h0M366 773h0M420 773h0M418 758h0M384 742h0M337 762h0M356 743h0M398 767h0M404 764h0M370 773h0M339 740h0M342 758h0M399 761h0M372 776h0M366 769h0M367 759h0M423 751h0M398 751h0M413 760h0M374 736h0M412 748h0M391 728h0M379 781h0M381 776h0M364 751h0M364 765h0M375 781h0M367 731h0M410 733h0M385 770h0M383 733h0M406 766h0M397 766h0M388 782h0M341 756h0M374 746h0M413 767h0M340 772h0M358 745h0M346 748h0M348 765h0M379 729h0M371 726h0M339 762h0M404 758h0M404 759h0M371 732h0M365 777h0M371 756h0M384 731h0M397 764h0M381 761h0M403 779h0M375 766h0M383 745h0M358 741h0M339 748h0M370 731h0M351 737h0M419 772h0M367 783h0M372 740h0M384 741h0M354 752h0M356 770h0M401 783h0M402 774h0M349 754h0M353 773h0M408 756h0M400 777h0M349 781h0M390 730h0M409 751h0M421 764h0M377 772h0M403 772h0M382 770h0M349 744h0M379 778h0M395 783h0M402 751h0M400 745h0M389 752h0M419 757h0M364 733h0M416 761h0M356 783h0M407 753h0M345 770h0M391 784h0M385 748h0M395 742h0M368 750h0M362 756h0M388 735h0M372 767h0M375 763h0M383 764h0M363 776h0M384 776h0M377 789h0M370 750h0M371 762h0M350 744h0M341 766h0M377 761h0M350 755h0M386 730h0M403 740h0M380 770h0M417 778h0M349 742h0M377 729h0M382 777h0M404 767h0M389 740h0M396 745h0M385 737h0M405 732h0M423 770h0M372 784h0M389 736h0M362 771h0M342 742h0M347 767h0M346 744h0M372 778h0M366 764h0M416 780h0M384 752h0M398 778h0M393 782h0M403 759h0M409 775h0M409 753h0M376 762h0M407 762h0M354 750h0M387 782h0M406 742h0M402 740h0M398 762h0M361 769h0M346 760h0M352 755h0M386 734h0M395 731h0M411 753h0M400 761h0M369 747h0M366 747h0M400 743h0M344 771h0M377 745h0M384 738h0M366 749h0M375 768h0M415 762h0M373 731h0M356 751h0M397 756h0M409 782h0M384 748h0M414 749h0M394 749h0M369 745h0M352 771h0M372 774h0M395 760h0M356 774h0M368 769h0M369 742h0M338 751h0M373 738h0M367 750h0M422 745h0M366 783h0M337 764h0M347 767h0M362 756h0M415 770h0M366 734h0M381 760h0M410 738h0M420 762h0M356 751h0M419 746h0M413 767h0M419 744h0M418 743h0M365 756h0M355 769h0M357 765h0M373 741h0M344 758h0M342 774h0M408 745h0M397 781h0M346 751h0M425 759h0M339 765h0M378 736h0M352 780h0M407 768h0M350 742h0M393 738h0M337 767h0M362 749h0M424 745h0M366 769h0M384 769h0M413 749h0M416 743h0M423 765h0M381 769h0M362 771h0M395 777h0M407 748h0M342 774h0M371 730h0M401 785h0M355 750h0M380 760h0M358 755h0M379 768h0M372 750h0M428 751h0M368 786h0M399 768h0M391 756h0M365 739h0M381 780h0M382 784h0M396 771h0M402 770h0M350 750h0M352 751h0M367 737h0M411 774h0M417 762h0M362 776h0M335 755h0M396 768h0M394 741h0M400 771h0M375 768h0M357 766h0M391 783h0M408 773h0M424 748h0M367 752h0M385 773h0M427 756h0M422 771h0M404 764h0M370 730h0M400 772h0M366 780h0M416 772h0M412 757h0M395 773h0M356 736h0M420 765h0M357 758h0M414 761h0M350 757h0M413 736h0M363 771h0M401 740h0M381 747h0M351 779h0M406 736h0M357 736h0M352 767h0M390 764h0M377 763h0M378 733h0M347 759h0M392 734h0M407 753h0M394 774h0M412 776h0M360 764h0M343 739h0M361 734h0M407 772h0M339 741h0M356 739h0M417 757h0M392 764h0M351 784h0M365 733h0M377 751h0M409 780h0M403 760h0M360 761h0M378 740h0M336 766h0M407 789h0M415 784h0M340 771h0M356 734h0M427 764h0M423 778h0M364 732h0M339 744h0M430 755h0M391 729h0M340 742h0M350 732h0M343 746h0M358 785h0M425 766h0M326 762h0M383 782h0M358 728h0M404 736h0M350 729h0M336 739h0M345 741h0M425 749h0M371 779h0M427 772h0M372 787h0M332 768h0M335 743h0M397 789h0M352 742h0M420 785h0M411 731h0M393 789h0M376 786h0M407 784h0M361 789h0M345 733h0M369 798h0M577 782h0M546 678h0M550 756h0M587 761h0M503 688h0M558 661h0M603 721h0M532 650h0M585 745h0M603 699h0M592 672h0M494 676h0M542 762h0M580 668h0M589 755h0M576 785h0M584 680h0M582 778h0M594 709h0M584 741h0M591 762h0M584 737h0M526 659h0M533 741h0M592 722h0M600 737h0M587 663h0M599 714h0M591 672h0M596 682h0M522 717h0M589 703h0M583 779h0M529 739h0M535 753h0M512 711h0M589 762h0M592 714h0M585 770h0M591 715h0M549 770h0M563 660h0M501 668h0M511 698h0M584 776h0M589 777h0M572 666h0M544 754h0M534 732h0M594 749h0M511 721h0M540 765h0M580 776h0M495 659h0M541 767h0M512 722h0M591 753h0M586 761h0M551 657h0M556 782h0M542 732h0M555 778h0M565 774h0M517 725h0M539 762h0M580 735h0M565 772h0M537 749h0M509 691h0M595 696h0M587 771h0M592 768h0M598 666h0M597 718h0M600 692h0M578 776h0M565 781h0M543 754h0M565 656h0M596 723h0M534 659h0M588 731h0M538 667h0M577 774h0M509 710h0M520 673h0M599 698h0M501 664h0M586 754h0M597 699h0M539 651h0M569 662h0M464 927h0M455 937h0M455 927h0M460 941h0M460 929h0M460 925h0M459 935h0M454 928h0M453 928h0M462 930h0M461 940h0M472 915h0M460 949h0M465 925h0M448 943h0M447 936h0M466 950h0M469 927h0M512 701h0M462 700h0M501 709h0M510 707h0M527 721h0M534 722h0M499 704h0M522 713h0M497 708h0M512 713h0M480 711h0M479 689h0M532 704h0M498 707h0M518 722h0M502 700h0M470 685h0M482 688h0M491 705h0M466 700h0M488 689h0M497 695h0M485 703h0M529 732h0M522 718h0M442 721h0M432 727h0M431 725h0M427 725h0M447 717h0M435 720h0M431 733h0M440 725h0M436 728h0M453 717h0M452 725h0M444 716h0M430 721h0M445 715h0M429 732h0M413 732h0M425 730h0M436 725h0M424 736h0M432 732h0M435 720h0M440 717h0M648 618h0M580 641h0M667 625h0M460 552h0M640 532h0M629 502h0M703 446h0M367 369h0M665 471h0M760 514h0M516 661h0M586 536h0M612 431h0M424 629h0M599 604h0M548 434h0M306 566h0M665 623h0M733 637h0M307 535h0M725 445h0M569 397h0M416 405h0M426 509h0M488 596h0M566 604h0M727 389h0M496 398h0M717 580h0M316 449h0M480 506h0M444 409h0M445 537h0M611 532h0M305 538h0M506 620h0M717 624h0M409 380h0M410 518h0M494 583h0M583 389h0M680 690h0M314 667h0M532 689h0M695 555h0M306 465h0M557 671h0M633 552h0M547 388h0M430 522h0M615 688h0M425 644h0M649 527h0M330 567h0M711 402h0M704 466h0M410 377h0M565 464h0M405 607h0M548 638h0M643 669h0M326 632h0M316 395h0M513 647h0M455 518h0M590 377h0M405 394h0M392 413h0M363 448h0M611 432h0M703 555h0M672 639h0M480 410h0M559 422h0M585 484h0M528 530h0M439 417h0M641 460h0M738 567h0M499 407h0M757 678h0M366 515h0M689 604h0M575 642h0M343 413h0M652 423h0M566 397h0M590 640h0M729 469h0M526 492h0M419 420h0M686 616h0M714 581h0M353 591h0M538 478h0M505 605h0M594 376h0M438 671h0M736 593h0M363 670h0M647 515h0M509 447h0M563 641h0M438 456h0M750 620h0M310 651h0M642 438h0M429 668h0M576 395h0M579 524h0M431 474h0M495 508h0M557 467h0M314 459h0M443 684h0M489 363h0M433 687h0M502 474h0M520 625h0M316 603h0M328 446h0M485 631h0M626 530h0M431 518h0M500 399h0M630 675h0M465 573h0M405 573h0M529 548h0M515 569h0M645 484h0M470 631h0M324 670h0M757 571h0M667 616h0M711 605h0M461 385h0M311 614h0M463 505h0M618 641h0" stroke="#c3c4c9" stroke-width="3.4" stroke-linecap="round" fill="none"/>
<path d="M153 621h0M146 617h0M182 594h0M178 611h0M145 602h0M139 607h0M152 596h0M170 624h0M167 631h0M172 594h0M178 625h0M148 610h0M172 585h0M174 608h0M176 581h0M171 621h0M146 603h0M169 588h0M159 629h0M156 583h0M174 608h0M172 624h0M143 601h0M186 596h0M179 610h0M155 623h0M142 609h0M173 627h0M950 463h0M857 469h0M828 562h0M858 449h0M848 457h0M853 526h0M855 474h0M849 504h0M876 409h0M853 513h0M906 414h0M851 539h0M844 543h0M927 477h0M851 521h0M849 460h0M858 504h0M843 530h0M867 499h0M858 510h0M852 457h0M865 433h0M900 480h0M905 400h0M841 471h0M836 565h0M838 560h0M857 527h0M930 476h0M941 476h0M902 406h0M858 519h0M838 556h0M837 561h0M829 560h0M927 418h0M876 488h0M845 458h0M834 565h0M860 433h0M870 512h0M838 539h0M897 409h0M885 485h0M897 474h0M871 503h0M933 485h0M848 530h0M852 437h0M875 411h0M847 509h0M836 534h0M925 416h0M827 560h0M854 543h0M893 400h0M847 536h0M843 505h0M835 554h0M882 495h0M874 500h0M843 443h0M827 562h0M909 416h0M943 476h0M918 485h0M826 564h0M868 417h0M895 480h0M855 536h0M839 541h0M847 467h0M849 447h0M948 444h0M898 402h0M873 450h0M883 444h0M874 436h0M872 469h0M883 445h0M875 435h0M858 440h0M875 434h0M875 445h0M864 463h0M871 455h0M868 472h0M868 469h0M878 439h0M860 447h0M886 456h0M865 437h0M864 471h0M878 463h0M859 447h0M865 437h0M879 450h0M869 472h0M876 436h0M875 456h0M849 451h0M872 468h0M884 451h0M862 456h0M883 447h0M871 449h0M857 459h0M852 460h0M877 442h0M875 435h0M865 473h0M873 437h0M868 437h0M868 446h0M877 433h0M853 449h0M852 449h0M883 459h0M869 448h0M873 444h0M872 432h0M868 461h0M863 446h0M858 469h0M870 438h0M878 434h0M860 471h0M884 455h0M857 442h0M863 436h0M879 444h0M871 450h0M855 456h0M853 464h0M850 443h0M866 459h0M863 439h0M854 463h0M865 439h0M857 446h0M883 439h0M857 454h0M864 450h0M874 437h0M853 452h0M873 451h0M873 439h0M867 462h0M884 448h0M881 449h0M869 459h0M886 456h0M858 443h0M884 447h0M857 441h0M857 438h0M872 448h0M859 447h0M861 454h0M877 462h0M880 443h0M877 438h0M859 449h0M861 437h0M858 466h0M869 438h0M881 442h0M847 463h0M898 454h0M882 434h0M873 469h0M854 448h0M842 465h0M864 473h0M890 454h0M864 461h0M888 470h0M862 435h0M851 447h0M843 441h0M873 476h0M883 466h0M857 440h0M510 582h0M499 592h0M506 598h0M494 628h0M467 620h0M470 618h0M507 601h0M482 599h0M510 601h0M510 592h0M491 622h0M507 593h0M502 609h0M492 615h0M486 602h0M474 627h0M513 610h0M482 617h0M516 582h0M505 594h0M506 611h0M514 602h0M499 635h0M479 611h0M505 613h0M455 661h0M444 656h0M470 668h0M444 659h0M439 676h0M453 658h0M470 652h0M447 666h0M472 666h0M456 669h0M466 670h0M445 655h0M459 673h0M454 664h0M449 652h0M473 700h0M448 692h0M450 724h0M458 690h0M461 750h0M481 713h0M461 694h0M435 717h0M467 703h0M446 718h0M468 701h0M453 702h0M471 735h0M436 705h0M446 720h0M476 695h0M488 712h0M446 734h0M475 717h0M463 695h0M473 711h0M469 743h0M458 689h0M502 715h0M500 715h0M518 714h0M520 705h0M532 715h0M543 716h0M498 714h0M509 712h0M519 716h0M500 700h0M539 706h0M505 697h0M517 690h0M534 715h0M525 705h0M509 722h0M530 719h0M534 709h0M503 709h0M533 709h0M336 758h0M397 797h0M431 758h0M362 789h0M428 757h0M425 786h0M362 728h0M325 761h0M331 762h0M339 777h0M392 792h0M426 781h0M340 732h0M327 756h0M400 729h0M353 783h0M391 785h0M352 732h0M415 795h0M374 787h0M422 737h0M377 727h0M337 769h0M335 728h0M369 783h0M347 734h0M336 769h0M341 779h0M424 761h0M418 771h0M379 733h0M345 777h0M339 770h0M374 735h0M364 732h0M412 741h0M386 791h0M408 735h0M450 701h0M492 636h0M443 718h0M457 672h0M470 659h0M450 686h0M463 668h0M475 645h0M453 684h0M469 644h0M452 706h0M462 698h0M476 649h0M458 700h0M438 720h0M435 719h0M459 671h0M464 684h0M475 632h0M444 728h0M449 713h0M464 673h0M466 680h0M448 676h0M465 681h0M450 706h0M466 684h0M459 687h0M477 646h0M455 664h0M482 632h0M496 635h0M471 668h0M459 634h0M440 708h0M445 720h0M463 661h0M454 718h0M446 706h0M465 655h0M470 669h0M446 716h0M452 695h0M456 719h0M477 665h0M459 679h0M434 712h0M489 635h0M453 652h0M476 673h0M453 690h0M483 633h0M456 648h0M451 715h0M462 639h0M468 670h0M475 649h0M467 666h0M474 686h0M445 682h0M458 720h0M477 646h0M454 672h0M444 722h0M451 719h0M463 658h0M469 683h0M476 633h0M477 652h0M470 646h0M478 688h0M468 657h0M445 701h0M451 687h0M469 643h0M459 680h0M475 639h0M462 680h0M455 703h0M431 726h0M421 718h0M441 703h0M475 679h0M492 638h0M471 640h0M437 718h0M453 675h0M479 641h0M468 628h0M433 733h0M455 675h0M436 693h0M476 694h0M477 704h0M480 704h0M536 711h0M510 703h0M517 718h0M484 708h0M510 720h0M516 704h0M494 717h0M492 699h0M485 710h0M518 708h0M486 710h0M505 709h0M444 706h0M451 695h0M464 697h0M460 692h0M450 684h0M524 720h0M540 706h0M462 698h0M446 697h0M469 686h0M526 714h0M441 686h0M490 697h0M486 706h0M517 710h0M485 701h0M441 687h0M483 702h0M469 697h0M446 696h0M448 701h0M507 708h0M498 717h0M479 699h0M479 708h0M461 710h0M498 712h0M478 706h0M448 719h0M425 724h0M442 714h0M439 729h0M433 735h0M426 727h0M429 731h0M436 717h0M432 732h0M421 734h0M441 708h0M455 716h0M433 721h0M450 719h0M432 732h0M440 727h0M445 706h0M429 728h0" stroke="#e0202c" stroke-width="3.4" stroke-linecap="round" fill="none"/>
</g>
<path d="M401.5 782.0h0M401.2 785.0h0M390.8 788.3h0M415.0 796.7h0M412.8 776.5h0M422.8 794.2h0M414.5 772.1h0M399.5 790.3h0M405.7 777.2h0M422.7 797.2h0M406.2 797.7h0M390.6 774.1h0M398.9 784.5h0M408.5 784.7h0M414.6 800.8h0M413.6 785.5h0M398.0 781.5h0M397.9 773.3h0M415.7 777.4h0M421.9 787.0h0M398.4 780.9h0M408.2 783.4h0M425.4 783.6h0M413.4 776.4h0M399.0 770.3h0M388.8 788.4h0M424.9 777.1h0M419.1 784.6h0M396.7 783.8h0M425.6 790.2h0M405.0 798.6h0M389.7 785.5h0M393.0 779.3h0M402.6 791.3h0M410.7 800.7h0M393.8 780.0h0M410.2 777.7h0M424.0 777.3h0M408.7 793.3h0M402.9 783.5h0M401.0 787.4h0M400.5 776.7h0M387.8 792.3h0M399.1 790.8h0M388.0 778.0h0M427.0 783.3h0M409.8 777.6h0M425.0 778.1h0M401.1 783.6h0M414.7 788.9h0M425.5 774.7h0M398.7 786.1h0M388.7 796.4h0M409.3 780.3h0M392.0 791.6h0M397.1 787.4h0M409.6 788.7h0M387.5 791.9h0M420.2 775.2h0M400.5 790.7h0M395.2 780.8h0M393.9 782.6h0M415.1 774.2h0M412.9 773.7h0M427.0 774.0h0M399.9 796.3h0M421.4 796.2h0M410.3 781.9h0M401.6 791.7h0M420.1 797.3h0M403.1 784.3h0M410.9 799.8h0M386.7 786.4h0M412.1 797.9h0M416.8 769.8h0M426.8 768.7h0M417.2 787.3h0M387.8 779.5h0M398.6 773.7h0M399.3 772.1h0M421.3 793.0h0M397.6 786.3h0M421.0 799.4h0M415.9 768.5h0M423.9 772.9h0M424.6 796.2h0M406.9 768.8h0M395.8 779.3h0M407.3 774.7h0M397.0 776.9h0M403.2 769.0h0M420.0 796.9h0M395.7 789.8h0M414.9 793.1h0M404.4 797.9h0M402.4 777.7h0M409.9 769.4h0M389.7 795.7h0M394.9 783.2h0M408.7 789.8h0M419.1 772.4h0M403.5 773.8h0M407.5 799.0h0M406.1 778.4h0M410.0 769.4h0M416.4 783.1h0M417.7 778.7h0M403.2 797.7h0M424.0 775.9h0M421.5 794.4h0M393.9 787.2h0M392.0 778.7h0M414.3 796.6h0M419.0 785.8h0M391.8 787.4h0M404.6 776.7h0M409.0 789.1h0M396.6 784.4h0M411.7 772.2h0M386.9 794.6h0M397.8 776.2h0M401.5 769.1h0M407.9 773.2h0M387.6 784.8h0M416.3 796.4h0M391.5 778.9h0M418.3 793.1h0M403.2 769.0h0M394.0 772.6h0M411.3 795.7h0M416.0 789.7h0M409.5 797.9h0M392.4 771.5h0M394.4 797.1h0M408.1 772.5h0M417.6 787.4h0M417.5 770.7h0M408.9 801.0h0M417.1 784.2h0M416.0 775.7h0M392.2 776.2h0M400.2 797.0h0M399.6 796.6h0M403.1 784.3h0M402.5 770.0h0M420.8 800.5h0M395.5 767.7h0M416.3 784.1h0M406.6 800.3h0M406.9 767.9h0M391.8 774.4h0M408.3 789.3h0M426.0 780.4h0M425.0 769.9h0M408.6 775.5h0M388.4 776.8h0M399.7 775.5h0M425.0 788.8h0M426.9 775.9h0M399.0 790.5h0M401.5 785.3h0M418.1 789.6h0M411.4 777.8h0M406.3 779.8h0M397.1 779.7h0M422.8 778.3h0M402.8 789.4h0M397.4 770.6h0M422.0 789.8h0M401.8 792.1h0M411.8 768.1h0M386.1 793.3h0M401.5 785.9h0M398.3 784.3h0M397.2 792.4h0M415.1 789.5h0M399.3 781.2h0M407.3 794.6h0M411.8 772.2h0M422.9 797.9h0M398.9 773.4h0M415.9 773.4h0M422.2 782.3h0M422.3 773.3h0M416.3 801.2h0M413.2 783.3h0M399.0 771.8h0M414.7 776.8h0M409.5 778.5h0M423.8 792.0h0M421.7 786.0h0M426.9 776.5h0M398.9 785.4h0M389.5 793.7h0M403.4 770.2h0M403.4 776.2h0M397.3 768.6h0M393.0 787.6h0M403.1 776.0h0M399.7 781.1h0M418.9 783.7h0M415.6 797.7h0M423.7 788.9h0M412.0 789.4h0M424.3 769.3h0M405.2 786.0h0M386.0 786.4h0M411.0 770.5h0M393.8 779.2h0M399.2 795.4h0M402.9 796.2h0M406.2 769.6h0M408.1 791.6h0M408.6 775.2h0M400.4 794.0h0M395.2 788.0h0M404.3 779.0h0M427.2 770.2h0M404.7 778.3h0M411.3 772.9h0M413.1 780.8h0M389.7 789.8h0M394.3 769.6h0M396.1 795.1h0M415.9 801.3h0M390.0 778.0h0M401.9 792.5h0M410.3 796.6h0M387.7 779.8h0M397.2 787.8h0M417.9 781.3h0M410.9 782.8h0M412.2 789.5h0M418.8 788.6h0M405.4 799.3h0M406.0 779.6h0M399.0 797.9h0M386.4 786.4h0M392.7 795.6h0M423.2 770.6h0M420.8 791.9h0M402.5 768.7h0M424.1 792.7h0M390.3 777.9h0M419.5 788.3h0M424.1 791.9h0M392.6 781.8h0M424.5 767.7h0M398.3 770.6h0M393.2 778.2h0M396.9 769.6h0M397.7 775.2h0M424.6 779.3h0M405.8 793.4h0M422.0 787.6h0M402.5 798.6h0M406.5 788.6h0M422.5 785.9h0M397.2 787.5h0M392.9 794.4h0M415.9 791.6h0M418.7 769.5h0M415.9 790.5h0M404.3 792.7h0M394.3 784.6h0M404.4 784.5h0M388.4 793.8h0M422.8 780.7h0M426.2 776.1h0M420.4 800.0h0M404.3 775.5h0M395.5 791.0h0M400.6 798.7h0M391.6 778.1h0M406.3 785.0h0M415.1 779.4h0M401.7 785.1h0M387.9 778.1h0M407.4 795.2h0M424.0 777.1h0M418.8 797.9h0M398.5 796.7h0M395.9 791.6h0M424.4 791.7h0M417.9 773.8h0M400.5 796.9h0M398.5 782.7h0M398.6 782.7h0M387.5 790.6h0M411.9 772.4h0M406.6 773.1h0M426.7 785.7h0M407.2 795.2h0M427.3 771.8h0M397.0 794.4h0M395.0 779.5h0M413.3 801.8h0M390.1 794.5h0M387.2 787.5h0M389.7 777.3h0M408.1 782.9h0M408.6 772.4h0M394.7 786.4h0M401.6 793.1h0M409.4 772.6h0M421.0 769.6h0M399.9 769.5h0M418.0 778.8h0M394.5 798.2h0M412.8 768.7h0M405.8 782.0h0M391.8 794.9h0M388.9 783.7h0M397.2 770.4h0M402.5 747.8h0M407.1 753.2h0M409.7 763.7h0M408.4 764.5h0M402.6 753.5h0M408.4 749.6h0M406.7 770.1h0M408.4 756.3h0M407.1 766.8h0M403.2 757.3h0M401.5 768.1h0M406.2 761.9h0M411.1 759.6h0M409.9 762.2h0M406.8 769.3h0M396.9 755.3h0M399.8 766.1h0M407.9 763.6h0M409.5 763.7h0M403.6 751.2h0M409.7 750.7h0M402.0 756.5h0M395.1 760.4h0M409.5 760.3h0M393.7 754.2h0M402.9 751.0h0M398.9 757.1h0M407.0 753.9h0M403.5 769.3h0M406.3 760.4h0M398.0 754.1h0M400.9 754.2h0M406.9 757.9h0M399.3 766.0h0M398.0 760.3h0M405.9 762.6h0M398.5 766.7h0M404.8 758.0h0M395.6 755.2h0M396.0 760.3h0M406.0 758.0h0M396.3 751.7h0M403.5 764.2h0M404.5 769.6h0M402.6 763.7h0M404.3 752.2h0M394.2 763.8h0M399.8 754.7h0M402.2 754.1h0M400.9 754.9h0M397.4 749.5h0M403.6 752.9h0M394.2 756.0h0M402.5 750.1h0M396.0 760.6h0M404.4 765.7h0M398.4 765.9h0M405.4 748.3h0M410.9 757.7h0M408.9 760.2h0M405.2 766.4h0M406.0 749.2h0M395.8 761.7h0M408.1 754.6h0M407.1 754.3h0M406.0 770.3h0M409.6 758.7h0M393.4 754.4h0M406.5 767.9h0M402.6 751.1h0M408.6 760.0h0M405.7 757.8h0M398.8 748.4h0M409.3 770.1h0M406.8 763.6h0M406.4 767.5h0M406.7 756.2h0M408.3 751.1h0M394.1 754.7h0M401.1 766.9h0M400.8 755.9h0M399.9 764.8h0M401.3 767.1h0M406.6 760.4h0M401.8 758.7h0M410.1 763.9h0M404.5 753.9h0M399.3 767.3h0M401.9 753.6h0M397.0 758.7h0M403.3 759.7h0M405.2 761.8h0M399.7 765.2h0M408.2 760.4h0M397.8 759.2h0M405.1 756.2h0M403.3 770.3h0M406.8 765.5h0M409.4 750.1h0M394.7 765.5h0M398.4 764.7h0M400.5 756.5h0M408.8 752.9h0M406.0 751.1h0M394.8 766.4h0M406.8 754.2h0M408.5 751.9h0M405.8 759.2h0M393.6 754.4h0M406.0 764.0h0M402.2 770.0h0M405.9 755.1h0M406.9 752.4h0M406.9 750.4h0M398.3 752.7h0M408.3 756.0h0M401.5 749.5h0M400.5 764.3h0M402.1 763.3h0M399.3 756.9h0M402.1 751.7h0M409.8 751.4h0M402.3 761.0h0M396.0 768.6h0M400.5 755.7h0M408.5 767.9h0M402.1 750.5h0M396.5 755.8h0M408.2 755.7h0M398.8 770.0h0M397.9 757.6h0M405.4 750.3h0M395.3 766.5h0M399.9 764.1h0M404.1 760.9h0M405.6 749.4h0M396.8 763.0h0M402.5 770.1h0M405.6 757.3h0M406.9 765.9h0M410.1 752.9h0M405.4 755.1h0M397.2 762.5h0M396.9 769.2h0M405.7 768.5h0M398.3 764.0h0M408.3 753.4h0M396.7 762.2h0M407.4 749.9h0M401.1 750.0h0M400.7 748.1h0M397.8 756.7h0M406.1 770.4h0M410.7 761.0h0M398.0 766.4h0M406.4 759.7h0M399.5 756.8h0M400.0 770.9h0M396.3 766.1h0M398.2 767.0h0M404.9 761.1h0M406.2 761.8h0M407.4 753.3h0M408.8 766.4h0M401.4 750.1h0M409.4 765.3h0M402.0 770.0h0M401.6 751.3h0M407.3 755.2h0M404.5 751.7h0M416.8 771.3h0M420.2 759.4h0M408.4 759.8h0M422.2 768.4h0M415.5 755.1h0M414.1 743.2h0M413.9 771.5h0M422.7 754.9h0M424.3 770.4h0M416.2 752.5h0M408.9 757.1h0M411.0 770.5h0M414.7 772.7h0M419.5 744.5h0M411.7 766.9h0M409.4 760.0h0M421.1 762.3h0M426.8 770.2h0M412.9 756.5h0M417.0 765.6h0M411.2 753.5h0M412.6 746.2h0M425.2 744.3h0M417.7 761.9h0M419.8 763.9h0M428.2 764.7h0M408.0 756.3h0M416.2 757.1h0M425.0 774.0h0M417.1 756.8h0M426.9 757.1h0M428.5 767.7h0M428.0 759.5h0M419.4 747.8h0M422.2 758.0h0M416.6 754.3h0M420.6 757.0h0M424.7 773.5h0M409.3 757.9h0M437.4 816.1h0M440.8 824.1h0M428.8 808.9h0M435.7 814.5h0M434.2 814.8h0M483.4 880.5h0M439.1 820.2h0M477.1 872.7h0M459.9 852.0h0M480.4 875.3h0M430.8 813.7h0M458.3 852.0h0M450.6 836.9h0M465.1 852.3h0M462.2 850.4h0M481.2 881.6h0M443.9 825.5h0M449.3 834.9h0M472.3 862.4h0M452.9 838.2h0M433.6 816.9h0M484.4 881.8h0M436.7 816.9h0M479.5 876.9h0M530.6 909.0h0M541.2 918.9h0M529.5 902.0h0M529.4 911.4h0M522.3 898.3h0M510.7 902.2h0M506.6 914.3h0M537.1 911.4h0M506.2 900.5h0M527.0 908.9h0M527.1 910.8h0M517.2 918.9h0M513.3 913.6h0M516.9 908.6h0M540.1 925.3h0M539.8 920.5h0M512.4 910.4h0M507.4 905.6h0M527.9 923.0h0M519.1 920.4h0M523.0 922.9h0M494.6 896.1h0M531.1 922.8h0M504.5 899.9h0M529.0 921.9h0M540.2 923.6h0M501.0 900.3h0M509.9 915.3h0M506.0 913.2h0M539.2 925.9h0M519.1 903.4h0M500.9 888.0h0M539.3 903.7h0M529.0 898.0h0M535.4 918.3h0M539.0 908.1h0M503.6 900.1h0M510.4 908.8h0M529.1 908.1h0M534.9 908.6h0M530.6 905.6h0M498.7 891.2h0M539.8 923.2h0M522.5 898.5h0M496.9 894.5h0M524.5 922.3h0M506.7 904.1h0M523.3 923.4h0M529.1 904.0h0M537.6 912.5h0M509.5 908.7h0M512.3 900.4h0M511.2 898.3h0M509.5 898.2h0M512.0 914.7h0M506.6 913.7h0M528.0 916.3h0M524.3 902.0h0M530.2 922.6h0M514.9 898.8h0M534.1 924.4h0M502.4 902.8h0M532.7 919.1h0M506.6 892.4h0M500.8 893.7h0M518.5 910.5h0M500.9 887.6h0M524.9 919.8h0M520.9 902.1h0M500.5 887.7h0M522.2 916.1h0M522.8 903.2h0M504.0 911.6h0M530.8 910.5h0M534.4 915.9h0M514.0 910.9h0M504.2 892.2h0M506.8 907.7h0M525.7 904.8h0M501.2 890.2h0M507.9 911.0h0M527.4 912.4h0M506.0 909.8h0M503.7 911.2h0M510.7 893.3h0M527.1 919.6h0M533.9 923.2h0M525.1 904.1h0M512.4 896.4h0M527.5 909.7h0M531.2 917.1h0M491.9 894.6h0M500.2 905.6h0M530.8 918.3h0M544.1 916.5h0M534.0 925.9h0M530.3 904.0h0M525.9 913.9h0M521.0 901.1h0M540.5 910.6h0M513.6 912.0h0M509.7 902.2h0M538.2 906.8h0M541.4 908.1h0M518.9 918.8h0M498.3 899.9h0M498.1 898.8h0M497.2 895.8h0M528.8 900.0h0M524.8 906.3h0M525.3 923.2h0M499.2 898.9h0M541.6 925.2h0M501.8 909.9h0M530.8 900.8h0M502.8 899.6h0M532.1 909.2h0M510.8 916.4h0M511.4 908.0h0M537.3 915.9h0M509.6 899.9h0M522.0 905.3h0M497.7 896.0h0M540.6 919.8h0M507.6 906.8h0M515.0 912.6h0M502.5 894.6h0M512.5 905.7h0M541.9 917.3h0M523.3 897.6h0M498.8 891.0h0M520.0 918.4h0M510.4 912.9h0M520.2 914.0h0M511.5 901.2h0M501.6 890.6h0M539.8 924.7h0M532.9 916.4h0M522.5 904.4h0M529.1 924.3h0M537.6 916.3h0M532.2 904.2h0M518.9 913.0h0M571.5 907.3h0M595.6 922.6h0M601.9 931.7h0M583.6 914.7h0M599.7 932.0h0M607.3 941.2h0M577.8 915.3h0M598.1 940.9h0M577.9 909.5h0M594.8 944.0h0M577.5 911.8h0M596.7 922.8h0M592.0 907.1h0M574.7 910.5h0M574.1 907.3h0M565.0 915.0h0M602.1 949.5h0M603.3 932.9h0M577.7 915.4h0M593.8 928.2h0M589.8 927.0h0M582.7 920.4h0M596.6 913.1h0M574.1 916.8h0M598.1 925.4h0M584.9 914.7h0M591.9 912.2h0M588.3 910.0h0M566.5 912.3h0M592.4 916.2h0M579.6 919.9h0M597.5 914.6h0M594.8 929.9h0M569.1 911.9h0M589.1 916.2h0M586.3 921.6h0M603.4 940.3h0M581.1 908.3h0M602.3 946.0h0M601.6 940.1h0M605.0 936.6h0M586.6 918.7h0M603.2 931.1h0M599.1 926.8h0M604.8 949.4h0M578.4 917.8h0M605.8 944.3h0M585.9 911.1h0M572.8 912.9h0M567.1 914.0h0M602.9 953.9h0M602.0 930.0h0M575.7 918.5h0M579.7 920.7h0M578.8 919.4h0M571.3 906.3h0M602.0 919.3h0M603.0 945.9h0M606.7 928.0h0M589.3 906.4h0M579.4 914.2h0M571.8 910.3h0M607.2 950.1h0M597.3 942.8h0M600.7 935.7h0M590.1 923.9h0M585.4 910.9h0M585.3 918.2h0M590.5 913.1h0M605.4 941.3h0M605.3 955.3h0M580.6 907.2h0M602.5 919.5h0M599.8 945.6h0M597.4 927.8h0M585.6 920.6h0M579.7 915.9h0M603.6 953.8h0M598.1 923.1h0M584.2 908.9h0M604.1 923.1h0M593.4 915.2h0M585.1 922.9h0M579.3 918.8h0M600.8 941.6h0M586.6 909.7h0M587.6 923.9h0M602.1 914.9h0M600.4 929.0h0M583.7 905.9h0M605.1 955.2h0M602.3 922.6h0M600.0 938.3h0M580.3 908.7h0M577.4 905.8h0M586.7 921.9h0M597.0 936.2h0M590.5 925.1h0M602.8 920.7h0M582.8 921.7h0M591.1 919.0h0M595.0 910.8h0M595.5 942.0h0M583.5 918.0h0M574.7 916.1h0M578.5 906.0h0M603.3 923.6h0M593.9 916.2h0M569.7 913.7h0M585.4 912.5h0M605.2 952.5h0M576.5 912.8h0M572.1 910.0h0M599.1 912.3h0M575.0 918.1h0M600.4 944.1h0M606.8 950.2h0M605.0 922.0h0M604.5 941.2h0M597.1 924.2h0M574.5 906.6h0M585.8 910.2h0M599.0 933.6h0M606.6 943.7h0M574.5 909.5h0M596.0 949.6h0M591.5 915.6h0M586.5 918.6h0M601.4 935.7h0M574.7 904.4h0M575.7 914.6h0M569.5 912.3h0M576.5 917.6h0M572.9 919.2h0M604.1 953.0h0M607.4 937.7h0M576.3 907.7h0M588.9 926.8h0M606.7 943.4h0M605.0 921.0h0M602.1 920.3h0M607.9 938.1h0M604.8 951.3h0M591.3 918.8h0M597.6 941.4h0M589.8 920.4h0M605.0 942.4h0M602.5 923.2h0M589.6 922.5h0M605.9 938.6h0M607.4 943.1h0M576.7 919.6h0M593.5 908.8h0M598.5 933.7h0M578.7 919.3h0M600.0 946.2h0M580.8 911.8h0M602.1 937.7h0M594.5 940.3h0M597.0 931.4h0M568.5 914.9h0M577.6 906.5h0M586.9 909.1h0M608.4 950.5h0M602.8 941.7h0M599.6 914.5h0M596.8 942.5h0M582.4 921.3h0M607.3 933.8h0M586.9 919.8h0M606.8 944.6h0M596.2 929.6h0M602.8 953.5h0M607.2 944.4h0M575.7 916.1h0M603.1 951.9h0M604.9 938.9h0M563.9 910.7h0M591.4 916.6h0M601.2 939.1h0M604.7 936.8h0M574.6 906.7h0M604.8 927.7h0M585.8 914.7h0M600.0 951.4h0M576.9 903.5h0M592.5 907.4h0M596.9 914.2h0M599.7 931.2h0M586.4 923.9h0M606.9 933.4h0M606.9 932.9h0M593.8 912.5h0M593.2 938.1h0M593.4 930.8h0M587.2 921.2h0M597.1 928.7h0M599.9 919.9h0M571.6 914.7h0M599.9 952.5h0M589.3 921.2h0M602.5 939.2h0M599.3 934.6h0M595.9 921.2h0M599.2 934.8h0M600.9 945.4h0M572.0 906.7h0M571.2 916.7h0M578.4 906.7h0M601.8 949.6h0M574.9 904.9h0M582.4 910.3h0M582.3 922.4h0M600.3 931.5h0M594.6 940.6h0M586.6 909.5h0M593.6 910.9h0M596.6 913.5h0M588.6 915.6h0M594.9 915.8h0M602.7 926.1h0M598.9 920.3h0M584.3 909.0h0M607.1 927.0h0M599.4 945.7h0M573.1 914.0h0M591.1 921.7h0M568.0 909.1h0M604.6 927.8h0M593.5 934.4h0M602.1 917.4h0M574.0 907.1h0M571.4 919.0h0M604.2 936.1h0M607.1 927.0h0M584.6 923.4h0M597.7 934.6h0M590.4 917.9h0M591.5 907.0h0M580.2 912.2h0M577.6 907.5h0M593.8 929.5h0M575.7 918.0h0M602.3 940.4h0M599.4 933.4h0M599.9 935.2h0M598.2 923.3h0M603.7 919.3h0M601.0 915.1h0M601.4 931.8h0M604.3 927.9h0M602.0 925.1h0M605.1 927.2h0M586.3 922.0h0M590.5 907.9h0M595.0 914.8h0M581.7 909.5h0M592.0 930.7h0M599.0 922.2h0M577.7 912.4h0M585.0 914.6h0M594.2 916.1h0M577.7 918.4h0M608.5 937.0h0M588.5 919.8h0M592.5 909.1h0M596.7 931.2h0M601.3 915.8h0M574.6 914.6h0M600.3 939.5h0M577.3 917.8h0M597.1 950.8h0M585.9 922.4h0M591.6 924.8h0M592.3 920.0h0M579.5 910.0h0M599.5 934.6h0M604.5 926.9h0M600.8 936.1h0M578.7 915.2h0M584.8 920.9h0M582.4 916.9h0M592.1 927.9h0M605.6 945.1h0M599.3 938.7h0M584.2 909.0h0M585.3 909.0h0M596.7 934.6h0M586.6 907.5h0M594.7 925.2h0M576.7 913.8h0M592.7 926.5h0M577.7 907.0h0M586.2 909.9h0M598.8 941.0h0M595.0 927.1h0M599.9 937.3h0M601.7 936.8h0M600.2 928.4h0M580.9 913.5h0M594.8 928.9h0M567.0 917.6h0M575.1 907.3h0M577.3 907.6h0M586.7 909.4h0M605.5 949.7h0M594.3 910.4h0M596.6 933.1h0M605.7 927.3h0M597.8 919.0h0M596.3 916.7h0M593.6 931.7h0M603.5 951.7h0M598.1 941.2h0M596.2 930.7h0M577.7 917.7h0M595.1 944.5h0M584.6 913.9h0M593.2 934.8h0M586.8 918.8h0M605.7 931.7h0M595.4 928.4h0M604.1 953.5h0M591.9 925.7h0M605.6 928.3h0M575.0 918.5h0M598.9 930.4h0M607.1 937.4h0M600.3 931.6h0M600.5 914.2h0M596.6 923.5h0M595.4 934.3h0M602.9 951.0h0M577.5 915.4h0M584.4 910.0h0M604.1 944.5h0M579.0 908.8h0M587.7 914.7h0M593.4 938.3h0M600.7 942.7h0M602.7 950.4h0M597.8 916.9h0M597.1 925.0h0M599.4 916.4h0M574.1 918.4h0M596.3 919.6h0M576.2 908.8h0M586.1 913.5h0M601.3 933.6h0M585.1 920.2h0M566.7 918.3h0M602.8 934.5h0M605.5 941.9h0M592.2 911.6h0M595.5 945.0h0M572.6 909.9h0M601.7 944.3h0M585.9 911.8h0M575.6 910.5h0M601.6 931.3h0M576.2 912.9h0M565.6 909.5h0M596.5 940.2h0M595.4 924.6h0M595.2 926.5h0M589.7 922.6h0M599.1 931.9h0M601.6 923.8h0M589.0 907.1h0M569.2 918.1h0M574.4 917.9h0M603.6 948.2h0M607.8 945.1h0M591.9 928.6h0M590.6 913.4h0M580.0 915.9h0M583.3 918.8h0M607.4 929.6h0M567.0 914.8h0M595.3 947.5h0M586.4 924.9h0M581.6 907.9h0M583.7 905.1h0M596.2 932.3h0M602.5 953.7h0M590.2 920.0h0M576.7 910.3h0M607.2 941.4h0M574.9 907.0h0M585.7 921.0h0M594.1 921.7h0M576.6 911.2h0M570.1 912.3h0M600.7 950.6h0M598.5 914.1h0M606.0 932.9h0M569.2 909.0h0M597.5 949.8h0M566.9 914.9h0M572.0 910.3h0M573.7 916.4h0M568.3 917.9h0M596.6 924.9h0M570.4 917.4h0M604.2 934.6h0M566.8 909.1h0M578.2 909.2h0M593.5 909.6h0M573.0 907.9h0M602.0 949.7h0M591.7 920.5h0M567.9 909.6h0M596.8 927.4h0M599.3 926.5h0M570.9 908.3h0M594.4 925.9h0M566.6 909.1h0M581.2 909.9h0M581.4 910.1h0M590.6 920.0h0M586.3 911.6h0M607.2 946.7h0M590.1 913.8h0M581.9 905.4h0M605.3 931.4h0M593.0 925.8h0M571.0 913.6h0M599.8 933.8h0M587.1 913.6h0M564.6 912.0h0M593.2 908.3h0M573.4 915.0h0M587.1 917.7h0M598.9 923.7h0M602.1 930.3h0M607.1 950.1h0M586.2 915.8h0M599.5 927.0h0M604.1 919.3h0M582.5 911.3h0M593.4 908.5h0M606.0 943.7h0M576.3 915.3h0M589.8 911.0h0M591.5 918.8h0M572.8 913.3h0M595.4 917.2h0M605.6 943.8h0M606.7 940.6h0M608.7 944.8h0M601.2 931.4h0M583.9 911.0h0M599.7 919.9h0M602.7 946.5h0M586.6 906.3h0M598.1 950.4h0M565.2 913.1h0M606.8 946.6h0M587.8 923.2h0M567.4 911.1h0M599.8 929.9h0M578.8 911.0h0M586.1 908.6h0M600.5 928.8h0M585.6 918.4h0M598.3 927.6h0M592.4 924.6h0M573.4 908.4h0M604.6 932.5h0M579.7 911.2h0M571.6 916.5h0M603.6 953.2h0M597.1 949.8h0M589.7 911.9h0M603.0 919.6h0M579.4 914.9h0M600.8 946.9h0M598.2 926.7h0M607.3 934.1h0M577.1 908.1h0M598.2 936.8h0M600.5 932.8h0M581.5 921.8h0M591.7 912.6h0M602.6 952.3h0M597.0 947.4h0M597.2 917.6h0M599.7 947.7h0M602.8 927.1h0M598.5 940.1h0M596.4 941.3h0M576.8 919.8h0M589.4 914.4h0M593.9 916.0h0M565.8 912.7h0M578.5 903.8h0M591.5 908.9h0M584.2 921.2h0M601.1 953.4h0M598.0 930.4h0M583.1 908.0h0M608.0 943.9h0M586.3 906.7h0M598.1 917.9h0M594.4 938.4h0M605.3 921.8h0M597.5 917.9h0M598.2 921.2h0M607.2 952.8h0M599.3 917.4h0M591.4 916.3h0M588.7 911.6h0M608.9 945.2h0M578.6 918.4h0M596.0 942.0h0M601.0 941.3h0M579.9 905.5h0M584.4 917.2h0M599.8 922.6h0M607.2 944.9h0M577.7 918.4h0M593.2 935.1h0M571.4 912.1h0M594.5 925.0h0M609.1 949.1h0M582.3 906.0h0M596.9 927.5h0M590.5 927.0h0M596.3 930.0h0M576.5 908.4h0M576.9 917.3h0M597.5 935.0h0M593.2 921.0h0M579.3 911.4h0M595.2 912.3h0M602.8 927.8h0M580.2 904.9h0M592.8 926.5h0M568.0 917.2h0M607.9 935.0h0M603.6 951.3h0M592.3 915.5h0M602.8 915.4h0M576.1 915.4h0M596.6 927.5h0M597.6 911.1h0M606.7 934.8h0M601.5 921.3h0M586.1 918.0h0M586.0 922.0h0M579.0 906.5h0M600.3 930.4h0M605.5 954.1h0M590.0 926.2h0M603.3 946.7h0M608.6 942.8h0M594.4 934.6h0M603.9 953.5h0M590.6 917.2h0M600.1 936.1h0M602.5 937.1h0M575.4 909.7h0M601.0 932.1h0M583.9 915.0h0M599.8 936.0h0M603.5 926.4h0M590.5 910.5h0M580.0 906.7h0M570.8 914.0h0M589.5 915.5h0M580.6 921.3h0M569.1 916.2h0M578.8 910.2h0M571.0 916.9h0M580.4 918.5h0M606.7 928.3h0M585.5 912.3h0M583.6 920.4h0M597.0 946.8h0M598.8 946.9h0M588.5 907.7h0M609.5 945.2h0M602.7 946.1h0M588.9 926.4h0M605.0 920.5h0M606.7 939.2h0M588.0 931.1h0M555.3 956.3h0M587.1 956.2h0M553.2 924.6h0M557.1 955.6h0M573.2 947.6h0M548.3 942.3h0M580.5 961.8h0M585.5 928.8h0M561.8 958.3h0M583.4 960.8h0M576.4 932.3h0M570.1 941.7h0M562.5 955.4h0M591.7 929.3h0M563.9 962.8h0M583.1 924.9h0M548.1 930.8h0M557.5 931.3h0M577.6 924.4h0M564.5 954.0h0M559.3 938.1h0M561.9 932.2h0M555.1 951.5h0M589.0 964.1h0M549.4 946.3h0M593.2 937.0h0M582.4 930.5h0M581.8 940.1h0M572.3 924.8h0M595.4 941.1h0M582.1 963.0h0M558.2 952.4h0M570.7 927.5h0M566.0 921.3h0M592.3 953.0h0M586.9 949.2h0M549.9 942.5h0M570.7 951.6h0M592.5 958.5h0M579.5 960.8h0M563.9 962.9h0M564.4 963.4h0M573.4 932.1h0M555.9 938.3h0M566.5 941.0h0M566.0 963.1h0M586.1 951.1h0M550.5 950.3h0M575.2 946.2h0M570.3 943.3h0M563.4 957.1h0M549.2 934.1h0M572.1 930.0h0M589.8 949.1h0M553.9 927.2h0M580.0 958.0h0M570.0 959.4h0M563.5 963.5h0M598.5 946.6h0M573.6 957.8h0M561.8 953.0h0M551.7 926.7h0M575.4 920.8h0M551.2 928.4h0M571.8 954.8h0M573.7 920.3h0M595.1 942.8h0M566.6 958.3h0M575.4 941.3h0M570.0 944.7h0M588.2 925.1h0M574.6 958.2h0M556.3 954.4h0M563.4 959.1h0M596.5 954.7h0M553.7 951.0h0M558.5 951.8h0M558.7 957.3h0M555.7 952.7h0M607.4 928.6h0M608.1 923.7h0M609.9 929.2h0M608.8 923.6h0M609.9 923.5h0M605.0 925.1h0M607.9 922.9h0" stroke="#f1cf7a" stroke-width="1.6" stroke-linecap="round" fill="none"/>
<path d="M425.9 776.7h0M420.6 776.7h0M414.3 788.5h0M420.3 791.4h0M425.5 775.7h0M424.1 795.9h0M412.2 775.9h0M415.7 770.2h0M395.0 790.6h0M421.7 789.8h0M415.5 769.9h0M386.9 782.1h0M403.8 779.9h0M402.5 786.2h0M401.5 770.4h0M406.2 773.3h0M395.2 796.5h0M424.7 779.6h0M404.4 795.9h0M419.9 776.6h0M412.4 770.5h0M395.9 768.6h0M423.9 797.8h0M416.1 792.7h0M424.4 770.1h0M404.4 794.5h0M417.1 784.0h0M389.8 798.2h0M417.7 786.0h0M402.4 767.8h0M395.8 772.1h0M401.2 794.5h0M386.9 796.3h0M427.7 775.2h0M410.2 796.2h0M412.1 772.5h0M411.1 774.3h0M409.4 768.9h0M395.8 789.1h0M389.5 790.7h0M401.8 773.6h0M409.4 783.8h0M426.9 769.8h0M400.8 783.9h0M403.1 769.0h0M423.0 794.1h0M393.1 776.2h0M399.5 789.5h0M422.3 789.1h0M398.7 799.2h0M401.3 784.1h0M418.0 801.0h0M408.5 791.9h0M395.6 787.7h0M424.3 789.7h0M392.3 778.1h0M387.0 789.2h0M394.8 794.5h0M412.1 790.6h0M397.6 797.8h0M404.5 771.3h0M413.4 782.5h0M408.1 778.4h0M414.4 790.4h0M408.3 770.7h0M418.4 790.1h0M426.6 783.2h0M411.3 774.7h0M411.7 796.1h0M416.1 791.7h0M399.3 784.6h0M414.1 777.2h0M419.1 782.5h0M394.4 784.0h0M390.7 779.6h0M391.0 773.2h0M390.4 796.2h0M419.0 794.5h0M426.4 785.6h0M419.8 778.3h0M413.5 787.5h0M413.0 800.0h0M390.7 777.6h0M402.2 783.9h0M395.5 786.9h0M417.4 795.1h0M423.7 778.0h0M413.8 799.7h0M399.2 791.9h0M395.2 782.8h0M386.3 792.6h0M414.8 781.1h0M415.6 775.3h0M418.2 787.5h0M389.7 780.3h0M420.8 779.3h0M391.5 796.9h0M407.1 789.2h0M401.4 794.5h0M416.0 782.3h0M395.4 788.5h0M419.4 798.5h0M420.2 782.7h0M401.1 792.0h0M386.2 784.2h0M395.4 783.8h0M421.6 782.6h0M415.5 802.1h0M387.8 790.6h0M407.1 795.9h0M403.3 775.4h0M426.4 786.7h0M414.1 795.1h0M390.4 793.7h0M422.1 796.6h0M385.5 785.3h0M409.6 792.9h0M422.5 768.8h0M410.4 776.5h0M422.4 783.0h0M404.3 783.5h0M402.0 795.3h0M417.0 786.4h0M395.8 798.0h0M399.5 792.0h0M396.5 769.2h0M412.9 788.5h0M398.7 772.8h0M421.8 784.2h0M423.1 786.4h0M400.8 790.5h0M391.2 798.5h0M404.4 796.7h0M406.9 785.9h0M393.9 786.7h0M394.1 770.2h0M426.3 788.8h0M404.3 790.8h0M404.5 790.9h0M413.0 795.7h0M411.2 776.6h0M415.5 769.2h0M398.7 791.2h0M424.3 790.8h0M422.2 781.2h0M412.9 789.0h0M423.4 773.8h0M387.5 796.5h0M422.3 771.5h0M407.6 797.4h0M412.0 800.5h0M398.2 769.5h0M409.5 786.2h0M398.1 791.6h0M416.1 787.7h0M406.9 795.7h0M396.3 773.8h0M428.1 779.7h0M424.4 790.5h0M416.4 785.7h0M407.1 783.7h0M410.1 767.9h0M412.2 768.5h0M420.6 784.3h0M402.3 779.9h0M406.8 772.1h0M416.8 790.5h0M406.4 793.1h0M419.9 791.0h0M388.7 793.6h0M407.4 799.7h0M411.0 790.5h0M393.7 772.7h0M415.9 780.7h0M412.7 799.4h0M422.4 772.6h0M417.5 777.4h0M404.2 785.7h0M405.4 768.4h0M420.3 777.3h0M415.1 798.0h0M404.8 775.0h0M400.5 769.6h0M389.8 789.0h0M422.2 768.8h0M392.1 793.9h0M404.8 792.7h0M410.0 793.9h0M421.5 774.7h0M405.7 772.7h0M416.2 781.7h0M387.4 786.2h0M399.2 799.5h0M388.6 785.8h0M420.1 787.4h0M389.7 783.9h0M424.1 783.3h0M417.9 772.0h0M417.8 779.4h0M391.1 785.1h0M420.8 776.3h0M416.6 796.5h0M410.7 787.9h0M418.7 792.9h0M400.7 787.0h0M403.8 779.9h0M397.1 775.7h0M390.5 776.5h0M402.5 799.2h0M424.0 774.8h0M397.7 782.4h0M403.8 777.7h0M426.2 779.9h0M405.7 800.4h0M417.0 795.8h0M402.5 780.1h0M422.5 791.7h0M402.6 793.7h0M414.8 789.1h0M404.1 799.3h0M413.4 783.4h0M417.3 780.2h0M399.5 784.7h0M409.0 767.7h0M406.9 768.3h0M411.1 802.0h0M389.3 786.7h0M398.7 783.0h0M405.4 788.4h0M420.1 796.3h0M403.1 786.4h0M414.8 786.9h0M389.9 788.6h0M391.5 798.3h0M385.7 794.1h0M387.1 796.9h0M416.3 781.0h0M395.4 798.1h0M405.1 794.2h0M400.3 788.2h0M412.3 785.4h0M426.9 784.6h0M422.3 780.3h0M404.3 791.9h0M401.5 768.2h0M421.2 778.1h0M424.2 768.3h0M403.0 796.5h0M394.2 791.0h0M392.2 792.6h0M394.9 797.0h0M398.0 792.4h0M402.5 785.4h0M392.1 795.7h0M403.3 778.4h0M413.5 791.3h0M426.5 782.8h0M402.2 778.3h0M415.3 772.2h0M400.3 797.3h0M424.9 782.6h0M425.0 783.9h0M400.1 768.2h0M402.2 785.7h0M408.7 777.1h0M395.0 778.5h0M417.3 791.1h0M390.2 793.3h0M394.6 779.7h0M391.8 775.7h0M400.2 788.1h0M422.8 799.7h0M417.6 770.9h0M393.7 779.8h0M416.3 772.1h0M426.2 780.2h0M392.1 783.3h0M390.7 784.3h0M404.9 792.9h0M418.8 792.5h0M404.5 777.0h0M414.5 780.9h0M413.0 799.1h0M393.2 780.6h0M404.2 793.4h0M424.9 772.1h0M385.4 789.3h0M395.4 796.3h0M396.5 780.7h0M404.2 767.9h0M402.7 779.3h0M407.2 779.1h0M412.8 787.0h0M391.8 794.2h0M392.8 782.6h0M418.4 774.5h0M392.6 796.9h0M415.8 781.7h0M416.1 783.8h0M388.2 795.1h0M399.8 795.9h0M387.3 790.5h0M406.3 777.1h0M421.2 772.8h0M407.9 782.4h0M420.4 778.0h0M389.6 788.6h0M418.0 797.3h0M420.9 797.6h0M424.2 771.4h0M402.0 778.2h0M415.0 775.5h0M392.0 783.5h0M412.3 794.1h0M403.4 772.3h0M406.9 777.8h0M414.9 769.0h0M398.7 790.0h0M408.1 793.8h0M412.1 784.3h0M427.2 774.3h0M411.9 796.6h0M394.9 798.9h0M404.6 773.6h0M412.6 796.2h0M394.4 798.1h0M386.2 785.5h0M400.5 772.7h0M412.7 782.5h0M389.5 785.3h0M397.4 770.0h0M413.8 775.9h0M419.8 773.2h0M407.1 790.5h0M427.4 774.8h0M425.3 782.5h0M394.0 795.1h0M405.3 780.8h0M401.1 791.1h0M418.9 799.0h0M421.3 776.3h0M398.9 767.9h0M396.9 787.8h0M401.5 795.5h0M417.8 782.3h0M416.8 796.4h0M396.8 768.2h0M421.4 790.8h0M397.1 776.9h0M401.7 786.2h0M389.7 780.2h0M427.4 769.3h0M419.3 799.2h0M395.7 771.3h0M416.6 780.1h0M404.1 783.3h0M386.1 790.6h0M405.1 799.4h0M389.9 788.1h0M413.5 777.7h0M394.5 775.9h0M423.2 771.5h0M403.2 773.1h0M426.4 773.6h0M395.2 788.7h0M400.8 779.9h0M413.5 776.2h0M388.3 794.3h0M396.4 789.8h0M410.7 782.6h0M417.5 768.4h0M392.2 781.2h0M390.3 776.3h0M400.9 780.4h0M401.8 792.0h0M427.3 773.4h0M391.8 790.6h0M422.5 794.7h0M399.0 791.4h0M411.2 792.1h0M397.0 767.8h0M408.2 771.3h0M403.5 768.3h0M416.7 783.5h0M426.3 772.3h0M409.2 795.0h0M415.9 792.3h0M417.3 792.7h0M395.5 770.4h0M412.5 780.4h0M407.2 771.3h0M397.9 783.7h0M416.0 782.9h0M398.7 791.2h0M415.2 781.4h0M393.1 780.8h0M391.9 777.1h0M398.5 793.5h0M405.1 772.3h0M417.4 801.6h0M407.3 795.4h0M424.3 778.4h0M401.4 766.2h0M396.2 765.9h0M399.1 759.7h0M410.5 762.2h0M402.8 759.4h0M394.5 758.7h0M400.0 750.8h0M394.4 760.6h0M397.1 748.7h0M404.5 765.9h0M398.2 754.6h0M402.2 764.4h0M406.2 750.0h0M408.2 753.6h0M397.0 753.7h0M393.9 753.9h0M402.0 753.3h0M403.7 762.8h0M403.3 756.0h0M402.3 753.9h0M403.9 748.0h0M394.1 764.2h0M402.7 748.4h0M404.2 751.3h0M408.6 764.5h0M401.7 756.2h0M401.7 767.8h0M400.0 749.5h0M401.0 759.3h0M404.5 757.5h0M405.5 763.2h0M402.1 749.5h0M400.5 761.1h0M394.9 765.1h0M410.9 758.6h0M396.8 752.2h0M408.9 753.8h0M401.5 765.0h0M406.9 752.9h0M403.3 759.8h0M402.4 754.2h0M395.9 750.8h0M403.9 757.4h0M401.7 763.2h0M393.8 763.6h0M406.9 752.2h0M402.7 770.3h0M398.8 767.6h0M406.6 755.3h0M410.8 769.1h0M420.2 761.0h0M426.1 748.3h0M421.1 754.3h0M419.3 751.7h0M427.0 773.9h0M423.1 756.8h0M408.8 754.5h0M421.9 744.2h0M414.8 757.7h0M421.5 745.0h0M426.4 758.1h0M420.8 762.9h0M412.5 766.4h0M428.3 756.1h0M421.6 766.8h0M417.1 757.4h0M416.5 764.2h0M423.4 773.9h0M415.0 746.1h0M408.6 759.2h0M425.4 745.6h0M418.8 764.4h0M420.0 749.2h0M419.3 762.0h0M426.9 761.6h0M425.5 744.1h0M411.3 762.4h0M427.3 752.3h0M411.6 766.4h0M413.2 749.2h0M413.8 749.3h0M417.8 750.3h0M412.6 761.3h0M419.7 757.4h0M422.0 744.1h0M427.9 766.0h0M412.7 754.9h0M416.9 771.6h0M425.6 759.7h0M409.8 764.8h0M424.4 747.1h0M423.3 762.7h0M417.7 767.0h0M423.5 748.9h0M427.6 773.6h0M416.1 772.5h0M420.9 745.2h0M412.4 761.5h0M417.0 755.2h0M416.1 769.6h0M423.9 767.6h0M420.7 757.9h0M418.9 741.8h0M417.7 747.1h0M409.7 753.5h0M409.1 755.9h0M414.9 748.4h0M411.0 749.8h0M423.1 773.7h0M414.8 755.2h0M411.2 748.6h0M413.5 767.9h0M425.9 763.8h0M416.7 759.3h0M413.7 753.8h0M414.8 749.8h0M409.7 766.8h0M417.3 770.7h0M417.6 760.4h0M423.0 765.7h0M424.4 746.4h0M427.7 764.6h0M407.9 745.0h0M408.4 759.3h0M421.2 770.0h0M416.5 761.4h0M410.2 770.9h0M417.9 748.9h0M426.9 770.7h0M408.4 754.0h0M420.3 745.3h0M420.6 771.4h0M410.2 760.6h0M418.0 752.9h0M409.4 744.9h0M420.5 763.6h0M416.2 770.4h0M410.3 765.7h0M412.1 772.7h0M410.8 744.6h0M425.2 766.0h0M424.9 743.8h0M421.5 751.2h0M416.6 751.6h0M427.0 773.2h0M416.9 755.3h0M414.1 765.9h0M421.6 762.7h0M428.1 763.4h0M414.5 764.1h0M417.2 759.5h0M423.7 760.3h0M418.8 762.6h0M419.8 752.3h0M424.4 772.9h0M408.1 752.8h0M410.2 758.2h0M426.1 768.9h0M417.3 754.3h0M424.7 769.5h0M411.3 756.7h0M411.3 765.0h0M411.3 745.7h0M410.2 765.8h0M410.2 750.8h0M411.4 764.3h0M411.9 749.4h0M414.8 757.7h0M414.0 747.9h0M415.1 753.9h0M415.5 751.4h0M407.9 755.8h0M416.3 745.4h0M416.4 748.9h0M422.9 743.2h0M419.7 754.8h0M417.6 760.7h0M423.6 754.3h0M427.1 769.1h0M415.5 754.0h0M408.8 753.0h0M415.2 745.6h0M419.1 774.7h0M425.5 753.2h0M422.8 752.0h0M417.9 743.1h0M422.3 773.9h0M408.1 755.5h0M420.5 756.5h0M417.3 752.0h0M417.1 747.1h0M426.7 757.3h0M419.9 751.6h0M418.5 758.8h0M412.3 765.6h0M413.6 749.5h0M412.1 769.3h0M413.7 751.2h0M421.5 761.1h0M426.6 752.0h0M414.2 751.4h0M410.9 770.7h0M412.2 743.8h0M412.4 752.7h0M413.3 744.9h0M413.6 751.5h0M420.7 757.5h0M422.4 753.4h0M424.1 764.5h0M422.1 768.8h0M416.6 770.3h0M419.2 755.1h0M415.9 769.4h0M418.8 772.0h0M420.1 759.0h0M414.2 752.9h0M415.1 743.3h0M428.2 768.5h0M416.2 746.4h0M418.3 767.2h0M416.6 764.6h0M423.1 746.5h0M410.2 768.8h0M423.0 756.2h0M413.4 746.9h0M424.1 758.0h0M416.3 742.6h0M420.6 767.9h0M421.0 760.5h0M421.2 766.3h0M419.8 748.4h0M413.6 755.0h0M411.2 753.2h0M426.4 755.4h0M414.9 766.4h0M419.6 766.6h0M419.4 747.7h0M412.2 771.6h0M411.1 757.5h0M414.4 748.5h0M413.8 752.4h0M420.5 768.2h0M408.6 747.5h0M413.4 762.9h0M407.7 757.8h0M420.8 761.2h0M414.5 746.8h0M416.7 758.4h0M423.3 764.4h0M410.7 759.3h0M423.7 763.8h0M416.9 756.6h0M425.0 768.7h0M416.1 771.1h0M420.3 771.6h0M410.3 746.2h0M423.7 756.5h0M426.2 750.0h0M427.4 768.8h0M408.5 753.0h0M421.4 746.1h0M426.0 758.8h0M419.2 767.5h0M421.3 746.0h0M409.2 758.8h0M410.6 751.9h0M410.4 747.2h0M419.0 750.6h0M418.0 759.8h0M412.9 765.0h0M421.8 751.6h0M425.2 765.1h0M409.0 754.7h0M419.8 754.4h0M417.1 760.7h0M412.7 757.8h0M414.7 750.4h0M419.5 749.0h0M416.3 764.8h0M417.5 749.4h0M412.0 750.3h0M416.2 765.5h0M414.7 759.4h0M424.1 746.7h0M426.5 768.4h0M410.4 746.8h0M423.0 743.3h0M425.9 752.9h0M419.6 750.4h0M417.9 754.7h0M423.1 755.5h0M415.8 749.0h0M412.8 765.0h0M415.4 769.2h0M410.9 769.7h0M424.4 751.4h0M419.9 768.1h0M414.6 750.8h0M420.3 758.1h0M416.7 755.7h0M414.3 768.8h0M412.4 767.4h0M416.1 744.6h0M423.5 757.4h0M415.5 753.1h0M414.6 747.1h0M421.3 760.7h0M424.1 748.4h0M423.4 742.6h0M423.0 770.2h0M418.2 752.2h0M426.2 750.3h0M427.3 763.2h0M408.0 745.7h0M423.6 753.0h0M420.1 774.4h0M414.3 757.2h0M422.2 772.5h0M412.6 745.0h0M408.2 759.4h0M427.7 770.0h0M413.1 765.5h0M424.6 756.1h0M419.3 750.7h0M411.3 752.5h0M426.9 756.0h0M425.8 763.6h0M418.0 771.2h0M422.8 750.4h0M426.3 763.5h0M410.5 771.9h0M424.7 749.8h0M420.9 749.7h0M422.6 751.4h0M413.3 748.0h0M425.3 767.3h0M425.4 762.2h0M407.8 748.7h0M410.6 767.0h0M415.3 763.4h0M414.3 760.8h0M410.8 749.4h0M423.8 758.6h0M425.4 763.5h0M428.6 762.5h0M421.1 769.8h0M413.5 773.1h0M414.8 761.2h0M422.7 765.6h0M422.0 764.8h0M422.3 749.7h0M409.9 760.9h0M424.2 756.2h0M415.0 771.5h0M411.3 752.2h0M420.0 742.8h0M425.1 754.9h0M423.8 765.0h0M426.4 748.4h0M428.6 762.6h0M414.6 765.8h0M420.1 763.4h0M408.7 752.8h0M412.0 753.2h0M417.5 749.3h0M410.1 765.7h0M420.7 746.1h0M411.8 769.4h0M420.2 768.5h0M424.8 754.5h0M416.2 763.3h0M410.3 768.0h0M425.7 764.3h0M422.6 750.4h0M417.4 767.9h0M416.2 769.2h0M425.0 750.4h0M422.3 746.3h0M408.1 750.2h0M411.0 762.8h0M425.0 744.2h0M417.0 745.0h0M480.0 877.4h0M450.0 837.3h0M432.2 808.2h0M479.9 872.1h0M485.6 882.3h0M452.2 838.3h0M466.1 856.3h0M472.2 864.0h0M450.7 841.0h0M489.0 886.9h0M464.1 860.1h0M449.3 834.4h0M439.5 818.1h0M443.1 827.6h0M463.9 850.2h0M434.7 813.6h0M459.6 844.3h0M472.3 866.1h0M451.6 837.5h0M451.1 838.9h0M485.0 886.2h0M490.0 890.2h0M469.6 862.0h0M433.9 816.5h0M485.8 888.3h0M455.2 845.0h0M450.5 836.7h0M487.0 885.1h0M458.8 848.0h0M438.0 816.2h0M431.5 809.4h0M445.2 836.6h0M475.6 868.5h0M428.7 804.8h0M434.3 814.0h0M425.3 804.6h0M462.3 850.7h0M476.0 870.2h0M463.2 852.7h0M468.7 861.6h0M475.0 874.0h0M484.8 887.1h0M440.6 824.3h0M434.6 810.4h0M456.2 841.7h0M478.3 871.7h0M473.9 871.1h0M440.8 824.4h0M486.7 885.4h0M476.1 870.3h0M449.6 836.3h0M455.7 850.6h0M442.9 822.6h0M482.8 880.9h0M461.9 852.8h0M444.1 824.9h0M434.1 814.9h0M459.9 848.4h0M455.1 844.0h0M437.1 821.1h0M491.0 887.0h0M440.7 826.1h0M450.6 834.8h0M447.6 831.8h0M425.7 801.2h0M484.8 882.1h0M470.5 863.0h0M434.1 818.7h0M429.3 810.7h0M468.7 862.5h0M424.9 801.0h0M437.7 819.9h0M478.7 872.0h0M486.5 886.7h0M423.9 801.5h0M426.6 806.4h0M448.4 834.1h0M463.3 854.9h0M431.1 808.2h0M458.4 850.7h0M446.3 831.5h0M436.9 822.8h0M429.3 807.9h0M429.7 806.5h0M425.6 804.7h0M447.2 833.7h0M516.3 902.4h0M518.4 917.3h0M540.8 926.7h0M512.7 919.3h0M508.7 903.9h0M529.2 918.2h0M528.4 913.3h0M516.3 909.1h0M527.6 904.4h0M541.4 907.2h0M531.7 899.8h0M530.1 918.5h0M514.0 917.7h0M494.0 902.6h0M514.8 918.9h0M503.6 889.4h0M508.3 891.7h0M508.1 899.2h0M494.7 898.8h0M507.1 891.4h0M503.1 889.4h0M534.3 901.0h0M535.6 923.5h0M530.0 912.3h0M503.0 897.7h0M533.8 922.3h0M506.7 892.5h0M516.5 911.4h0M540.8 911.6h0M509.0 897.2h0M497.0 902.4h0M536.9 919.3h0M525.4 916.3h0M502.7 906.9h0M515.6 912.4h0M510.4 894.6h0M522.2 897.3h0M507.7 898.3h0M533.1 923.9h0M523.7 911.1h0M533.0 906.2h0M502.1 888.4h0M497.1 906.4h0M500.1 905.7h0M543.2 906.9h0M514.0 914.3h0M528.5 912.2h0M530.3 909.0h0M519.3 913.2h0M534.0 921.3h0M511.9 915.7h0M523.2 916.6h0M504.0 904.3h0M498.8 892.8h0M503.2 904.3h0M523.0 901.0h0M538.8 918.9h0M498.0 889.3h0M540.9 920.2h0M504.9 911.0h0M505.9 893.4h0M512.9 905.6h0M530.7 906.9h0M519.1 922.4h0M529.8 904.4h0M500.3 899.8h0M531.8 904.2h0M527.0 914.3h0M516.4 912.1h0M530.0 918.3h0M537.5 910.8h0M503.0 905.5h0M542.6 919.6h0M516.2 895.2h0M507.6 906.3h0M502.3 891.6h0M538.6 907.5h0M498.3 888.0h0M519.4 916.2h0M529.9 903.2h0M497.9 906.2h0M519.1 901.3h0M519.4 896.4h0M525.7 918.5h0M500.9 908.6h0M527.3 910.0h0M517.2 918.0h0M497.1 897.1h0M527.8 925.0h0M522.7 918.2h0M527.3 909.8h0M529.2 905.7h0M526.7 918.4h0M536.7 924.1h0M541.8 908.8h0M506.3 911.3h0M513.5 906.0h0M523.2 906.4h0M515.6 901.8h0M532.1 909.3h0M502.3 905.9h0M536.0 913.5h0M512.8 899.4h0M519.2 909.4h0M524.1 912.1h0M526.0 897.5h0M527.9 920.5h0M499.9 891.1h0M532.0 908.2h0M526.4 921.0h0M502.6 899.5h0M513.8 903.1h0M540.8 911.2h0M498.1 904.2h0M525.3 898.0h0M519.3 902.0h0M505.6 893.3h0M494.6 893.9h0M541.1 917.3h0M516.2 904.1h0M491.4 891.4h0M496.7 889.6h0M541.1 922.6h0M540.4 921.0h0M504.7 893.4h0M501.9 901.7h0M536.2 923.6h0M539.7 922.8h0M517.8 903.8h0M522.4 915.2h0M540.2 913.9h0M492.3 895.4h0M519.3 909.0h0M539.1 905.4h0M514.7 909.0h0M527.9 908.0h0M529.2 900.3h0M511.1 918.5h0M514.6 918.9h0M504.9 902.4h0M515.0 895.7h0M540.7 916.3h0M536.3 913.2h0M516.7 909.9h0M494.5 897.3h0M531.0 926.0h0M523.0 897.0h0M512.6 904.2h0M541.3 921.3h0M532.3 900.8h0M537.6 905.1h0M540.4 915.2h0M509.0 911.5h0M522.4 902.6h0M511.8 893.8h0M520.4 921.1h0M495.8 889.6h0M520.5 903.3h0M540.6 928.1h0M541.8 918.4h0M492.0 896.3h0M534.3 914.4h0M536.8 908.2h0M529.7 925.9h0M532.7 921.8h0M527.2 911.8h0M500.8 904.0h0M513.4 908.6h0M538.1 917.7h0M506.2 912.8h0M539.7 927.4h0M500.6 898.7h0M535.9 919.6h0M499.2 901.7h0M495.5 895.1h0M519.2 900.4h0M522.6 901.1h0M521.8 896.1h0M541.4 907.0h0M540.9 923.5h0M535.9 924.5h0M534.5 901.6h0M539.0 907.7h0M502.6 897.9h0M536.3 915.6h0M504.9 912.7h0M533.0 916.5h0M527.8 898.1h0M508.2 897.2h0M509.3 913.4h0M519.3 916.5h0M494.4 898.7h0M503.3 908.5h0M517.5 901.9h0M505.4 890.6h0M525.3 899.7h0M504.9 896.1h0M501.7 903.8h0M537.1 909.3h0M516.6 907.9h0M521.7 923.6h0M540.9 915.4h0M501.4 902.5h0M510.9 895.7h0M526.1 907.2h0M512.2 897.0h0M519.6 904.2h0M528.2 898.6h0M502.6 891.8h0M542.2 910.0h0M540.1 905.7h0M516.2 895.7h0M524.9 916.0h0M492.6 896.1h0M527.3 906.3h0M501.8 905.0h0M500.1 890.1h0M523.3 905.8h0M607.5 936.0h0M585.0 921.5h0M581.8 914.5h0M588.6 919.4h0M590.9 907.3h0M606.1 944.8h0M608.8 942.7h0M595.1 924.7h0M571.8 911.6h0M599.8 926.9h0M606.0 943.0h0M604.9 939.2h0M571.8 910.6h0M589.8 925.6h0M568.2 913.2h0M583.9 923.9h0M597.3 937.0h0M576.5 904.2h0M596.8 924.3h0M579.1 917.2h0M605.2 947.6h0M589.8 912.2h0M591.1 911.8h0M575.2 915.3h0M598.5 929.9h0M585.1 907.5h0M594.8 929.0h0M594.9 923.2h0M592.2 918.7h0M584.1 915.4h0M576.4 916.7h0M576.0 903.9h0M601.4 947.8h0M595.9 910.2h0M604.3 923.0h0M603.2 932.7h0M596.9 913.3h0M602.4 923.1h0M582.7 913.4h0M583.5 908.5h0M598.9 931.5h0M600.5 925.2h0M595.7 940.8h0M587.2 918.5h0M574.9 919.2h0M591.2 920.1h0M579.1 917.2h0M602.7 950.1h0M596.8 947.1h0M594.4 925.7h0M598.9 948.1h0M596.9 947.4h0M574.8 940.2h0M599.1 949.2h0M574.8 935.8h0M576.4 930.9h0M571.7 926.5h0M565.0 946.3h0M590.6 939.6h0M562.7 935.1h0M579.5 936.6h0M587.4 948.6h0M576.8 964.4h0M573.4 951.4h0M572.3 957.7h0M568.1 922.4h0M564.7 954.3h0M580.5 944.3h0M570.8 940.2h0M574.0 921.5h0M588.7 938.8h0M587.8 960.5h0M555.5 954.3h0M557.6 928.9h0M564.9 956.8h0M593.4 941.2h0M584.6 964.8h0M554.3 924.7h0M575.3 945.6h0M565.4 940.0h0M552.0 932.5h0M559.7 959.4h0M577.5 963.6h0M556.3 947.5h0M553.6 948.8h0M558.5 921.7h0M585.2 925.7h0M551.0 942.0h0M588.2 926.0h0M590.4 957.1h0M565.1 953.1h0M580.3 954.3h0M559.8 962.3h0M583.1 937.6h0M557.3 932.3h0M566.3 952.1h0M548.7 935.8h0M550.4 943.2h0M559.1 923.6h0M578.1 925.4h0M585.4 959.8h0M569.6 941.4h0M558.6 941.5h0M568.1 950.2h0M564.6 935.2h0M564.1 941.8h0M567.2 953.2h0M583.1 938.9h0M594.7 943.1h0M575.2 925.1h0M588.1 950.9h0M553.7 957.0h0M568.0 963.5h0M579.4 947.5h0M570.9 958.5h0M548.4 935.8h0M574.9 945.2h0M586.0 967.2h0M580.4 942.8h0M581.7 934.4h0M586.2 968.2h0M585.7 955.1h0M594.8 932.0h0M581.8 960.8h0M595.1 940.6h0M573.4 931.5h0M589.4 936.1h0M554.3 931.8h0M587.2 966.6h0M590.6 960.3h0M553.7 939.1h0M576.9 954.9h0M584.1 949.2h0M580.2 964.8h0M590.9 934.0h0M549.8 946.6h0M575.5 922.0h0M577.8 957.6h0M577.5 921.9h0M568.8 946.6h0M556.7 935.6h0M559.5 948.2h0M594.4 959.9h0M574.8 929.3h0M585.0 925.8h0M555.0 921.6h0M594.4 956.6h0M572.4 952.4h0M560.8 933.1h0M569.0 953.5h0M567.6 953.5h0M573.2 947.0h0M571.0 936.3h0M573.8 955.1h0M564.3 925.2h0M570.1 925.4h0M591.1 934.8h0M558.0 923.6h0M568.0 941.5h0M567.7 957.9h0M557.6 958.8h0M580.6 933.6h0M579.8 939.4h0M583.2 941.7h0M583.5 925.7h0M590.4 949.6h0M575.2 922.9h0M549.2 934.5h0M563.3 934.5h0M585.9 939.6h0M581.1 958.5h0M559.8 954.6h0M589.2 937.7h0M583.8 935.1h0M578.7 949.0h0M549.6 942.3h0M561.9 937.0h0M570.6 963.2h0M560.0 922.0h0M571.7 965.6h0M579.8 959.4h0M583.0 961.8h0M566.2 954.2h0M592.0 931.3h0M553.5 948.3h0M558.8 926.7h0M557.5 955.3h0M597.0 950.7h0M568.8 947.8h0M580.3 929.9h0M563.4 953.1h0M574.8 921.1h0M554.8 954.3h0M567.0 927.1h0M583.5 931.3h0M587.6 944.9h0M595.2 941.2h0M549.9 931.1h0M578.5 929.5h0M554.4 933.4h0M570.1 956.7h0M571.2 961.7h0M559.2 957.3h0M587.0 963.5h0M585.0 935.4h0M589.7 944.2h0M597.1 938.9h0M597.7 946.0h0M597.5 951.4h0M590.7 965.3h0M558.1 952.9h0M552.1 930.1h0M590.9 933.0h0M569.0 940.7h0M571.6 948.0h0M578.2 964.8h0M581.0 932.0h0M573.5 950.6h0M568.6 960.3h0M571.1 920.7h0M559.9 939.5h0M571.8 961.4h0M567.7 940.5h0M571.9 962.2h0M558.4 961.9h0M578.0 931.7h0M561.2 937.1h0M578.3 964.2h0M596.5 950.0h0M557.6 953.9h0M550.4 946.0h0M591.3 958.1h0M566.4 954.9h0M597.2 938.0h0M593.6 934.5h0M563.2 936.5h0M565.0 920.3h0M562.6 953.7h0M552.0 930.2h0M551.9 942.5h0M554.0 935.7h0M563.2 935.5h0M585.5 927.8h0M596.5 955.1h0M561.8 924.8h0M572.8 935.3h0M594.1 961.0h0M559.4 931.0h0M556.3 935.2h0M590.9 932.7h0M562.2 930.4h0M566.0 953.9h0M557.0 959.5h0M576.0 960.6h0M592.1 930.4h0M557.3 949.6h0M559.8 948.6h0M559.6 946.6h0M551.9 941.0h0M586.9 926.0h0M562.8 929.6h0M565.6 950.9h0M572.6 936.1h0M581.1 952.8h0M572.6 935.9h0M586.3 949.5h0M553.3 929.7h0M555.4 947.2h0M579.4 959.4h0M593.8 929.4h0M565.0 964.7h0M589.5 946.7h0M582.0 959.3h0M580.1 965.1h0M577.2 939.3h0M561.7 940.7h0M587.7 931.4h0M556.2 930.9h0M579.2 960.9h0M577.1 938.8h0M576.4 957.2h0M573.2 930.9h0M568.1 957.5h0M579.9 955.8h0M548.8 938.5h0M558.9 960.6h0M549.9 932.6h0M569.4 931.6h0M572.6 941.9h0M582.9 925.7h0M576.1 923.2h0M584.3 927.5h0M563.5 958.3h0M569.6 944.5h0M566.1 921.5h0M572.3 964.2h0M578.1 946.9h0M582.7 929.1h0M584.7 960.3h0M574.7 931.4h0M587.2 959.3h0M589.6 933.9h0M594.2 938.7h0M577.7 939.8h0M573.4 949.2h0M589.3 940.1h0M579.1 944.7h0M587.9 956.3h0M551.5 941.5h0M559.7 940.8h0M561.4 938.2h0M578.1 954.7h0M572.1 934.2h0M563.1 943.7h0M581.2 948.7h0M580.0 952.3h0M594.3 937.1h0M588.1 955.2h0M549.7 949.7h0M570.9 956.3h0M588.5 926.5h0M572.5 934.9h0M553.4 926.3h0M565.7 932.4h0M576.4 924.1h0M583.1 929.2h0M593.2 941.8h0M595.7 958.8h0M564.9 947.3h0M550.8 941.5h0M568.3 951.2h0M579.5 954.6h0M585.8 929.9h0M581.6 930.9h0M593.6 944.3h0M576.8 948.4h0M589.3 954.0h0M587.4 941.8h0M596.3 939.2h0M590.5 962.7h0M567.5 925.6h0M567.9 960.6h0M591.7 947.0h0M582.5 964.9h0M573.2 937.0h0M590.5 953.7h0M583.6 964.9h0M551.8 949.7h0M553.7 954.5h0M565.7 957.6h0M568.8 941.4h0M573.8 933.4h0M570.2 925.6h0M597.5 943.0h0M576.4 967.5h0M591.7 944.8h0M551.2 951.8h0M559.1 931.0h0M566.4 955.4h0M571.4 952.0h0M572.9 937.4h0M563.8 944.6h0M577.1 925.4h0M561.0 920.8h0M579.7 935.4h0M573.2 929.6h0M578.6 932.9h0M564.2 933.3h0M561.9 959.5h0M560.1 929.8h0M573.4 936.8h0M577.7 928.5h0M559.6 926.4h0M583.2 958.2h0M597.0 948.4h0M549.1 942.5h0M568.5 920.4h0M594.4 944.4h0M576.0 944.5h0M553.2 946.6h0M570.3 958.8h0M566.4 957.2h0M582.3 961.7h0M598.4 953.0h0M567.1 956.0h0M586.3 945.5h0M559.3 942.7h0M595.8 952.0h0M578.8 952.4h0M562.8 952.8h0M594.7 956.2h0M591.9 937.8h0M592.7 935.8h0M560.2 955.8h0M558.5 923.1h0M586.2 965.4h0M582.0 924.0h0M589.9 947.6h0M568.4 959.5h0M593.3 932.9h0M555.1 944.5h0M598.0 943.5h0M563.0 936.0h0M553.8 930.7h0M579.4 926.2h0M569.5 962.6h0M569.8 955.4h0M586.8 944.6h0M570.3 947.0h0M571.7 925.8h0M559.9 930.6h0M585.4 942.2h0M574.9 923.8h0M550.0 944.3h0M564.8 945.0h0M583.7 957.9h0M573.4 934.7h0M565.6 939.1h0M590.6 937.5h0M580.0 945.6h0M596.6 958.2h0M549.0 942.9h0M578.6 924.4h0M569.8 935.2h0M567.5 960.7h0M557.9 942.2h0M565.0 949.4h0M578.4 958.1h0M560.4 929.3h0M596.1 954.2h0M590.8 942.2h0M558.1 927.8h0M558.4 939.7h0M591.2 935.7h0M568.0 954.6h0M585.9 942.5h0M595.1 947.3h0M596.6 947.5h0M549.6 932.7h0M582.7 948.3h0M575.3 960.8h0M553.1 925.6h0M560.1 934.0h0M598.2 948.7h0M553.3 956.8h0M588.6 927.9h0M569.3 949.3h0M577.0 927.5h0M570.8 924.3h0M572.5 920.1h0M584.1 935.0h0M581.0 956.1h0M575.4 929.7h0M568.1 919.8h0M568.0 949.2h0M588.1 951.1h0M571.7 944.6h0M558.4 933.6h0M564.7 930.7h0M561.8 962.7h0M596.4 952.0h0M597.2 952.6h0M583.8 948.9h0M548.7 936.0h0M569.8 961.2h0M558.2 933.5h0M581.7 947.5h0M567.7 964.8h0M578.7 922.2h0M558.4 960.7h0M592.5 948.3h0M596.0 942.5h0M572.5 926.2h0M549.8 938.9h0M570.6 926.0h0M589.3 933.9h0M571.7 955.6h0M556.8 930.8h0M560.3 939.3h0M586.7 927.5h0M555.4 927.6h0M565.3 923.0h0M577.0 941.2h0M551.8 926.4h0M549.2 938.6h0M577.3 961.4h0M567.3 932.5h0M551.0 947.7h0M556.1 931.4h0M598.1 946.6h0M567.3 920.3h0M561.1 930.6h0M567.3 956.2h0M563.1 925.8h0M551.0 943.0h0M567.1 963.2h0M580.8 947.2h0M587.4 927.6h0M558.9 922.2h0M585.7 940.8h0M547.9 942.3h0M588.1 946.7h0M596.0 952.5h0M595.9 961.5h0M556.2 929.6h0M550.5 934.4h0M583.6 957.3h0M584.9 965.7h0M554.9 954.1h0M576.8 965.8h0M596.1 945.6h0M592.7 961.4h0M561.1 926.5h0M581.4 966.7h0M565.4 938.0h0M548.9 930.6h0M550.2 948.7h0M566.3 950.7h0M571.9 922.6h0M551.0 935.0h0M574.1 934.4h0M576.5 948.2h0M568.1 953.6h0M587.3 955.3h0M577.0 946.0h0M560.7 949.3h0M584.5 934.1h0M582.6 927.0h0M550.4 952.1h0M591.6 955.6h0M581.6 955.6h0M584.0 943.0h0M570.7 944.2h0M585.3 946.2h0M590.1 935.8h0M582.6 956.1h0M567.1 946.6h0M585.2 930.9h0M564.7 920.0h0M558.6 920.9h0M593.7 935.5h0M548.7 942.0h0M562.4 931.3h0M561.4 963.2h0M550.5 934.1h0M583.1 959.4h0M555.1 934.2h0M549.6 929.3h0M593.1 954.9h0M561.2 953.3h0M590.0 929.3h0M567.2 956.8h0M563.1 953.0h0M580.2 962.0h0M595.2 931.7h0M587.1 955.4h0M597.2 947.6h0M570.9 922.6h0M583.2 947.3h0M584.8 938.3h0M554.2 942.2h0M558.8 950.4h0M594.2 940.8h0M575.9 922.8h0M580.1 941.8h0M596.4 949.4h0M580.9 948.7h0M572.2 958.4h0M571.5 953.5h0M560.7 926.4h0M588.0 947.4h0M574.3 929.3h0M562.8 955.4h0M589.0 929.2h0M579.7 949.2h0M563.1 942.7h0M583.4 937.9h0M565.3 947.7h0M583.2 949.5h0M559.4 959.8h0M563.8 933.0h0M585.4 928.5h0M581.5 932.7h0M562.3 958.0h0M578.0 926.3h0M585.1 964.3h0M549.0 942.3h0M586.4 966.7h0M570.1 924.2h0M563.6 947.4h0M595.1 933.4h0M574.5 928.7h0M561.4 941.0h0M552.5 932.7h0M565.6 956.4h0M593.7 956.2h0M587.8 928.5h0M588.5 928.0h0M590.0 952.9h0M578.2 930.7h0M557.3 950.0h0M591.9 933.7h0M557.7 925.6h0M555.7 937.8h0M590.2 933.3h0M590.3 931.0h0M571.1 920.6h0M574.3 938.4h0M580.1 965.4h0M574.8 955.5h0M575.7 946.3h0M577.8 933.0h0M576.3 928.8h0M565.3 939.3h0M586.3 954.7h0M573.4 964.9h0M569.4 931.0h0M566.2 934.6h0M573.7 965.3h0M588.5 933.3h0M585.9 924.9h0M584.6 949.9h0M582.8 936.2h0M570.5 919.5h0M572.8 932.0h0M586.0 928.2h0M582.5 952.5h0M574.4 929.6h0M582.7 936.8h0M559.5 946.2h0M569.0 965.9h0M558.9 954.8h0M550.1 935.1h0M568.2 947.7h0M585.2 948.2h0M561.9 931.5h0M572.4 929.0h0M582.3 954.7h0M571.7 943.1h0M548.2 944.3h0M567.2 949.5h0M565.5 926.1h0M575.7 936.4h0M595.7 963.0h0M560.8 960.0h0M573.9 936.3h0M593.0 943.5h0M590.2 934.0h0M580.7 964.3h0M581.0 957.1h0M564.6 946.8h0M578.6 962.0h0M593.8 941.7h0M581.2 936.1h0M582.3 937.9h0M552.6 930.7h0M595.7 935.0h0M565.4 930.2h0M549.7 950.9h0M547.9 940.0h0M570.2 966.5h0M560.6 937.3h0M590.2 960.4h0M580.3 926.0h0M570.0 947.3h0M579.5 945.5h0M568.0 950.1h0M569.2 934.6h0M590.0 931.7h0M559.6 936.8h0M595.6 935.9h0M595.7 943.9h0M577.7 931.1h0M558.4 929.3h0M594.0 958.0h0M568.8 946.5h0M566.1 953.4h0M557.5 940.6h0M588.0 964.7h0M563.6 939.2h0M571.2 950.2h0M590.6 928.4h0M582.5 965.6h0M591.8 935.1h0M549.0 940.1h0M580.6 960.3h0M568.3 943.9h0M582.0 955.7h0M575.1 957.3h0M574.7 956.0h0M562.8 923.5h0M550.0 942.7h0M580.7 934.6h0M556.9 961.2h0M589.3 962.9h0M573.9 958.5h0M569.1 929.4h0M572.7 933.6h0M551.2 938.1h0M559.2 940.3h0M557.2 923.9h0M569.8 958.3h0M580.2 941.6h0M554.5 958.1h0M564.8 945.9h0M563.0 960.3h0M574.2 920.3h0M554.2 948.2h0M587.2 943.4h0M558.1 953.1h0M555.3 923.6h0M598.2 947.1h0M572.1 956.3h0M562.5 934.5h0M578.8 936.7h0M558.3 939.3h0M590.0 957.5h0M554.2 947.9h0M569.7 961.6h0M564.8 924.7h0M577.2 948.0h0M566.2 923.2h0M594.5 949.2h0M564.8 931.8h0M552.3 946.3h0M562.8 962.1h0M562.2 953.7h0M584.6 928.1h0M571.9 966.5h0M568.5 962.7h0M592.2 959.3h0M554.5 943.5h0M594.2 951.4h0M563.2 946.7h0M571.2 934.7h0M565.1 933.8h0M554.9 952.6h0M591.1 946.0h0M586.3 943.2h0M578.3 953.8h0M550.7 943.3h0M583.9 935.2h0M565.8 930.8h0M582.1 959.0h0M586.2 935.2h0M590.5 929.9h0M579.8 928.9h0M573.8 957.5h0M581.9 923.3h0M592.6 964.7h0M561.9 936.5h0M562.8 959.4h0M592.8 929.7h0M573.4 945.3h0M583.8 960.2h0M565.3 938.3h0M574.5 964.8h0M564.4 963.9h0M570.0 963.8h0M571.7 928.6h0M593.7 939.9h0M572.9 930.5h0M567.7 955.9h0M572.6 965.3h0M587.7 955.3h0M586.1 924.8h0M572.2 925.9h0M563.9 932.4h0M570.5 926.8h0M567.4 949.1h0M576.0 958.7h0M595.4 961.1h0M585.0 941.9h0M562.5 926.4h0M586.1 967.1h0M573.4 948.4h0M552.8 938.2h0M562.3 926.9h0M593.6 943.4h0M588.4 925.9h0M575.7 948.5h0M578.6 933.3h0M569.4 922.0h0M555.2 942.7h0M556.0 935.2h0M575.2 948.6h0M587.2 958.4h0M553.0 935.3h0M554.7 933.0h0M581.5 947.5h0M556.4 945.1h0M590.8 963.7h0M583.2 923.0h0M578.7 926.0h0M558.2 942.8h0M579.5 950.7h0M548.3 937.9h0M565.3 921.0h0M570.5 952.9h0M569.3 962.3h0M551.0 927.2h0M571.9 958.6h0M553.0 930.9h0M568.1 925.8h0M571.8 948.5h0M585.9 946.0h0M558.0 961.3h0M552.6 930.4h0M580.6 933.1h0M552.7 943.7h0M587.8 925.6h0M571.8 949.1h0M584.8 927.0h0M566.5 926.5h0M563.2 937.6h0M577.1 943.1h0M579.9 966.4h0M594.5 961.2h0M589.5 951.1h0M570.6 927.4h0M568.1 952.2h0M577.3 958.0h0M561.1 920.7h0M551.1 932.7h0M591.2 934.8h0M577.1 934.7h0M571.1 961.3h0M561.1 946.4h0M561.1 962.9h0M575.7 960.0h0M568.7 920.9h0M571.0 958.1h0M586.4 955.0h0M586.8 962.6h0M573.6 948.9h0M594.6 931.9h0M548.9 930.1h0M577.6 925.5h0M570.4 919.1h0M581.4 962.9h0M548.4 933.9h0M576.1 961.1h0M571.1 958.0h0M563.3 922.2h0M562.7 928.9h0M583.5 951.5h0M595.1 961.5h0M568.1 951.7h0M591.6 940.0h0M590.0 930.2h0M566.1 942.5h0M592.8 943.4h0M565.0 959.8h0M595.3 935.1h0M575.0 930.1h0M560.6 957.5h0M573.0 949.6h0M559.6 947.6h0M556.2 960.2h0M592.5 932.6h0M587.1 953.2h0M566.4 942.9h0M568.3 957.0h0M551.4 938.5h0M564.7 941.8h0M552.9 945.7h0M549.2 931.1h0M575.7 941.7h0M570.3 949.3h0M548.9 942.8h0M574.4 933.9h0M576.0 924.6h0M577.0 938.9h0M557.4 923.9h0M570.3 923.2h0M573.6 945.8h0M560.9 934.2h0M584.8 944.1h0M561.4 926.5h0M569.6 944.7h0M584.7 950.9h0M580.0 944.6h0M581.5 962.8h0M576.2 964.6h0M557.5 943.9h0M565.8 963.6h0M580.6 922.3h0M592.1 956.3h0M556.4 937.5h0M565.9 948.6h0M565.9 963.1h0M579.1 952.8h0M588.0 926.1h0M563.5 950.0h0M559.9 937.0h0M579.3 926.9h0M596.2 954.6h0M568.1 957.5h0M556.8 938.3h0M556.4 943.4h0M584.1 941.5h0M587.8 959.2h0M596.2 952.5h0M554.9 955.6h0M550.7 930.9h0M591.7 960.1h0M548.2 940.8h0M564.6 957.7h0M552.9 949.7h0M565.6 924.6h0M558.2 952.0h0M558.6 950.3h0M588.1 933.3h0M569.1 941.3h0M594.9 962.7h0M561.6 957.5h0M549.4 943.1h0M552.8 924.7h0M576.5 922.5h0M559.3 935.9h0M553.4 941.4h0M575.7 959.2h0M548.9 929.0h0M568.3 929.7h0M555.2 943.0h0M549.4 935.3h0M555.7 926.8h0M556.8 949.1h0M594.8 939.3h0M562.8 957.2h0M587.6 961.6h0M588.8 960.1h0M582.4 940.4h0M580.3 959.8h0M572.0 920.7h0M550.7 935.7h0M563.8 942.3h0M572.7 943.8h0M593.9 951.2h0M582.5 961.5h0M569.5 945.3h0M586.9 966.3h0M561.0 925.8h0M580.3 926.6h0M556.8 932.1h0M575.3 960.0h0M559.0 940.9h0M569.4 965.6h0M596.3 956.6h0M564.5 955.0h0M548.0 940.1h0M575.3 921.6h0M578.2 941.3h0M558.4 948.6h0M565.4 925.3h0M583.5 937.8h0M592.2 939.0h0M566.5 942.4h0M597.0 949.7h0M593.2 944.5h0M585.7 962.1h0M591.2 957.0h0M554.4 952.9h0M595.1 954.9h0M587.6 952.8h0M570.6 949.3h0M565.7 942.9h0M571.0 948.8h0M566.2 923.1h0M576.3 945.6h0M550.5 937.9h0M586.1 951.7h0M564.3 954.0h0M548.9 934.3h0M569.6 950.5h0M597.5 939.1h0M573.4 950.8h0M574.6 958.5h0M582.9 946.9h0M583.7 965.7h0M558.4 924.0h0M564.4 945.8h0M588.3 944.7h0M566.6 947.6h0M551.5 944.7h0M563.4 947.0h0M569.1 927.9h0M562.7 929.5h0M590.1 932.4h0M567.8 920.5h0M593.9 949.7h0M582.9 927.4h0M550.8 938.3h0M589.3 963.2h0M566.2 960.5h0M550.2 936.7h0M594.5 944.8h0M561.1 929.0h0M576.0 935.3h0M558.8 936.1h0M585.9 924.3h0M598.3 944.3h0M562.1 929.5h0M561.5 952.8h0M558.1 953.8h0M548.0 931.2h0M570.5 939.8h0M559.8 936.5h0M556.5 939.6h0M583.1 956.3h0M588.9 965.9h0M595.5 961.6h0M575.4 943.4h0M589.1 934.0h0M564.3 922.2h0M557.6 954.0h0M584.8 955.8h0M591.4 932.4h0M573.0 946.8h0M553.4 939.7h0M577.6 965.7h0M573.4 950.4h0M595.2 958.4h0M585.4 941.4h0M550.9 929.2h0M576.0 961.6h0M560.1 920.9h0M556.8 923.9h0M583.0 942.4h0M581.5 925.3h0M593.8 942.4h0M562.0 921.2h0M584.7 951.8h0M558.7 921.4h0M593.3 940.5h0M564.6 950.3h0M575.0 932.7h0M589.4 948.7h0M555.6 935.1h0M555.6 953.1h0M584.0 925.9h0M560.8 925.6h0M573.9 944.0h0M567.4 921.7h0M594.5 937.4h0M560.4 943.2h0M560.2 924.9h0M595.3 948.6h0M550.4 936.5h0M563.9 950.4h0M587.6 948.3h0M562.0 921.5h0M567.6 952.9h0M586.8 940.0h0M571.5 952.6h0M562.7 952.3h0M563.1 928.1h0M566.5 942.2h0M550.6 950.2h0M559.4 936.7h0M573.3 961.0h0M589.3 927.5h0M568.6 931.6h0M590.0 943.6h0M594.4 951.7h0M576.9 963.4h0M590.9 932.1h0M594.9 946.0h0M560.8 952.0h0M562.3 956.6h0M579.0 943.0h0M557.7 943.2h0M577.7 963.4h0M573.7 930.3h0M557.8 949.2h0M586.8 963.1h0M582.5 941.3h0M572.5 931.7h0M569.0 928.8h0M587.7 939.9h0M589.3 936.5h0M574.3 924.5h0M592.1 933.6h0M593.5 960.5h0M565.9 939.4h0M577.0 928.9h0M578.4 945.3h0M563.9 931.5h0M597.3 953.9h0M564.9 950.1h0M557.6 932.1h0M579.2 924.7h0M592.4 930.4h0M567.0 941.4h0M570.3 938.6h0M569.4 953.5h0M590.3 962.5h0M569.9 949.9h0M549.4 939.5h0M554.4 926.5h0M554.9 928.0h0M577.9 954.6h0M597.9 945.7h0M566.1 959.8h0M572.8 957.1h0M588.1 933.3h0M582.9 937.9h0M597.0 954.4h0M585.8 938.9h0M593.4 948.7h0M591.8 953.7h0M569.1 946.6h0M558.0 936.2h0M556.2 956.8h0M558.1 926.0h0M553.0 935.4h0M574.2 927.1h0M593.7 939.4h0M567.0 925.2h0M564.7 948.2h0M598.6 949.7h0M587.2 926.4h0M564.6 942.1h0M570.7 942.3h0M592.9 956.6h0M564.0 957.1h0M570.6 932.4h0M558.9 922.0h0M595.8 957.7h0M577.7 932.9h0M559.5 925.1h0M582.6 965.8h0M586.8 934.3h0M562.3 943.5h0M561.4 958.3h0M576.3 941.9h0M596.7 954.6h0M587.1 958.4h0M569.5 951.1h0M573.8 949.9h0M571.1 954.6h0M574.1 934.0h0M589.1 966.7h0M574.2 936.2h0M549.8 940.9h0M555.6 948.4h0M565.9 962.9h0M593.9 953.7h0M589.9 950.0h0M576.3 961.7h0M590.6 928.9h0M557.9 960.1h0M571.5 922.5h0M583.0 955.7h0M588.7 966.5h0M566.9 927.1h0M569.7 941.7h0M570.3 944.5h0M568.0 965.2h0M591.5 936.9h0M577.7 960.5h0M580.6 927.1h0M587.3 934.3h0M561.6 946.2h0M593.6 938.9h0M575.6 948.9h0M569.5 927.3h0M591.9 951.2h0M597.0 948.0h0M561.3 945.4h0M582.7 932.1h0M576.8 967.4h0M570.2 949.6h0M557.7 926.4h0M574.4 943.6h0M551.6 932.3h0M567.9 950.0h0M596.2 939.8h0M585.2 933.0h0M570.3 938.7h0M588.9 962.2h0M577.3 936.1h0M580.2 942.1h0M586.5 947.1h0M553.9 953.8h0M576.1 928.6h0M555.3 927.1h0M593.6 956.4h0M597.3 955.5h0M593.8 952.4h0M561.2 946.2h0M595.6 943.8h0M575.9 957.3h0M556.1 937.6h0M566.2 951.3h0M586.9 956.5h0M570.8 943.9h0M588.1 928.9h0M563.5 942.6h0M593.5 954.5h0M577.0 952.7h0M587.7 945.8h0M554.9 924.3h0M548.8 930.3h0M588.7 933.5h0M579.9 961.5h0M558.1 955.9h0M584.7 948.6h0M589.5 963.2h0M584.4 954.9h0M576.3 965.1h0M597.7 942.7h0M576.8 935.1h0M559.2 941.7h0M581.1 956.3h0M586.2 966.2h0M588.7 933.4h0M549.5 936.8h0M587.0 935.4h0M556.9 925.0h0M590.7 928.3h0M583.2 953.7h0M559.7 948.7h0M595.3 958.6h0M584.3 954.8h0M583.0 944.9h0M572.8 934.6h0M561.9 950.1h0M553.5 940.7h0M569.4 946.3h0M567.3 954.9h0M573.3 932.1h0M570.0 939.0h0M559.8 944.5h0M575.9 964.5h0M582.0 957.0h0M556.9 948.4h0M572.6 955.4h0M566.7 926.3h0M574.1 920.1h0M576.2 965.5h0M588.3 962.3h0M589.7 945.4h0M549.4 929.4h0M594.7 950.4h0M596.5 945.9h0M562.7 948.9h0M567.0 963.0h0M576.2 953.3h0M582.9 925.5h0M568.9 952.5h0M585.9 924.1h0M562.6 961.8h0M568.7 930.4h0M585.5 933.0h0M570.1 937.7h0M580.4 923.4h0M595.5 943.0h0M562.5 961.3h0M554.6 960.4h0M558.6 957.2h0M549.6 951.9h0M562.5 961.0h0M558.5 962.2h0M556.4 958.2h0M551.0 950.9h0M556.4 960.7h0M553.4 951.7h0M551.6 947.4h0M562.3 963.0h0M552.1 947.6h0M552.1 948.9h0M554.7 956.3h0M549.4 953.8h0M555.7 951.4h0M554.1 951.5h0M558.3 951.5h0M557.5 954.6h0M550.8 950.0h0M557.6 962.4h0M554.4 957.8h0M556.3 950.3h0M553.3 954.9h0M553.9 959.7h0M553.1 956.3h0M558.5 953.0h0M559.2 957.0h0M550.9 951.6h0M556.2 953.1h0M551.8 949.9h0M552.8 955.1h0M558.9 953.8h0M550.7 955.0h0M554.5 959.9h0M551.9 947.9h0M558.3 951.9h0M556.5 961.5h0M554.0 951.4h0M557.0 955.7h0M556.0 960.9h0M552.3 949.9h0M560.5 963.0h0M553.1 955.3h0M559.9 954.4h0M605.3 926.2h0M608.9 927.1h0M606.3 928.3h0M607.6 925.6h0M608.1 923.8h0M605.3 925.5h0M604.9 921.9h0" stroke="#c6275e" stroke-width="1.6" stroke-linecap="round" fill="none"/>
<path d="M401.5 782.0h0M401.2 785.0h0M390.8 788.3h0M412.8 776.5h0M399.5 790.3h0M406.2 797.7h0M390.6 774.1h0M398.9 784.5h0M408.5 784.7h0M413.6 785.5h0M397.9 773.3h0M415.7 777.4h0M398.4 780.9h0M408.2 783.4h0M413.4 776.4h0M399.0 770.3h0M388.8 788.4h0M405.0 798.6h0M389.7 785.5h0M402.6 791.3h0M410.7 800.7h0M393.8 780.0h0M408.7 793.3h0M402.9 783.5h0M400.5 776.7h0M399.1 790.8h0M427.0 783.3h0M425.0 778.1h0M401.1 783.6h0M414.7 788.9h0M398.7 786.1h0M409.3 780.3h0M392.0 791.6h0M397.1 787.4h0M409.6 788.7h0M387.5 791.9h0M420.2 775.2h0M395.2 780.8h0M393.9 782.6h0M415.1 774.2h0M412.9 773.7h0M403.1 784.3h0M386.7 786.4h0M412.1 797.9h0M417.2 787.3h0M387.8 779.5h0M399.3 772.1h0M421.3 793.0h0M397.6 786.3h0M424.6 796.2h0M406.9 768.8h0M420.0 796.9h0M395.7 789.8h0M402.4 777.7h0M409.9 769.4h0M394.9 783.2h0M408.7 789.8h0M403.5 773.8h0M407.5 799.0h0M410.0 769.4h0M416.4 783.1h0M417.7 778.7h0M403.2 797.7h0M424.0 775.9h0M414.3 796.6h0M419.0 785.8h0M391.8 787.4h0M404.6 776.7h0M409.0 789.1h0M396.6 784.4h0M397.8 776.2h0M387.6 784.8h0M416.3 796.4h0M391.5 778.9h0M418.3 793.1h0M403.2 769.0h0M394.0 772.6h0M411.3 795.7h0M394.4 797.1h0M417.6 787.4h0M417.5 770.7h0M417.1 784.2h0M416.0 775.7h0M402.5 770.0h0M395.5 767.7h0M416.3 784.1h0M406.6 800.3h0M406.9 767.9h0M408.3 789.3h0M425.0 769.9h0M408.6 775.5h0M388.4 776.8h0M399.0 790.5h0M401.5 785.3h0M418.1 789.6h0M411.4 777.8h0M406.3 779.8h0M422.8 778.3h0M397.4 770.6h0M411.8 768.1h0M386.1 793.3h0M398.3 784.3h0M399.3 781.2h0M411.8 772.2h0M422.9 797.9h0M398.9 773.4h0M415.9 773.4h0M422.2 782.3h0M422.3 773.3h0M413.2 783.3h0M414.7 776.8h0M409.5 778.5h0M423.8 792.0h0M426.9 776.5h0M403.4 776.2h0M397.3 768.6h0M399.7 781.1h0M418.9 783.7h0M424.3 769.3h0M405.2 786.0h0M411.0 770.5h0M399.2 795.4h0M402.9 796.2h0M408.1 791.6h0M408.6 775.2h0M400.4 794.0h0M395.2 788.0h0M427.2 770.2h0M404.7 778.3h0M411.3 772.9h0M394.3 769.6h0M396.1 795.1h0M390.0 778.0h0M410.3 796.6h0M387.7 779.8h0M397.2 787.8h0M417.9 781.3h0M410.9 782.8h0M412.2 789.5h0M418.8 788.6h0M405.4 799.3h0M406.0 779.6h0M399.0 797.9h0M423.2 770.6h0M420.8 791.9h0M402.5 768.7h0M424.1 792.7h0M419.5 788.3h0M424.1 791.9h0M424.5 767.7h0M398.3 770.6h0M393.2 778.2h0M396.9 769.6h0M424.6 779.3h0M405.8 793.4h0M392.9 794.4h0M418.7 769.5h0M404.3 792.7h0M404.4 784.5h0M388.4 793.8h0M422.8 780.7h0M426.2 776.1h0M404.3 775.5h0M395.5 791.0h0M415.1 779.4h0M407.4 795.2h0M418.8 797.9h0M398.5 796.7h0M395.9 791.6h0M417.9 773.8h0M398.5 782.7h0M387.5 790.6h0M411.9 772.4h0M406.6 773.1h0M426.7 785.7h0M397.0 794.4h0M395.0 779.5h0M390.1 794.5h0M387.2 787.5h0M408.1 782.9h0M409.4 772.6h0M418.0 778.8h0M394.5 798.2h0M405.8 782.0h0M391.8 794.9h0M407.1 753.2h0M408.4 764.5h0M402.6 753.5h0M408.4 749.6h0M408.4 756.3h0M403.2 757.3h0M411.1 759.6h0M409.9 762.2h0M406.8 769.3h0M407.9 763.6h0M409.5 763.7h0M403.6 751.2h0M402.0 756.5h0M395.1 760.4h0M393.7 754.2h0M402.9 751.0h0M398.9 757.1h0M406.3 760.4h0M398.0 754.1h0M400.9 754.2h0M399.3 766.0h0M398.0 760.3h0M405.9 762.6h0M398.5 766.7h0M404.8 758.0h0M395.6 755.2h0M396.3 751.7h0M404.5 769.6h0M399.8 754.7h0M402.2 754.1h0M400.9 754.9h0M403.6 752.9h0M394.2 756.0h0M404.4 765.7h0M398.4 765.9h0M406.0 749.2h0M395.8 761.7h0M408.1 754.6h0M406.0 770.3h0M409.6 758.7h0M393.4 754.4h0M406.5 767.9h0M402.6 751.1h0M398.8 748.4h0M406.7 756.2h0M408.3 751.1h0M394.1 754.7h0M401.1 766.9h0M400.8 755.9h0M401.3 767.1h0M406.6 760.4h0M410.1 763.9h0M397.0 758.7h0M403.3 759.7h0M405.2 761.8h0M399.7 765.2h0M408.2 760.4h0M405.1 756.2h0M394.7 765.5h0M400.5 756.5h0M408.8 752.9h0M406.0 751.1h0M408.5 751.9h0M405.8 759.2h0M393.6 754.4h0M406.0 764.0h0M402.2 770.0h0M406.9 752.4h0M398.3 752.7h0M408.3 756.0h0M401.5 749.5h0M399.3 756.9h0M409.8 751.4h0M396.0 768.6h0M400.5 755.7h0M408.5 767.9h0M397.9 757.6h0M395.3 766.5h0M404.1 760.9h0M405.6 749.4h0M396.8 763.0h0M402.5 770.1h0M405.6 757.3h0M410.1 752.9h0M405.4 755.1h0M397.2 762.5h0M398.3 764.0h0M396.7 762.2h0M407.4 749.9h0M400.7 748.1h0M397.8 756.7h0M406.1 770.4h0M410.7 761.0h0M398.0 766.4h0M406.4 759.7h0M399.5 756.8h0M400.0 770.9h0M398.2 767.0h0M404.9 761.1h0M406.2 761.8h0M407.4 753.3h0M408.8 766.4h0M401.4 750.1h0M407.3 755.2h0M404.5 751.7h0M416.8 771.3h0M422.2 768.4h0M415.5 755.1h0M414.1 743.2h0M413.9 771.5h0M416.2 752.5h0M414.7 772.7h0M421.1 762.3h0M426.8 770.2h0M412.9 756.5h0M417.0 765.6h0M412.6 746.2h0M408.0 756.3h0M425.0 774.0h0M417.1 756.8h0M428.0 759.5h0M422.2 758.0h0M420.6 757.0h0M409.3 757.9h0" stroke="#f1cf7a" stroke-width="1.6" stroke-linecap="round" fill="none"/>
<path d="M599.7,895.7 C535,880 470,840 440,768" fill="none" stroke="#333" stroke-width="1.3"/>
<path d="M437.8,760.5 L436.5,771.5 L444.5,768 Z" fill="#333"/>
<path d="M775,404 C781,408 782,416 779,422 C776,428 772,430 768,431" fill="none" stroke="#e3a39b" stroke-width="3" stroke-linecap="round"/>
<path d="M724,430 C728,426 736,426 742,429 C744,432 740,434 732,434 C727,434 723,433 724,430 Z" fill="#e6a39b"/>
<path d="M747,428 C752,424 762,424 770,427 C774,430 772,434.5 764,434.5 C756,434.5 748,433 747,428 Z" fill="#e6a39b"/>
<path d="M712.8,425 C713,418 719,406 728,398 C736,394 744,396 748,395 C756,393.5 766,393 772,398 C777,403 777,414 773,421 C769,426 760,427 750,427 C742,427 737,425 732,425 C726,426 718,428 714,427.5 Z" fill="#ececec" stroke="#d2d2d2" stroke-width="0.9"/>
<path d="M745,420 C752,424 764,424 772,419 C770,425 762,427 750,427 C746,425 745,423 745,420 Z" fill="#dedede"/>
<path d="M734,412 C738,418 744,422 746,426" fill="none" stroke="#dadada" stroke-width="1"/>
<ellipse cx="738.5" cy="407" rx="3.2" ry="4.8" fill="#e7aaa2"/>
<path d="M721,416.5 L726,415.5" stroke="#b8b8b8" stroke-width="0.8"/>
<path d="M856,417 C864,419 869,423 868.5,427 C868,431 862,431.5 852,430.5 C844,429.8 836,428.8 829.2,428.1" fill="none" stroke="#e3a39b" stroke-width="1.6" stroke-linecap="round"/>
<path d="M806,423 C808,419 812,418 816,419 L818,421 C815,424 810,425 806,424.5 Z" fill="#e3a39b"/>
<path d="M839.5,421 C842,420 848,420 851.4,421 C852,424 849,425.5 844,425.5 C841,425.5 839,423.5 839.5,421 Z" fill="#e3a39b"/>
<path d="M796.4,405.9 C799,401 805,397 811.3,396.5 C818,397 824,399.5 830,400 C838,400.5 848,403 854.8,410.2 C858,413 858.5,417 857,419 C854,422 849.7,422.1 845,421.8 C838,421.5 832,420.8 828.4,420.4 C822,419.5 818,418 815.6,416.2 C810,413.5 806,411 802.8,410.2 C799.5,409 797,408 796.4,405.9 Z" fill="#ececec" stroke="#d2d2d2" stroke-width="0.9"/>
<path d="M828,420 C838,421.5 848,422 856,418 C854,421.5 849,422.3 845,422 C838,421.6 832,421 828,420 Z" fill="#dedede"/>
<ellipse cx="816.5" cy="403.4" rx="3.2" ry="3.5" fill="#e7aaa2"/>
<circle cx="805.4" cy="404.2" r="0.9" fill="#333"/>
<path d="M939,418 C955,420 972,418 982,421 C988,423 988,428 987,431" fill="none" stroke="#c9b8b4" stroke-width="1.9" stroke-linecap="round"/>
<path d="M872.3,407 C876,401 884,398 892,399 C902,398 912,399 920,401 C930,404 938,411 940,418 C941,424 936,427 928,428 C918,429 904,428 894,425 C886,421 878,415 874,412 Z" fill="#dcdcdc" stroke="#c4c4c4" stroke-width="0.9"/>
<path d="M900,424 C910,428 925,428 938,423 C936,428 926,430 914,430 Z" fill="#cfcfcf"/>
<path d="M885,420 L882,427 L888,427 M922,428 L926,430" fill="none" stroke="#c9b8b4" stroke-width="1.6" stroke-linecap="round"/>
<ellipse cx="895" cy="404.5" rx="3" ry="3.8" fill="#cfb7b4"/>
<circle cx="882.5" cy="405.8" r="0.9" fill="#5a3a3a"/>
<path d="M905,405 C908,410 910,414 912,418 M918,410 C920,414 921,416 922,419" stroke="#c2c2c2" stroke-width="0.8" fill="none"/>
<line x1="395.4" y1="450.8" x2="654.3" y2="450.8" stroke="#b7707f" stroke-width="1.1" stroke-dasharray="2,2.2"/>
<rect x="405.7" y="453.5" width="3.8" height="10.3" fill="#b55a6c"/>
<rect x="442" y="453.5" width="6.0" height="10.3" fill="#b55a6c"/>
<rect x="451" y="453.5" width="3.0" height="10.3" fill="#b55a6c"/>
<rect x="457.8" y="453.5" width="3.2" height="10.3" fill="#b55a6c"/>
<rect x="489.8" y="453.5" width="6.7" height="10.3" fill="#b55a6c"/>
<rect x="497.9" y="453.5" width="3.2" height="10.3" fill="#b55a6c"/>
<rect x="506.6" y="453.5" width="7.0" height="10.3" fill="#b55a6c"/>
<rect x="515" y="453.5" width="2.7" height="10.3" fill="#b55a6c"/>
<rect x="535" y="453.5" width="2.2" height="10.3" fill="#b55a6c"/>
<rect x="546.7" y="453.5" width="14.6" height="10.3" fill="#b55a6c"/>
<rect x="563" y="453.5" width="2.0" height="10.3" fill="#b55a6c"/>
<rect x="571.6" y="453.5" width="2.7" height="10.3" fill="#b55a6c"/>
<rect x="575.4" y="453.5" width="13.6" height="10.3" fill="#b55a6c"/>
<rect x="592" y="453.5" width="2.7" height="10.3" fill="#b55a6c"/>
<rect x="598.4" y="453.5" width="1.2" height="10.3" fill="#b55a6c"/>
<rect x="604.2" y="453.5" width="9.4" height="10.3" fill="#b55a6c"/>
<rect x="642.1" y="453.5" width="2.2" height="10.3" fill="#b55a6c"/>
<path d="M460,450.8 C490.1,383.0 566.4,383.0 598.7,450.8" fill="none" stroke="#8a8cab" stroke-width="0.9"/>
<path d="M500.3,450.8 C522.6,363.2 576.7,363.2 598.7,450.8" fill="none" stroke="#8a8cab" stroke-width="0.9"/>
<path d="M516.3,450.8 C535.1,348.7 580.4,348.7 598.7,450.8" fill="none" stroke="#8a8cab" stroke-width="0.9"/>
<path d="M536.4,450.8 C550.4,376.9 584.7,376.9 598.7,450.8" fill="none" stroke="#8a8cab" stroke-width="0.9"/>
<rect x="598.7" y="466.2" width="1.3" height="10.1" fill="#3b3b9a"/>
<rect x="599.5" y="479" width="10.6" height="10.3" fill="#7dd4c8"/>
<path d="M450.1,492.3 V613.7 H571.4" fill="none" stroke="#777" stroke-width="1"/>
<line x1="447.6" y1="492.3" x2="450.1" y2="492.3" stroke="#777" stroke-width="1"/>
<line x1="447.6" y1="526.6" x2="450.1" y2="526.6" stroke="#777" stroke-width="1"/>
<line x1="447.6" y1="560.4" x2="450.1" y2="560.4" stroke="#777" stroke-width="1"/>
<line x1="447.6" y1="594.2" x2="450.1" y2="594.2" stroke="#777" stroke-width="1"/>
<line x1="469.6" y1="613.7" x2="469.6" y2="616.2" stroke="#777" stroke-width="1"/>
<line x1="503.6" y1="613.7" x2="503.6" y2="616.2" stroke="#777" stroke-width="1"/>
<line x1="537.8" y1="613.7" x2="537.8" y2="616.2" stroke="#777" stroke-width="1"/>
<line x1="571.4" y1="613.7" x2="571.4" y2="616.2" stroke="#777" stroke-width="1"/>
<line x1="456.6" y1="589.3" x2="566.3" y2="521" stroke="#c2bcb8" stroke-width="1"/>
<circle cx="532.4" cy="497.2" r="3.4" fill="#4dbf8c"/>
<circle cx="515.2" cy="522.7" r="3.4" fill="#2e8b3e"/>
<circle cx="554.2" cy="527.9" r="3.4" fill="#7a5ca8"/>
<circle cx="559.3" cy="537.8" r="3.4" fill="#d593cf"/>
<circle cx="469.3" cy="549.2" r="3.4" fill="#4cc060"/>
<circle cx="484.8" cy="559.2" r="3.4" fill="#74b84a"/>
<circle cx="515.4" cy="556.5" r="3.4" fill="#e0336a"/>
<circle cx="531.3" cy="561.9" r="3.4" fill="#c94497"/>
<circle cx="458.6" cy="568" r="3.4" fill="#6d4ea8"/>
<circle cx="468.2" cy="589.2" r="3.4" fill="#5cc8c4"/>
<circle cx="481.6" cy="596.8" r="3.4" fill="#e8822a"/>
<circle cx="472.9" cy="607.2" r="3.4" fill="#d9a63a"/>
<circle cx="498.9" cy="607.4" r="3.4" fill="#4059a8"/>
<path d="M730,458.8 L929.8,458.8 L851.4,479.2 L809.7,479.2 Z" fill="#e4e2e2"/>
<path d="M749.4,527.8 C791.6,569.9 850.2,595.2 910.0,595.4" fill="none" stroke="#4db04a" stroke-width="1.6"/>
<path d="M748.7,614.5 C813.1,614.3 872.8,578.3 911.1,527.8" fill="none" stroke="#e0202a" stroke-width="1.6"/>
<path d="M750.2,577.8 C797.1,610.1 854.5,611.1 908.6,613.8" fill="none" stroke="#3a7cc0" stroke-width="1.6"/>
<line x1="732.2" y1="634.7" x2="923" y2="634.7" stroke="#111" stroke-width="1.1"/>
<path d="M921,631.2 L928.5,634.7 L921,638.2 Z" fill="#111"/>
<path d="M756.3,742.2 V907.8 H973.3" fill="none" stroke="#8a8580" stroke-width="1"/>
<line x1="753.2" y1="761.2" x2="756.3" y2="761.2" stroke="#8a8580" stroke-width="1"/>
<line x1="753.2" y1="793.0" x2="756.3" y2="793.0" stroke="#8a8580" stroke-width="1"/>
<line x1="753.2" y1="825.15" x2="756.3" y2="825.15" stroke="#8a8580" stroke-width="1"/>
<line x1="753.2" y1="857.25" x2="756.3" y2="857.25" stroke="#8a8580" stroke-width="1"/>
<line x1="753.2" y1="889.45" x2="756.3" y2="889.45" stroke="#8a8580" stroke-width="1"/>
<rect x="766.6" y="746.6" width="1.6" height="28.2" fill="#e41a1c"/>
<rect x="766.6" y="778.4" width="120.7" height="28.2" fill="#377eb8"/>
<rect x="766.6" y="810.2" width="108.4" height="28.9" fill="#4daf4a"/>
<rect x="766.6" y="842.3" width="66.5" height="28.9" fill="#984ea3"/>
<rect x="766.6" y="874.9" width="197.7" height="28.1" fill="#ff7f00"/>
<text x="80.5" y="31.5" font-size="24.9" fill="#000">TrackerSci: Tracking cell-type-specific proliferation and differentiation <tspan font-style="italic">in vivo</tspan></text>
<text x="389.4" y="57.3" font-size="20.72" text-anchor="start" fill="#000" >Homeostasis population</text>
<text x="708.0" y="57.7" font-size="20.7" text-anchor="start" fill="#000" >Dynamic cellular turnover</text>
<text x="6.1" y="340.0" font-size="16.3" text-anchor="start" fill="#000" >Mouse</text>
<text x="73.4" y="340.3" font-size="16.55" text-anchor="start" fill="#000" >Identify rare cell-genesis</text>
<text x="69.3" y="360.8" font-size="16.5" text-anchor="start" fill="#000" >in adult mammalian brains</text>
<circle cx="9.8" cy="376.1" r="4.6" fill="#e41a1c"/>
<text x="21.2" y="381.4" font-size="16.5" text-anchor="start" fill="#000" >Newborn brain cells</text>
<circle cx="177.6" cy="376.1" r="4.6" fill="#3b7cc0"/>
<circle cx="189.8" cy="376.1" r="4.6" fill="#c4c4c8"/>
<text x="199.7" y="381.4" font-size="16.5" text-anchor="start" fill="#000" >Global brain cells</text>
<text x="370.7" y="341.9" font-size="16.5" text-anchor="start" fill="#000" >Characterize molecular signatures</text>
<text x="438.2" y="359.9" font-size="16.5" text-anchor="start" fill="#000" >of newborn cells</text>
<text x="721.7" y="340.9" font-size="16.55" text-anchor="start" fill="#000" >Cell-type-specific changes of</text>
<text x="673.5" y="360.5" font-size="16.55" text-anchor="start" fill="#000" >proliferation and differentiation along aging</text>
<text x="389.4" y="461.7" font-size="12.15" text-anchor="end" fill="#000" >Sites</text>
<text x="389.9" y="474.7" font-size="12.15" text-anchor="end" fill="#000" >Promoter</text>
<text x="389.9" y="486.7" font-size="12.15" text-anchor="end" fill="#000" >Gene</text>
<text transform="translate(434.9,553.6) rotate(-90)" font-size="12.35" text-anchor="middle" fill="#000">TF motif accessibility</text>
<text x="455.2" y="631.8" font-size="12.35" text-anchor="start" fill="#000" >TF gene expression</text>
<text x="723.2" y="447.8" font-size="16.0" text-anchor="start" fill="#000" >Young</text>
<text x="811.4" y="447.8" font-size="16.2" text-anchor="start" fill="#000" >Adult</text>
<text x="891.7" y="447.8" font-size="16.1" text-anchor="start" fill="#000" >Aged</text>
<text x="685.9" y="502.8" font-size="14.78" text-anchor="start" fill="#000" >Neuronal progenitors</text>
<text x="685.9" y="520.4" font-size="14.78" text-anchor="start" fill="#000" >proliferation</text>
<text x="841.3" y="502.8" font-size="14.78" text-anchor="start" fill="#000" >Disease-associated</text>
<text x="841.3" y="520.4" font-size="14.78" text-anchor="start" fill="#000" >microglia proliferation</text>
<text x="746.1" y="563.8" font-size="14.78" text-anchor="end" fill="#000" >Oligodendrocyte</text>
<text x="746.1" y="581.5" font-size="14.78" text-anchor="end" fill="#000" >progenitors</text>
<text x="746.1" y="599.1" font-size="14.78" text-anchor="end" fill="#000" >differentiation</text>
<text x="939.8" y="638.4" font-size="16.1" text-anchor="start" fill="#000" >Aging</text>
<text x="6.1" y="660.0" font-size="16.3" text-anchor="start" fill="#000" >Human</text>
<text x="89.8" y="673.7" font-size="16.55" text-anchor="start" fill="#000" >snRNA-seq of ~800k</text>
<text x="32.4" y="693.5" font-size="16.55" text-anchor="start" fill="#000" >human brain cells across five regions</text>
<circle cx="10.2" cy="714.0" r="4.6" fill="#e41a1c"/>
<text x="21.2" y="719.2" font-size="16.5" text-anchor="start" fill="#000" >Newborn mouse cells</text>
<circle cx="189.5" cy="714.0" r="4.6" fill="#c4c4c8"/>
<text x="199.7" y="719.2" font-size="16.5" text-anchor="start" fill="#000" >Human brain cells</text>
<text x="367.3" y="673.3" font-size="16.52" text-anchor="start" fill="#000" >Conserved and differing features of</text>
<text x="346.1" y="693.1" font-size="16.57" text-anchor="start" fill="#000" >oligodendrogenesis in human and mouse</text>
<text x="699.6" y="683.0" font-size="16.56" text-anchor="start" fill="#000" >Region-specific oligodendrogenesis</text>
<circle cx="551.1" cy="754.9" r="4.4" fill="#f0cf78"/>
<circle cx="551.1" cy="769.1" r="4.4" fill="#c2305e"/>
<text x="567.0" y="759.7" font-size="16.2" text-anchor="start" fill="#000" >Human</text>
<text x="567.0" y="773.3" font-size="16.2" text-anchor="start" fill="#000" >Mouse</text>
<text x="752.3" y="765.5" font-size="16.6" text-anchor="end" fill="#000" >Cerebellum</text>
<text x="752.3" y="797.3" font-size="16.6" text-anchor="end" fill="#000" >Hippocampus</text>
<text x="752.3" y="829.45" font-size="16.6" text-anchor="end" fill="#000" >Inferior parietal</text>
<text x="752.3" y="861.55" font-size="16.6" text-anchor="end" fill="#000" >Motor</text>
<text x="752.3" y="893.75" font-size="16.6" text-anchor="end" fill="#000" >SMTG</text>
<text x="764.4" y="930.2" font-size="16.55" text-anchor="start" fill="#000" >Committed oligodendrocyte</text>
<text x="826.2" y="950.0" font-size="16.5" text-anchor="start" fill="#000" >precursors</text>
</svg>
</body></html>
